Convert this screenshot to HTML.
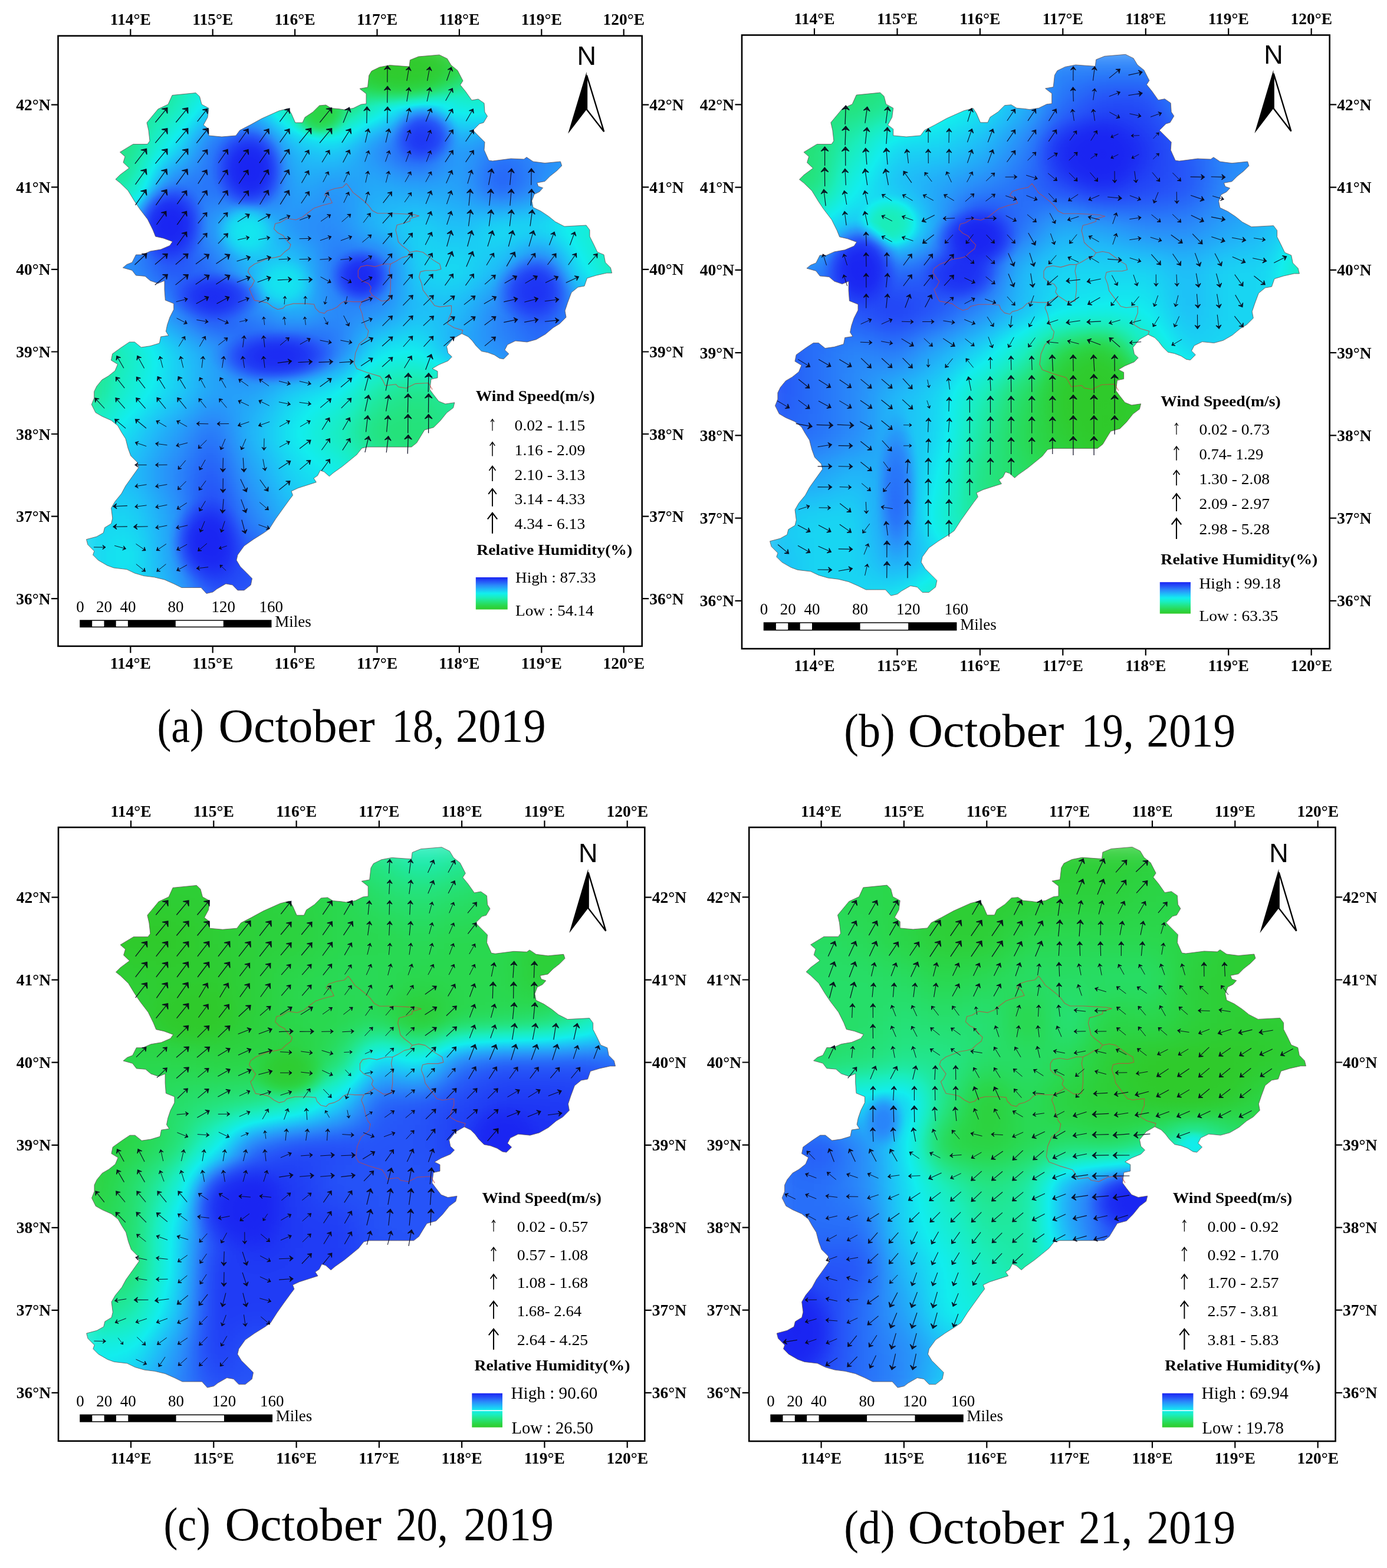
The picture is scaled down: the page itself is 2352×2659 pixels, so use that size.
<!DOCTYPE html>
<html><head><meta charset="utf-8"><title>Wind speed and relative humidity maps</title>
<style>html,body{margin:0;padding:0;background:#fff}svg{display:block}.tk{font:bold 27.5px "Liberation Serif",serif}.lg{font:26px "Liberation Serif",serif}.lh{font:bold 26px "Liberation Serif",serif}.cap{font:81px "Liberation Serif",serif}.sb{font:27px "Liberation Serif",serif}.n{font:45px "Liberation Sans",sans-serif}</style></head><body>
<svg width="2352" height="2659" viewBox="0 0 2352 2659">
<defs>
<radialGradient id="g0"><stop offset="0" stop-color="rgb(0,0,0)" stop-opacity="1"/><stop offset=".25" stop-color="rgb(0,0,0)" stop-opacity=".96"/><stop offset=".45" stop-color="rgb(0,0,0)" stop-opacity=".8"/><stop offset=".6" stop-color="rgb(0,0,0)" stop-opacity=".55"/><stop offset=".75" stop-color="rgb(0,0,0)" stop-opacity=".28"/><stop offset=".88" stop-color="rgb(0,0,0)" stop-opacity=".09"/><stop offset="1" stop-color="rgb(0,0,0)" stop-opacity="0"/></radialGradient>
<radialGradient id="g1"><stop offset="0" stop-color="rgb(13,13,13)" stop-opacity="1"/><stop offset=".25" stop-color="rgb(13,13,13)" stop-opacity=".96"/><stop offset=".45" stop-color="rgb(13,13,13)" stop-opacity=".8"/><stop offset=".6" stop-color="rgb(13,13,13)" stop-opacity=".55"/><stop offset=".75" stop-color="rgb(13,13,13)" stop-opacity=".28"/><stop offset=".88" stop-color="rgb(13,13,13)" stop-opacity=".09"/><stop offset="1" stop-color="rgb(13,13,13)" stop-opacity="0"/></radialGradient>
<radialGradient id="g7"><stop offset="0" stop-color="rgb(89,89,89)" stop-opacity="1"/><stop offset=".25" stop-color="rgb(89,89,89)" stop-opacity=".96"/><stop offset=".45" stop-color="rgb(89,89,89)" stop-opacity=".8"/><stop offset=".6" stop-color="rgb(89,89,89)" stop-opacity=".55"/><stop offset=".75" stop-color="rgb(89,89,89)" stop-opacity=".28"/><stop offset=".88" stop-color="rgb(89,89,89)" stop-opacity=".09"/><stop offset="1" stop-color="rgb(89,89,89)" stop-opacity="0"/></radialGradient>
<radialGradient id="g10"><stop offset="0" stop-color="rgb(128,128,128)" stop-opacity="1"/><stop offset=".25" stop-color="rgb(128,128,128)" stop-opacity=".96"/><stop offset=".45" stop-color="rgb(128,128,128)" stop-opacity=".8"/><stop offset=".6" stop-color="rgb(128,128,128)" stop-opacity=".55"/><stop offset=".75" stop-color="rgb(128,128,128)" stop-opacity=".28"/><stop offset=".88" stop-color="rgb(128,128,128)" stop-opacity=".09"/><stop offset="1" stop-color="rgb(128,128,128)" stop-opacity="0"/></radialGradient>
<radialGradient id="g16"><stop offset="0" stop-color="rgb(204,204,204)" stop-opacity="1"/><stop offset=".25" stop-color="rgb(204,204,204)" stop-opacity=".96"/><stop offset=".45" stop-color="rgb(204,204,204)" stop-opacity=".8"/><stop offset=".6" stop-color="rgb(204,204,204)" stop-opacity=".55"/><stop offset=".75" stop-color="rgb(204,204,204)" stop-opacity=".28"/><stop offset=".88" stop-color="rgb(204,204,204)" stop-opacity=".09"/><stop offset="1" stop-color="rgb(204,204,204)" stop-opacity="0"/></radialGradient>
<radialGradient id="g20"><stop offset="0" stop-color="rgb(255,255,255)" stop-opacity="1"/><stop offset=".25" stop-color="rgb(255,255,255)" stop-opacity=".96"/><stop offset=".45" stop-color="rgb(255,255,255)" stop-opacity=".8"/><stop offset=".6" stop-color="rgb(255,255,255)" stop-opacity=".55"/><stop offset=".75" stop-color="rgb(255,255,255)" stop-opacity=".28"/><stop offset=".88" stop-color="rgb(255,255,255)" stop-opacity=".09"/><stop offset="1" stop-color="rgb(255,255,255)" stop-opacity="0"/></radialGradient>
<filter id="gb" color-interpolation-filters="sRGB" x="-5%" y="-5%" width="110%" height="110%"><feGaussianBlur stdDeviation="27"/></filter>
<filter id="ramp" color-interpolation-filters="sRGB" x="0" y="0" width="100%" height="100%"><feComponentTransfer><feFuncR type="table" tableValues="0.188 0.165 0.141 0.102 0.071 0.125 0.165 0.149 0.102"/><feFuncG type="table" tableValues="0.792 0.847 0.894 0.933 0.933 0.737 0.541 0.329 0.141"/><feFuncB type="table" tableValues="0.165 0.306 0.510 0.745 0.933 0.973 0.980 0.973 0.949"/></feComponentTransfer></filter>
<linearGradient id="lgd" x1="0" y1="0" x2="0" y2="1"><stop offset="0.000" stop-color="rgb(26,36,242)"/><stop offset="0.125" stop-color="rgb(38,84,248)"/><stop offset="0.250" stop-color="rgb(42,138,250)"/><stop offset="0.375" stop-color="rgb(32,188,248)"/><stop offset="0.500" stop-color="rgb(18,238,238)"/><stop offset="0.625" stop-color="rgb(26,238,190)"/><stop offset="0.750" stop-color="rgb(36,228,130)"/><stop offset="0.875" stop-color="rgb(42,216,78)"/><stop offset="1.000" stop-color="rgb(48,202,42)"/></linearGradient>
</defs>
<rect width="2352" height="2659" fill="#fff"/>
<g id="panel-a">
<clipPath id="cpa"><path d="M292 161.5L332 157.5L338.5 163.7L342 177L354 183.6L352 199L345 212L354 219L354 230L376 232L400 230L406.6 221L424 212L444 201L473 188L488.5 184L494 192.5L500.7 208L513 208L517 199L530.5 190L541.6 179L552.7 178L561.5 183.6L575 184.7L583.6 186L599 183.6L612.4 177L621 176L621 159L610 150.4L623.5 148L625.7 128L630 120.6L643.4 114L661 110.6L694 113L695.4 101.8L709.7 96L745 93L758.4 99.6L765 110.6L776 119.5L785 137L780.5 144L789.4 155L800 170L811 168L821 175L822 190L826.5 197L820 208L813 210L802 221L822 241L821 254.4L828.8 272L835.4 273L866.4 269L888.5 270L893 266.6L904 274L924 276.5L950.4 274L952.7 281L943.8 290L932.7 298.7L924 307.5L910.6 310L912.8 316L920.6 318.6L915 325L906 329.6L901.8 340.7L904 351.8L917 358L930.5 367L941.6 376L957 384L994 382L1000 390L1000 401L1006.6 414L1013 427.4L1024 432L1026.5 445L1035.4 454L1037.6 463L1028.8 463L1011 467L995.6 471.7L991 485L980 487L969 496L962.4 513.7L958 527L960 538L949 549L938 555.7L924.8 566.8L909.3 575.7L893.8 580L874 578L860.6 584.5L856 593.4L862.8 600L854 608.8L847.3 607.7L838.5 602L827.4 597.8L816.4 595.6L807.5 586.7L800.9 577.9L794 571L783 565.7L768.6 574L757.5 587.6L759.7 598.7L766.4 605L759.7 612L744 618.6L733 625L742 629.6L742 640.7L731 643L728.8 660.6L735.4 669.5L744 680.5L755.3 685L770.8 682.7L768.6 691.6L757.5 700L746.5 713.7L735.4 724.8L720 729L713.3 740L706.6 751L697.8 758L671 758L622.6 758L613.7 760L605 771L591.6 782L580.5 791L565 802L558.4 807.7L549.6 800L543 797.8L538.5 806.6L531.9 811L536.3 817.7L523 822L505.3 827.7L494 833L496.5 839.8L489.8 848.7L478.8 864L467.7 879.6L456.6 897L447.4 903.6L429.7 914.7L414 925.8L403 941L401 950L407.6 961L418.7 972L427.5 981L425.3 992L414 1001L403 1001L394.3 992L383 990L367.8 998.8L361 1004L350 1006.5L341 996.5L325.8 996.5L308 996.5L294.8 990L279 983L261.6 978.8L244 976.6L228.4 972L215 965.6L193 963L182 959L166.5 950L157.6 941L159.8 934.6L148.8 923.5L146.5 914.7L164 910L175.3 903.6L177.5 894.8L188.6 888L190.8 879L188.6 861.6L195 850.5L206 837L213 824L224 808.5L235 793L232.8 784L221.8 773L217 759.8L213 744L206 733L199.6 721.7L188.5 712.8L173 706L162 699.6L155.3 686L159.7 675L159.7 664L164 655L173 644L184 637.6L195 628.8L199.6 617.7L188.5 611L190.7 600L206 589L219.5 580L228.3 580L239.4 589L254.9 586.7L270.4 582L272.6 571L285.8 569L281.4 562L283.6 551L288 538L294.7 524.8L294.7 514.8L280.3 509L279 491.6L279 476L268 480.5L254.9 476L246 468.4L230.5 467L224 458.4L208.4 454L215 448.5L224 445L230.5 432L241.6 432L254.9 426L272.6 423L288 416.4L292.5 409.7L277 404L263.7 401L259.3 390L250.4 372L236.7 354L228 341L217 323L203.5 310L196 304L203.5 296.5L219 285L209 275.5L212 265.5L203.5 258L225.7 244.5L250 244.5L254 239L252 221L249 208L268 185L285 177Z"/></clipPath>
<g clip-path="url(#cpa)"><g filter="url(#ramp)">
<g filter="url(#gb)">
<rect x="116.3" y="72.5" width="70.7" height="70.8" fill="rgb(72,72,72)"/>
<rect x="186" y="72.5" width="210.1" height="70.8" fill="rgb(80,80,80)"/>
<rect x="395.1" y="72.5" width="140.4" height="70.8" fill="rgb(64,64,64)"/>
<rect x="534.4" y="72.5" width="70.7" height="70.8" fill="rgb(16,16,16)"/>
<rect x="604.1" y="72.5" width="140.4" height="70.8" fill="rgb(0,0,0)"/>
<rect x="743.6" y="72.5" width="210.1" height="70.8" fill="rgb(32,32,32)"/>
<rect x="952.6" y="72.5" width="70.7" height="70.8" fill="rgb(112,112,112)"/>
<rect x="1022.4" y="72.5" width="70.7" height="70.8" fill="rgb(191,191,191)"/>
<rect x="116.3" y="142.3" width="70.7" height="70.8" fill="rgb(64,64,64)"/>
<rect x="186" y="142.3" width="70.7" height="70.8" fill="rgb(72,72,72)"/>
<rect x="255.6" y="142.3" width="70.7" height="70.8" fill="rgb(80,80,80)"/>
<rect x="325.4" y="142.3" width="70.7" height="70.8" fill="rgb(143,143,143)"/>
<rect x="395.1" y="142.3" width="70.7" height="70.8" fill="rgb(151,151,151)"/>
<rect x="464.8" y="142.3" width="70.7" height="70.8" fill="rgb(64,64,64)"/>
<rect x="534.4" y="142.3" width="70.7" height="70.8" fill="rgb(32,32,32)"/>
<rect x="604.1" y="142.3" width="70.7" height="70.8" fill="rgb(96,96,96)"/>
<rect x="673.9" y="142.3" width="70.7" height="70.8" fill="rgb(159,159,159)"/>
<rect x="743.6" y="142.3" width="140.4" height="70.8" fill="rgb(112,112,112)"/>
<rect x="882.9" y="142.3" width="70.7" height="70.8" fill="rgb(151,151,151)"/>
<rect x="952.6" y="142.3" width="140.4" height="70.8" fill="rgb(191,191,191)"/>
<rect x="116.3" y="212.1" width="140.4" height="70.8" fill="rgb(64,64,64)"/>
<rect x="255.6" y="212.1" width="70.7" height="70.8" fill="rgb(128,128,128)"/>
<rect x="325.4" y="212.1" width="70.7" height="70.8" fill="rgb(207,207,207)"/>
<rect x="395.1" y="212.1" width="70.7" height="70.8" fill="rgb(239,239,239)"/>
<rect x="464.8" y="212.1" width="70.7" height="70.8" fill="rgb(159,159,159)"/>
<rect x="534.4" y="212.1" width="70.7" height="70.8" fill="rgb(143,143,143)"/>
<rect x="604.1" y="212.1" width="70.7" height="70.8" fill="rgb(191,191,191)"/>
<rect x="673.9" y="212.1" width="70.7" height="70.8" fill="rgb(239,239,239)"/>
<rect x="743.6" y="212.1" width="70.7" height="70.8" fill="rgb(175,175,175)"/>
<rect x="813.3" y="212.1" width="70.7" height="70.8" fill="rgb(199,199,199)"/>
<rect x="882.9" y="212.1" width="140.4" height="70.8" fill="rgb(191,191,191)"/>
<rect x="1022.4" y="212.1" width="70.7" height="70.8" fill="rgb(151,151,151)"/>
<rect x="116.3" y="281.9" width="140.4" height="70.8" fill="rgb(80,80,80)"/>
<rect x="255.6" y="281.9" width="70.7" height="70.8" fill="rgb(207,207,207)"/>
<rect x="325.4" y="281.9" width="70.7" height="70.8" fill="rgb(201,201,201)"/>
<rect x="395.1" y="281.9" width="70.7" height="70.8" fill="rgb(255,255,255)"/>
<rect x="464.8" y="281.9" width="70.7" height="70.8" fill="rgb(169,169,169)"/>
<rect x="534.4" y="281.9" width="70.7" height="70.8" fill="rgb(185,185,185)"/>
<rect x="604.1" y="281.9" width="70.7" height="70.8" fill="rgb(169,169,169)"/>
<rect x="673.9" y="281.9" width="140.4" height="70.8" fill="rgb(175,175,175)"/>
<rect x="813.3" y="281.9" width="70.7" height="70.8" fill="rgb(223,223,223)"/>
<rect x="882.9" y="281.9" width="70.7" height="70.8" fill="rgb(191,191,191)"/>
<rect x="952.6" y="281.9" width="70.7" height="70.8" fill="rgb(151,151,151)"/>
<rect x="1022.4" y="281.9" width="70.7" height="70.8" fill="rgb(112,112,112)"/>
<rect x="116.3" y="351.7" width="70.7" height="70.8" fill="rgb(135,135,135)"/>
<rect x="186" y="351.7" width="70.7" height="70.8" fill="rgb(175,175,175)"/>
<rect x="255.6" y="351.7" width="70.7" height="70.8" fill="rgb(255,255,255)"/>
<rect x="325.4" y="351.7" width="70.7" height="70.8" fill="rgb(175,175,175)"/>
<rect x="395.1" y="351.7" width="70.7" height="70.8" fill="rgb(128,128,128)"/>
<rect x="464.8" y="351.7" width="140.4" height="70.8" fill="rgb(191,191,191)"/>
<rect x="604.1" y="351.7" width="70.7" height="70.8" fill="rgb(159,159,159)"/>
<rect x="673.9" y="351.7" width="70.7" height="70.8" fill="rgb(143,143,143)"/>
<rect x="743.6" y="351.7" width="70.7" height="70.8" fill="rgb(159,159,159)"/>
<rect x="813.3" y="351.7" width="140.4" height="70.8" fill="rgb(134,134,134)"/>
<rect x="952.6" y="351.7" width="70.7" height="70.8" fill="rgb(112,112,112)"/>
<rect x="1022.4" y="351.7" width="70.7" height="70.8" fill="rgb(96,96,96)"/>
<rect x="116.3" y="421.5" width="140.4" height="70.8" fill="rgb(191,191,191)"/>
<rect x="255.6" y="421.5" width="70.7" height="70.8" fill="rgb(223,223,223)"/>
<rect x="325.4" y="421.5" width="70.7" height="70.8" fill="rgb(207,207,207)"/>
<rect x="395.1" y="421.5" width="70.7" height="70.8" fill="rgb(159,159,159)"/>
<rect x="464.8" y="421.5" width="70.7" height="70.8" fill="rgb(143,143,143)"/>
<rect x="534.4" y="421.5" width="70.7" height="70.8" fill="rgb(207,207,207)"/>
<rect x="604.1" y="421.5" width="70.7" height="70.8" fill="rgb(223,223,223)"/>
<rect x="673.9" y="421.5" width="70.7" height="70.8" fill="rgb(143,143,143)"/>
<rect x="743.6" y="421.5" width="70.7" height="70.8" fill="rgb(137,137,137)"/>
<rect x="813.3" y="421.5" width="70.7" height="70.8" fill="rgb(159,159,159)"/>
<rect x="882.9" y="421.5" width="70.7" height="70.8" fill="rgb(223,223,223)"/>
<rect x="952.6" y="421.5" width="70.7" height="70.8" fill="rgb(128,128,128)"/>
<rect x="1022.4" y="421.5" width="70.7" height="70.8" fill="rgb(80,80,80)"/>
<rect x="116.3" y="491.3" width="70.7" height="70.8" fill="rgb(64,64,64)"/>
<rect x="186" y="491.3" width="70.7" height="70.8" fill="rgb(159,159,159)"/>
<rect x="255.6" y="491.3" width="70.7" height="70.8" fill="rgb(191,191,191)"/>
<rect x="325.4" y="491.3" width="70.7" height="70.8" fill="rgb(239,239,239)"/>
<rect x="395.1" y="491.3" width="70.7" height="70.8" fill="rgb(191,191,191)"/>
<rect x="464.8" y="491.3" width="70.7" height="70.8" fill="rgb(159,159,159)"/>
<rect x="534.4" y="491.3" width="140.4" height="70.8" fill="rgb(191,191,191)"/>
<rect x="673.9" y="491.3" width="140.4" height="70.8" fill="rgb(159,159,159)"/>
<rect x="813.3" y="491.3" width="70.7" height="70.8" fill="rgb(198,198,198)"/>
<rect x="882.9" y="491.3" width="70.7" height="70.8" fill="rgb(223,223,223)"/>
<rect x="952.6" y="491.3" width="70.7" height="70.8" fill="rgb(191,191,191)"/>
<rect x="1022.4" y="491.3" width="70.7" height="70.8" fill="rgb(135,135,135)"/>
<rect x="116.3" y="561.1" width="70.7" height="70.8" fill="rgb(64,64,64)"/>
<rect x="186" y="561.1" width="70.7" height="70.8" fill="rgb(96,96,96)"/>
<rect x="255.6" y="561.1" width="70.7" height="70.8" fill="rgb(143,143,143)"/>
<rect x="325.4" y="561.1" width="70.7" height="70.8" fill="rgb(175,175,175)"/>
<rect x="395.1" y="561.1" width="70.7" height="70.8" fill="rgb(223,223,223)"/>
<rect x="464.8" y="561.1" width="70.7" height="70.8" fill="rgb(239,239,239)"/>
<rect x="534.4" y="561.1" width="70.7" height="70.8" fill="rgb(207,207,207)"/>
<rect x="604.1" y="561.1" width="70.7" height="70.8" fill="rgb(134,134,134)"/>
<rect x="673.9" y="561.1" width="70.7" height="70.8" fill="rgb(128,128,128)"/>
<rect x="743.6" y="561.1" width="70.7" height="70.8" fill="rgb(175,175,175)"/>
<rect x="813.3" y="561.1" width="70.7" height="70.8" fill="rgb(191,191,191)"/>
<rect x="882.9" y="561.1" width="70.7" height="70.8" fill="rgb(207,207,207)"/>
<rect x="952.6" y="561.1" width="140.4" height="70.8" fill="rgb(191,191,191)"/>
<rect x="116.3" y="630.8" width="70.7" height="70.8" fill="rgb(64,64,64)"/>
<rect x="186" y="630.8" width="70.7" height="70.8" fill="rgb(112,112,112)"/>
<rect x="255.6" y="630.8" width="70.7" height="70.8" fill="rgb(143,143,143)"/>
<rect x="325.4" y="630.8" width="140.4" height="70.8" fill="rgb(175,175,175)"/>
<rect x="464.8" y="630.8" width="70.7" height="70.8" fill="rgb(143,143,143)"/>
<rect x="534.4" y="630.8" width="70.7" height="70.8" fill="rgb(128,128,128)"/>
<rect x="604.1" y="630.8" width="70.7" height="70.8" fill="rgb(80,80,80)"/>
<rect x="673.9" y="630.8" width="70.7" height="70.8" fill="rgb(64,64,64)"/>
<rect x="743.6" y="630.8" width="70.7" height="70.8" fill="rgb(80,80,80)"/>
<rect x="813.3" y="630.8" width="70.7" height="70.8" fill="rgb(135,135,135)"/>
<rect x="882.9" y="630.8" width="210.1" height="70.8" fill="rgb(191,191,191)"/>
<rect x="116.3" y="700.6" width="70.7" height="70.8" fill="rgb(104,104,104)"/>
<rect x="186" y="700.6" width="70.7" height="70.8" fill="rgb(143,143,143)"/>
<rect x="255.6" y="700.6" width="70.7" height="70.8" fill="rgb(175,175,175)"/>
<rect x="325.4" y="700.6" width="70.7" height="70.8" fill="rgb(207,207,207)"/>
<rect x="395.1" y="700.6" width="70.7" height="70.8" fill="rgb(159,159,159)"/>
<rect x="464.8" y="700.6" width="70.7" height="70.8" fill="rgb(128,128,128)"/>
<rect x="534.4" y="700.6" width="70.7" height="70.8" fill="rgb(96,96,96)"/>
<rect x="604.1" y="700.6" width="140.4" height="70.8" fill="rgb(57,57,57)"/>
<rect x="743.6" y="700.6" width="70.7" height="70.8" fill="rgb(69,69,69)"/>
<rect x="813.3" y="700.6" width="70.7" height="70.8" fill="rgb(80,80,80)"/>
<rect x="882.9" y="700.6" width="70.7" height="70.8" fill="rgb(135,135,135)"/>
<rect x="952.6" y="700.6" width="140.4" height="70.8" fill="rgb(191,191,191)"/>
<rect x="116.3" y="770.4" width="140.4" height="70.8" fill="rgb(159,159,159)"/>
<rect x="255.6" y="770.4" width="70.7" height="70.8" fill="rgb(191,191,191)"/>
<rect x="325.4" y="770.4" width="70.7" height="70.8" fill="rgb(223,223,223)"/>
<rect x="395.1" y="770.4" width="70.7" height="70.8" fill="rgb(175,175,175)"/>
<rect x="464.8" y="770.4" width="70.7" height="70.8" fill="rgb(143,143,143)"/>
<rect x="534.4" y="770.4" width="70.7" height="70.8" fill="rgb(128,128,128)"/>
<rect x="604.1" y="770.4" width="70.7" height="70.8" fill="rgb(92,92,92)"/>
<rect x="673.9" y="770.4" width="140.4" height="70.8" fill="rgb(57,57,57)"/>
<rect x="813.3" y="770.4" width="70.7" height="70.8" fill="rgb(69,69,69)"/>
<rect x="882.9" y="770.4" width="70.7" height="70.8" fill="rgb(80,80,80)"/>
<rect x="952.6" y="770.4" width="70.7" height="70.8" fill="rgb(135,135,135)"/>
<rect x="1022.4" y="770.4" width="70.7" height="70.8" fill="rgb(191,191,191)"/>
<rect x="116.3" y="840.2" width="140.4" height="70.8" fill="rgb(143,143,143)"/>
<rect x="255.6" y="840.2" width="70.7" height="70.8" fill="rgb(175,175,175)"/>
<rect x="325.4" y="840.2" width="70.7" height="70.8" fill="rgb(239,239,239)"/>
<rect x="395.1" y="840.2" width="70.7" height="70.8" fill="rgb(191,191,191)"/>
<rect x="464.8" y="840.2" width="70.7" height="70.8" fill="rgb(159,159,159)"/>
<rect x="534.4" y="840.2" width="70.7" height="70.8" fill="rgb(143,143,143)"/>
<rect x="604.1" y="840.2" width="70.7" height="70.8" fill="rgb(128,128,128)"/>
<rect x="673.9" y="840.2" width="70.7" height="70.8" fill="rgb(92,92,92)"/>
<rect x="743.6" y="840.2" width="140.4" height="70.8" fill="rgb(57,57,57)"/>
<rect x="882.9" y="840.2" width="70.7" height="70.8" fill="rgb(69,69,69)"/>
<rect x="952.6" y="840.2" width="70.7" height="70.8" fill="rgb(80,80,80)"/>
<rect x="1022.4" y="840.2" width="70.7" height="70.8" fill="rgb(135,135,135)"/>
<rect x="116.3" y="910" width="70.7" height="70.8" fill="rgb(143,143,143)"/>
<rect x="186" y="910" width="70.7" height="70.8" fill="rgb(128,128,128)"/>
<rect x="255.6" y="910" width="70.7" height="70.8" fill="rgb(175,175,175)"/>
<rect x="325.4" y="910" width="70.7" height="70.8" fill="rgb(255,255,255)"/>
<rect x="395.1" y="910" width="70.7" height="70.8" fill="rgb(223,223,223)"/>
<rect x="464.8" y="910" width="70.7" height="70.8" fill="rgb(191,191,191)"/>
<rect x="534.4" y="910" width="70.7" height="70.8" fill="rgb(159,159,159)"/>
<rect x="604.1" y="910" width="70.7" height="70.8" fill="rgb(143,143,143)"/>
<rect x="673.9" y="910" width="70.7" height="70.8" fill="rgb(128,128,128)"/>
<rect x="743.6" y="910" width="70.7" height="70.8" fill="rgb(92,92,92)"/>
<rect x="813.3" y="910" width="140.4" height="70.8" fill="rgb(57,57,57)"/>
<rect x="952.6" y="910" width="70.7" height="70.8" fill="rgb(69,69,69)"/>
<rect x="1022.4" y="910" width="70.7" height="70.8" fill="rgb(80,80,80)"/>
<rect x="116.3" y="979.8" width="140.4" height="70.8" fill="rgb(143,143,143)"/>
<rect x="255.6" y="979.8" width="70.7" height="70.8" fill="rgb(159,159,159)"/>
<rect x="325.4" y="979.8" width="210.1" height="70.8" fill="rgb(223,223,223)"/>
<rect x="534.4" y="979.8" width="70.7" height="70.8" fill="rgb(191,191,191)"/>
<rect x="604.1" y="979.8" width="70.7" height="70.8" fill="rgb(159,159,159)"/>
<rect x="673.9" y="979.8" width="70.7" height="70.8" fill="rgb(143,143,143)"/>
<rect x="743.6" y="979.8" width="70.7" height="70.8" fill="rgb(128,128,128)"/>
<rect x="813.3" y="979.8" width="70.7" height="70.8" fill="rgb(92,92,92)"/>
<rect x="882.9" y="979.8" width="140.4" height="70.8" fill="rgb(57,57,57)"/>
<rect x="1022.4" y="979.8" width="70.7" height="70.8" fill="rgb(69,69,69)"/>
</g>
<ellipse cx="689.7" cy="119.1" rx="122" ry="69.8" fill="url(#g0)" opacity="0.9"/>
<ellipse cx="541.9" cy="195.8" rx="52.3" ry="43.6" fill="url(#g1)" opacity="0.8"/>
<ellipse cx="416.5" cy="391.3" rx="52.3" ry="52.3" fill="url(#g10)" opacity="0.8"/>
<ellipse cx="479.2" cy="482" rx="61" ry="48.9" fill="url(#g10)" opacity="0.8"/>
<ellipse cx="286.8" cy="378.7" rx="66.2" ry="73.3" fill="url(#g20)" opacity="0.95"/>
<ellipse cx="423.4" cy="286.6" rx="66.2" ry="73.3" fill="url(#g20)" opacity="0.95"/>
<ellipse cx="720.4" cy="227.9" rx="61" ry="52.3" fill="url(#g20)" opacity="0.7"/>
<ellipse cx="611.6" cy="469.4" rx="55.8" ry="52.3" fill="url(#g20)" opacity="0.9"/>
<ellipse cx="904.4" cy="491.8" rx="73.2" ry="62.8" fill="url(#g20)" opacity="0.75"/>
<ellipse cx="468" cy="606.2" rx="113.3" ry="48.9" fill="url(#g20)" opacity="0.85"/>
<ellipse cx="350.9" cy="917.5" rx="66.2" ry="78.5" fill="url(#g20)" opacity="0.95"/>
<ellipse cx="367.7" cy="501.5" rx="87.1" ry="45.4" fill="url(#g20)" opacity="0.8"/>
</g></g>
<path d="M292 161.5L332 157.5L338.5 163.7L342 177L354 183.6L352 199L345 212L354 219L354 230L376 232L400 230L406.6 221L424 212L444 201L473 188L488.5 184L494 192.5L500.7 208L513 208L517 199L530.5 190L541.6 179L552.7 178L561.5 183.6L575 184.7L583.6 186L599 183.6L612.4 177L621 176L621 159L610 150.4L623.5 148L625.7 128L630 120.6L643.4 114L661 110.6L694 113L695.4 101.8L709.7 96L745 93L758.4 99.6L765 110.6L776 119.5L785 137L780.5 144L789.4 155L800 170L811 168L821 175L822 190L826.5 197L820 208L813 210L802 221L822 241L821 254.4L828.8 272L835.4 273L866.4 269L888.5 270L893 266.6L904 274L924 276.5L950.4 274L952.7 281L943.8 290L932.7 298.7L924 307.5L910.6 310L912.8 316L920.6 318.6L915 325L906 329.6L901.8 340.7L904 351.8L917 358L930.5 367L941.6 376L957 384L994 382L1000 390L1000 401L1006.6 414L1013 427.4L1024 432L1026.5 445L1035.4 454L1037.6 463L1028.8 463L1011 467L995.6 471.7L991 485L980 487L969 496L962.4 513.7L958 527L960 538L949 549L938 555.7L924.8 566.8L909.3 575.7L893.8 580L874 578L860.6 584.5L856 593.4L862.8 600L854 608.8L847.3 607.7L838.5 602L827.4 597.8L816.4 595.6L807.5 586.7L800.9 577.9L794 571L783 565.7L768.6 574L757.5 587.6L759.7 598.7L766.4 605L759.7 612L744 618.6L733 625L742 629.6L742 640.7L731 643L728.8 660.6L735.4 669.5L744 680.5L755.3 685L770.8 682.7L768.6 691.6L757.5 700L746.5 713.7L735.4 724.8L720 729L713.3 740L706.6 751L697.8 758L671 758L622.6 758L613.7 760L605 771L591.6 782L580.5 791L565 802L558.4 807.7L549.6 800L543 797.8L538.5 806.6L531.9 811L536.3 817.7L523 822L505.3 827.7L494 833L496.5 839.8L489.8 848.7L478.8 864L467.7 879.6L456.6 897L447.4 903.6L429.7 914.7L414 925.8L403 941L401 950L407.6 961L418.7 972L427.5 981L425.3 992L414 1001L403 1001L394.3 992L383 990L367.8 998.8L361 1004L350 1006.5L341 996.5L325.8 996.5L308 996.5L294.8 990L279 983L261.6 978.8L244 976.6L228.4 972L215 965.6L193 963L182 959L166.5 950L157.6 941L159.8 934.6L148.8 923.5L146.5 914.7L164 910L175.3 903.6L177.5 894.8L188.6 888L190.8 879L188.6 861.6L195 850.5L206 837L213 824L224 808.5L235 793L232.8 784L221.8 773L217 759.8L213 744L206 733L199.6 721.7L188.5 712.8L173 706L162 699.6L155.3 686L159.7 675L159.7 664L164 655L173 644L184 637.6L195 628.8L199.6 617.7L188.5 611L190.7 600L206 589L219.5 580L228.3 580L239.4 589L254.9 586.7L270.4 582L272.6 571L285.8 569L281.4 562L283.6 551L288 538L294.7 524.8L294.7 514.8L280.3 509L279 491.6L279 476L268 480.5L254.9 476L246 468.4L230.5 467L224 458.4L208.4 454L215 448.5L224 445L230.5 432L241.6 432L254.9 426L272.6 423L288 416.4L292.5 409.7L277 404L263.7 401L259.3 390L250.4 372L236.7 354L228 341L217 323L203.5 310L196 304L203.5 296.5L219 285L209 275.5L212 265.5L203.5 258L225.7 244.5L250 244.5L254 239L252 221L249 208L268 185L285 177Z" fill="none" stroke="#5a4a4a" stroke-width="1" stroke-opacity=".75" stroke-linejoin="round"/>
<path d="M587.5 311L594.1 319.8L598.5 326.4L607.3 333L618.3 341.8L624.9 348.5L631.5 357.3L640.3 361.7L662.2 361.7L684.2 362.8L701.8 363.9L710.6 366.1L695.2 370.5L695.2 374.9L682 379.3L673.2 381.5L671 390.3L673.2 399.2L675.4 410.2L682 416.8L690.8 423.4L695.2 427.8L690.8 434.4L682 436.6L671 443.3L662.2 447.7L651.2 447.7L635.9 452.1L622.7 449.9L611.7 452.1L607.3 458.7L607.3 469.7L613.9 476.3L624.9 480.7L629.3 487.4L627.1 494L631.5 500.6L624.9 505L613.9 511.6L598.5 511.6L585.3 510.5L578.7 513.8L572.1 520.4L563.4 524.8L554.6 527L550.2 531.4L541.4 529.2L534.8 522.6L532.6 516L519.4 514.9L497.4 514.9L484.2 518.2L479.9 522.6L471.1 524.8L462.3 520.4L453.5 513.8L444.7 511.6L431.5 509.4L427.1 500.6L422.7 489.6L427.1 485.1L431.5 476.3L424.9 467.5L420.5 460.9L422.7 454.3L431.5 447.7L442.5 443.3L453.5 438.8L466.7 436.6L475.5 434.4L482 427.8L490.8 421.2L493 414.6L486.4 408L479.9 399.2L471.1 394.8L464.5 388.1L466.7 379.3L475.5 377.1L486.4 370.5L501.8 372.7L512.8 368.3L523.8 359.5L532.6 352.9L545.8 348.5L554.6 346.2L563.4 344L559 335.2L550.2 330.8L554.6 324.2L567.7 319.8L580.9 317.6L587.5 311" fill="none" stroke="#c8463c" stroke-width="1.1" stroke-opacity=".75" stroke-linejoin="round"/>
<path d="M695.2 427.8L706.2 425.6L717.2 427.8L726 434.4L734.7 441.1L745.7 447.7L747.9 456.5L739.1 458.7L721.6 458.7L712.8 460.9L710.6 469.7L715 480.7L717.2 491.8L723.8 500.6L730.3 509.4L736.9 518.2L745.7 520.4L765.5 518.2L765.5 529.2L761.1 540.3L758.9 549.1L769.9 555.7L784.8 560.1L783.1 565.7" fill="none" stroke="#c8463c" stroke-width="1.1" stroke-opacity=".75" stroke-linejoin="round"/>
<path d="M662.2 447.7L660 458.7L662.2 469.7L662.2 480.7L662.2 491.8L660 509.4L646.8 510.5L631.5 500.6" fill="none" stroke="#c8463c" stroke-width="1.1" stroke-opacity=".75" stroke-linejoin="round"/>
<path d="M613.9 511.6L609.5 520.4L613.9 531.4L616.1 542.5L620.5 555.7L624.8 561L622.6 572.1L609.3 583.1L602.7 598.6L600.4 616.3L604.9 625.2L622.6 631.8L644.7 638.4L649.1 645.1L653.5 653.9L671.2 651.7L675.7 656.1L688.9 658.3L704.4 650.6L726.5 649.5L733.2 660.6" fill="none" stroke="#c8463c" stroke-width="1.1" stroke-opacity=".75" stroke-linejoin="round"/>
<path d="M383.2 967.6L373 958.1M377.8 958.8L373 958.1L374 962.9L374.6 959.6ZM384.8 925.7L371.5 930.2M374.4 926.3L371.5 930.2L376.2 931.6L373.6 929.5ZM406.2 545.7L419.8 542.5M416.5 546.2L419.8 542.5L415.3 540.7L417.7 543ZM448.6 551.1L447 537.2M450.3 540.8L447 537.2L444.7 541.5L447.3 539.3ZM483.5 551.1L481.8 537.2M485.1 540.8L481.8 537.2L479.5 541.5L482.1 539.3ZM482.1 516.2L483.3 502.2M485.7 506.5L483.3 502.2L480.1 506L483.1 504.4ZM518.4 551.1L516.7 537.2M519.9 540.8L516.7 537.2L514.4 541.5L516.9 539.3ZM517.2 516.2L517.8 502.2M520.5 506.3L517.8 502.2L514.9 506.1L517.7 504.4ZM549.2 537.9L555.6 550.3M551.3 548.1L555.6 550.3L556.2 545.5L554.6 548.4ZM554 502.4L550.7 516M549 511.5L550.7 516L554.4 512.8L551.3 513.9ZM588.8 502.4L585.7 516M583.8 511.5L585.7 516L589.3 512.8L586.2 513.9Z" fill="#000" fill-opacity=".7" stroke="#06061c" stroke-opacity=".92" stroke-width="0.9" stroke-linejoin="miter"/>
<path d="M159 927.9L179 928.1M174 931.6L179 928.1L174.1 924.4L176.3 928ZM194.2 925.3L213.5 930.6M207.7 932.8L213.5 930.6L209.6 925.8L210.9 929.9ZM230.9 956.6L246.5 969.1M240.3 968.8L246.5 969.1L244.9 963.2L244.4 967.4ZM230.5 922.3L247 933.6M240.8 933.8L247 933.6L244.9 927.8L244.7 932.1ZM248.6 856.9L228.8 859.4M233.3 855.2L228.8 859.4L234.2 862.4L231.5 859.1ZM248.6 821.7L228.9 824.9M233.2 820.5L228.9 824.9L234.4 827.6L231.6 824.4ZM248.7 788.4L228.7 788.4M233.7 784.8L228.7 788.4L233.7 792L231.5 788.4ZM248.2 756.7L229.3 750.3M235.1 748.5L229.3 750.3L232.8 755.3L231.9 751.2ZM281.4 956.6L265.8 969.1M267.4 963.2L265.8 969.1L271.9 968.8L267.9 967.4ZM281.9 922.4L265.3 933.6M267.4 927.8L265.3 933.6L271.4 933.7L267.6 932ZM283.4 891.1L263.8 895M268 890.5L263.8 895L269.4 897.6L266.5 894.5ZM283.4 856.1L263.8 860.2M267.9 855.7L263.8 860.2L269.4 862.7L266.5 859.7ZM283.4 821.5L263.7 825.1M268 820.6L263.7 825.1L269.3 827.7L266.4 824.6ZM283.6 788.2L263.6 788.5M268.5 784.8L263.6 788.5L268.6 792L266.3 788.5ZM283.5 754.8L263.7 752.2M269.1 749.3L263.7 752.2L268.2 756.4L266.4 752.5ZM282.2 723.6L264.9 713.6M271.1 713L264.9 713.6L267.4 719.2L267.3 714.9ZM276.1 623.6L271 604.2M275.8 608.1L271 604.2L268.8 610L271.7 606.9ZM317.1 958L299.7 967.7M302.3 962.2L299.7 967.7L305.8 968.4L302.1 966.4ZM317.2 923.1L299.7 932.8M302.3 927.2L299.7 932.8L305.8 933.5L302.1 931.5ZM318.2 890.8L298.7 895.3M302.7 890.7L298.7 895.3L304.4 897.7L301.4 894.7ZM316.8 852.7L300 863.6M302.3 857.9L300 863.6L306.2 863.9L302.3 862.1ZM315.5 816.2L301.4 830.4M302.3 824.3L301.4 830.4L307.5 829.4L303.3 828.4ZM314.9 780.7L302 796M302.5 789.9L302 796L308 794.5L303.8 793.9ZM318.1 750.9L298.8 756M302.7 751.3L298.8 756L304.5 758.2L301.4 755.3ZM317.2 723.4L299.7 713.7M305.8 713L299.7 713.7L302.3 719.3L302.1 715.1ZM310.8 623.6L306 604.2M310.7 608.2L306 604.2L303.7 609.9L306.7 606.9ZM303.1 587.5L313.7 570.5M314.1 576.7L313.7 570.5L308 572.9L312.3 572.9ZM299.6 539.5L317.3 548.7M311.2 549.6L317.3 548.7L314.5 543.2L314.8 547.5ZM298.7 511.7L318.1 506.7M314.2 511.5L318.1 506.7L312.4 504.5L315.5 507.4ZM353.2 961.7L333.3 964M337.9 959.9L333.3 964L338.7 967L336.1 963.7ZM350.9 921.5L335.7 934.4M337.1 928.5L335.7 934.4L341.8 933.9L337.8 932.7ZM347.1 883.8L339.5 902.3M338 896.3L339.5 902.3L344.7 899.1L340.5 899.8ZM348.4 849.6L338.1 866.8M337.6 860.6L338.1 866.8L343.8 864.3L339.6 864.4ZM349.2 815.2L337.4 831.3M337.4 825.2L337.4 831.3L343.2 829.4L339 829.1ZM348.2 779.7L338.3 797.1M337.7 790.9L338.3 797.1L343.9 794.5L339.7 794.7ZM350.4 746.4L336.2 760.5M337.2 754.4L336.2 760.5L342.3 759.6L338.1 758.6ZM353.3 718.8L333.3 718.4M338.3 714.9L333.3 718.4L338.2 722.1L336 718.4ZM349.5 691.5L337.1 675.8M343 677.5L337.1 675.8L337.4 682L338.8 678ZM348 657.6L338.5 640M344.1 642.7L338.5 640L337.7 646.1L339.8 642.4ZM342.1 623.8L344.5 604M347.5 609.4L344.5 604L340.3 608.5L344.2 606.7ZM338.3 587.7L348.3 570.3M348.9 576.5L348.3 570.3L342.6 572.9L346.9 572.7ZM333.4 542.4L353.1 545.8M347.6 548.5L353.1 545.8L348.8 541.4L350.4 545.3ZM381.2 883.6L375 902.6M373.2 896.7L375 902.6L380 898.9L375.9 900ZM382 744.3L374.2 762.7M372.9 756.7L374.2 762.7L379.5 759.5L375.3 760.2ZM388.1 718.5L368.1 718.7M373.1 715L368.1 718.7L373.1 722.2L370.9 718.6ZM384.5 691.4L371.7 676M377.7 677.5L371.7 676L372.2 682.2L373.5 678.1ZM383.1 657.5L373.2 640.1M378.8 642.7L373.2 640.1L372.5 646.2L374.5 642.5ZM376.7 623.8L379.6 604M382.4 609.5L379.6 604L375.3 608.4L379.2 606.7ZM370.3 585.2L386 572.8M384.3 578.7L386 572.8L379.8 573.1L383.8 574.5ZM369 540L387.3 548.2M381.2 549.4L387.3 548.2L384.2 542.8L384.8 547ZM416.9 744.3L409 762.7M407.7 756.7L409 762.7L414.3 759.5L410.1 760.1ZM422.4 715.3L403.5 721.9M407.1 716.8L403.5 721.9L409.4 723.6L406.1 721ZM422 688L404 679.4M410 678.3L404 679.4L406.9 684.8L406.4 680.6ZM421.1 654.6L404.8 643M411 643L404.8 643L406.8 648.8L407.1 644.6ZM414.5 623.8L411.4 604M415.8 608.4L411.4 604L408.6 609.5L411.8 606.7ZM411.7 588.9L414.2 569.1M417.2 574.5L414.2 569.1L410 573.6L413.9 571.8ZM403.6 512.8L422.3 505.6M418.9 510.8L422.3 505.6L416.4 504.1L419.7 506.6ZM403.2 406.7L422.7 402.4M418.6 407L422.7 402.4L417.1 399.9L420.1 403ZM438.4 889.7L457.2 896.5M451.3 898.2L457.2 896.5L453.8 891.4L454.6 895.5ZM440.2 851.7L455.4 864.7M449.3 864.2L455.4 864.7L454 858.7L453.3 862.9ZM445.9 778.6L449.7 798.2M445.2 794L449.7 798.2L452.3 792.6L449.2 795.5ZM448 743.5L447.6 763.5M444.1 758.4L447.6 763.5L451.3 758.5L447.7 760.7ZM457.2 715.2L438.4 722M441.9 716.9L438.4 722L444.3 723.7L441 721ZM456.8 688.1L438.9 679.2M444.9 678.2L438.9 679.2L441.7 684.7L441.3 680.5ZM456 654.6L439.7 643M445.8 643L439.7 643L441.7 648.8L441.9 644.6ZM449 623.8L446.6 604M450.8 608.5L446.6 604L443.6 609.4L446.9 606.7ZM448.9 588.9L446.7 569.1M450.9 573.6L446.7 569.1L443.7 574.4L447 571.8ZM438.7 513.3L456.9 505.1M453.9 510.4L456.9 505.1L450.9 503.9L454.4 506.2ZM438 406.4L457.6 402.7M453.4 407.1L457.6 402.7L452.1 400.1L454.9 403.2ZM473.9 758.3L491.4 748.7M488.8 754.2L491.4 748.7L485.3 747.9L489 750ZM474 723.5L491.4 713.7M488.8 719.3L491.4 713.7L485.3 713L489 715ZM472.9 681.7L492.5 685.7M486.9 688.2L492.5 685.7L488.3 681.2L489.8 685.1ZM473 646.3L492.4 651.3M486.6 653.5L492.4 651.3L488.4 646.6L489.7 650.6ZM475 585.5L490.3 572.5M488.8 578.5L490.3 572.5L484.2 573L488.2 574.3ZM472.7 440L492.7 438.8M487.9 442.7L492.7 438.8L487.4 435.5L489.9 439ZM472.7 404.8L492.7 404.3M487.8 408L492.7 404.3L487.6 400.8L489.9 404.3ZM473.5 373.5L491.9 365.7M488.7 371L491.9 365.7L485.9 364.4L489.3 366.8ZM508.9 723.6L526.2 713.5M523.7 719.2L526.2 713.5L520 713L523.8 714.9ZM507.6 682.3L527.4 685.1M522 688L527.4 685.1L523 680.8L524.7 684.7ZM507.8 646.5L527.3 651.1M521.6 653.4L527.3 651.1L523.2 646.4L524.6 650.5ZM508.8 583.9L526.2 574.1M523.7 579.7L526.2 574.1L520.1 573.4L523.8 575.4ZM507.5 439.7L527.5 439.2M522.6 442.9L527.5 439.2L522.4 435.7L524.8 439.2ZM507.5 404.8L527.5 404.3M522.6 408L527.5 404.3L522.4 400.8L524.8 404.3ZM508.2 373.2L526.9 366.1M523.5 371.2L526.9 366.1L520.9 364.5L524.3 367.1ZM542.6 577L562.2 581M556.6 583.5L562.2 581L558 576.5L559.5 580.4ZM543.6 469.5L561.2 479.1M555 479.9L561.2 479.1L558.5 473.5L558.7 477.8ZM542.4 440.1L562.4 438.8M557.6 442.7L562.4 438.8L557.1 435.5L559.6 438.9ZM542.9 407.8L561.8 401.2M558.3 406.3L561.8 401.2L555.9 399.5L559.2 402.1ZM544.1 375.3L560.6 364M558.5 369.8L560.6 364L554.5 363.8L558.4 365.5ZM547.9 343.7L556.8 325.8M557.8 331.9L556.8 325.8L551.4 328.7L555.6 328.2ZM547.8 308.7L557 291M557.9 297.1L557 291L551.5 293.7L555.7 293.4ZM577.4 577L597 581M591.4 583.5L597 581L592.9 576.5L594.3 580.5ZM582.7 535.2L591.8 553M586.3 550.2L591.8 553L592.7 546.9L590.5 550.6ZM578.5 469.4L595.9 479.2M589.8 479.9L595.9 479.2L593.3 473.6L593.5 477.9ZM577.3 440.3L597.2 438.6M592.5 442.6L597.2 438.6L591.9 435.4L594.4 438.8ZM577.8 408L596.6 401.1M593.2 406.2L596.6 401.1L590.7 399.4L594 402ZM579.6 376.2L594.8 363.1M593.4 369.1L594.8 363.1L588.7 363.6L592.7 364.9ZM582.9 343.8L591.5 325.7M592.6 331.8L591.5 325.7L586.1 328.7L590.3 328.2ZM583 308.9L591.4 290.8M592.6 296.8L591.4 290.8L586.1 293.8L590.3 293.3ZM612.8 547.9L631.3 540.3M628.1 545.5L631.3 540.3L625.3 538.9L628.8 541.3ZM612.7 512.7L631.4 505.7M628 510.8L631.4 505.7L625.5 504.1L628.9 506.7ZM613 478.5L631.1 470.1M628.1 475.5L631.1 470.1L625.1 468.9L628.6 471.3ZM613.6 444.7L630.5 434.1M628.2 439.8L630.5 434.1L624.4 433.7L628.2 435.6ZM614.4 410.9L629.8 398.1M628.2 404.1L629.8 398.1L623.6 398.6L627.6 399.9ZM616.1 377.6L628.1 361.6M628 367.8L628.1 361.6L622.2 363.5L626.4 363.8ZM619.5 344.4L624.7 325.1M626.9 330.8L624.7 325.1L619.9 329L624 327.7ZM619.9 309.6L624.3 290.1M626.7 295.7L624.3 290.1L619.7 294.2L623.7 292.8ZM618.7 274.4L625.4 255.5M627.1 261.4L625.4 255.5L620.4 259L624.5 258.1ZM654.4 309.5L659.5 290.2M661.7 295.9L659.5 290.2L654.7 294.1L658.8 292.8ZM653.5 274.3L660.3 255.5M662 261.5L660.3 255.5L655.2 259L659.4 258.1ZM686.1 342.9L697.5 326.5M697.6 332.7L697.5 326.5L691.7 328.6L695.9 328.8ZM686.9 308.6L696.7 291.1M697.4 297.2L696.7 291.1L691.1 293.7L695.3 293.5ZM688.2 274.3L695.3 255.6M696.9 261.5L695.3 255.6L690.2 259L694.3 258.2ZM688.4 239.4L695.2 220.6M696.9 226.6L695.2 220.6L690.1 224.1L694.2 223.2ZM721.8 308.6L731.4 291.1M732.2 297.2L731.4 291.1L725.9 293.7L730.1 293.5ZM723 274.3L730.3 255.6M731.8 261.6L730.3 255.6L725.1 259L729.3 258.2ZM723.1 239.4L730.2 220.7M731.8 226.7L730.2 220.7L725.1 224.1L729.2 223.3Z" fill="#000" fill-opacity=".7" stroke="#06061c" stroke-opacity=".92" stroke-width="1.0" stroke-linejoin="miter"/>
<path d="M177.2 692.5L160.9 674.9M168.2 676.2L160.9 674.9L161.6 682.4L163.1 677.3ZM215.9 892.9L191.9 893.2M197.8 888.6L191.9 893.2L197.9 897.6L195.2 893.2ZM215.9 857.6L191.9 858.7M197.7 854L191.9 858.7L198.1 862.9L195.2 858.6ZM213.1 726.3L194.7 710.9M202.2 711.3L194.7 710.9L196.4 718.2L197.2 713ZM211.8 692.7L195.9 674.7M203.3 676.2L195.9 674.7L196.5 682.2L198.1 677.2ZM211.3 658.2L196.4 639.4M203.7 641.3L196.4 639.4L196.6 646.9L198.5 642ZM209.9 624.3L197.9 603.5M204.8 606.5L197.9 603.5L197 611L199.5 606.4ZM250.7 892.7L226.7 893.4M232.6 888.7L226.7 893.4L232.9 897.7L230 893.3ZM248 726.2L229.5 711M237 711.3L229.5 711L231.2 718.2L232 713.1ZM246.7 692.7L230.8 674.7M238.1 676.2L230.8 674.7L231.4 682.2L233 677.2ZM246.1 658.3L231.4 639.3M238.6 641.3L231.4 639.3L231.5 646.8L233.4 641.9ZM244.6 624.4L232.9 603.4M239.7 606.5L232.9 603.4L231.9 610.9L234.5 606.3ZM281.1 693L266 674.3M273.3 676.2L266 674.3L266.3 681.8L268.1 676.9ZM279.9 659L267.2 638.6M274.2 641.3L267.2 638.6L266.6 646.1L269 641.4ZM316 693L300.9 674.4M308.1 676.2L300.9 674.4L301.1 681.9L302.9 676.9ZM314.7 659L302.2 638.5M309.1 641.3L302.2 638.5L301.5 646L303.9 641.4ZM332.7 515L353.8 503.5M350.7 510.3L353.8 503.5L346.4 502.4L350.9 505ZM335.4 413.6L351.1 395.4M350.6 402.9L351.1 395.4L343.8 397L349 397.9ZM335.7 378.9L350.9 360.4M350.6 367.8L350.9 360.4L343.6 362.1L348.8 362.9ZM379.1 846.2L377.2 870.1M373.2 863.8L377.2 870.1L382.1 864.5L377.4 866.8ZM378.3 811.3L378 835.3M373.6 829.2L378 835.3L382.6 829.3L378 832ZM378.4 776.4L377.8 800.4M373.5 794.3L377.8 800.4L382.5 794.5L377.9 797.1ZM367.5 514.9L388.7 503.6M385.5 510.4L388.7 503.6L381.3 502.4L385.8 505.1ZM369.9 413.2L386.4 395.8M385.5 403.3L386.4 395.8L379 397.1L384.1 398.2ZM370.3 378.7L385.9 360.5M385.4 368L385.9 360.5L378.6 362.1L383.8 363ZM409.9 881.5L416.1 904.7M410.2 900L416.1 904.7L418.9 897.7L415.2 901.5ZM408.8 846.9L417.2 869.4M410.9 865.4L417.2 869.4L419.3 862.2L416 866.3ZM407.8 812.4L418.1 834.1M411.5 830.6L418.1 834.1L419.6 826.8L416.7 831.1ZM412.2 776.4L413.8 800.4M408.9 794.7L413.8 800.4L417.9 794.1L413.5 797.1ZM401.8 478.7L424.2 470M420.2 476.3L424.2 470L416.9 467.9L421.1 471.2ZM401.6 443.1L424.4 435.7M420.1 441.8L424.4 435.7L417.3 433.3L421.3 436.7ZM402.9 376.1L423.1 363.2M420.5 370.2L423.1 363.2L415.6 362.6L420.3 364.9ZM440.8 813.5L454.8 833M447.7 830.8L454.8 833L455 825.5L452.9 830.3ZM436.6 478.5L459.1 470.2M455 476.5L459.1 470.2L451.9 468L456 471.3ZM436.3 442.8L459.3 436M454.9 442L459.3 436L452.3 433.4L456.2 437ZM437.4 375.5L458.3 363.7M455.3 370.6L458.3 363.7L450.9 362.8L455.4 365.4ZM473.3 830.8L492 815.7M490.2 823L492 815.7L484.5 816L489.4 817.8ZM472.7 795L492.7 781.7M490.2 788.8L492.7 781.7L485.2 781.3L489.9 783.6ZM470.8 615.4L494.6 612.4M489.2 617.6L494.6 612.4L488.1 608.7L491.3 612.8ZM470.7 474.9L494.7 473.8M488.9 478.5L494.7 473.8L488.5 469.5L491.4 473.9ZM508.4 796.2L526.7 780.6M525 787.9L526.7 780.6L519.2 781.1L524.2 782.7ZM508 760.8L527 746.2M525 753.4L527 746.2L519.5 746.3L524.4 748.2ZM505.5 614.5L529.5 613.3M523.8 618.1L529.5 613.3L523.3 609.1L526.2 613.4ZM505.5 474.5L529.5 474.1M523.6 478.7L529.5 474.1L523.5 469.7L526.2 474.2ZM510.8 344.7L524.2 324.8M524.6 332.3L524.2 324.8L517.2 327.2L522.4 327.5ZM511.5 310.2L523.5 289.4M524.4 296.9L523.5 289.4L516.6 292.4L521.9 292.3ZM511.4 275.2L523.7 254.6M524.5 262.1L523.7 254.6L516.7 257.5L522 257.5ZM545.3 798.1L559.4 778.7M559.5 786.2L559.4 778.7L552.2 780.9L557.5 781.3ZM545.4 763.2L559.4 743.7M559.5 751.2L559.4 743.7L552.2 746L557.5 746.4ZM546.1 728.8L558.7 708.4M559.4 715.9L558.7 708.4L551.7 711.1L557 711.2ZM543.2 691.4L561.5 675.9M559.9 683.2L561.5 675.9L554 676.4L559 678.1ZM542.6 655.8L562.1 641.8M559.9 649L562.1 641.8L554.6 641.6L559.4 643.7ZM540.4 614.4L564.4 613.4M558.6 618.1L564.4 613.4L558.2 609.1L561.1 613.5ZM546.1 275.2L558.7 254.7M559.3 262.2L558.7 254.7L551.7 257.5L556.9 257.5ZM580.7 763.6L593.7 743.4M594.3 750.9L593.7 743.4L586.7 746L591.9 746.2ZM581.2 729L593.2 708.2M594.1 715.6L593.2 708.2L586.3 711.1L591.6 711.1ZM578.7 692.2L595.7 675.2M594.7 682.6L595.7 675.2L588.3 676.3L593.4 677.6ZM578 656.5L596.4 641.1M594.7 648.4L596.4 641.1L588.9 641.5L593.9 643.2ZM575.3 614.7L599.2 613.1M593.5 618L599.2 613.1L592.9 609L595.9 613.3ZM581.6 275.6L592.8 254.3M594 261.7L592.8 254.3L586 257.5L591.3 257.2ZM612.1 620.5L632.1 607.3M629.6 614.3L632.1 607.3L624.6 606.8L629.3 609.1ZM611.6 584.9L632.5 573.1M629.5 580L632.5 573.1L625.1 572.1L629.7 574.7ZM619.4 241.7L624.8 218.3M627.8 225.2L624.8 218.3L619 223.2L624 221.6ZM648 622L665.8 605.8M664.4 613.2L665.8 605.8L658.4 606.5L663.4 608.1ZM648 587L665.8 571M664.4 578.3L665.8 571L658.4 571.6L663.4 573.2ZM648.5 552.6L665.4 535.6M664.3 543L665.4 535.6L658 536.7L663 537.9ZM648.4 517.7L665.4 500.7M664.3 508.1L665.4 500.7L658 501.8L663.1 503.1ZM649.2 483.5L664.7 465.2M664.2 472.6L664.7 465.2L657.4 466.8L662.5 467.7ZM649.1 448.5L664.7 430.3M664.2 437.8L664.7 430.3L657.4 431.9L662.6 432.8ZM649.2 413.7L664.6 395.3M664.2 402.8L664.6 395.3L657.3 397L662.5 397.9ZM648.9 378.6L664.9 360.7M664.3 368.2L664.9 360.7L657.6 362.2L662.7 363.1ZM649.6 344.2L664.3 325.2M664.2 332.7L664.3 325.2L657 327.2L662.2 327.8ZM654.1 241.7L659.7 218.4M662.7 225.3L659.7 218.4L654 223.2L659 221.6ZM685.5 624.2L698 603.6M698.7 611.1L698 603.6L691 606.4L696.3 606.5ZM683.8 588L699.7 570M699.1 577.5L699.7 570L692.4 571.5L697.6 572.5ZM683.5 552.8L700.1 535.5M699.2 542.9L700.1 535.5L692.7 536.7L697.8 537.8ZM683.4 517.8L700.2 500.6M699.2 508.1L700.2 500.6L692.7 501.8L697.9 503ZM684 483.5L699.6 465.2M699.1 472.7L699.6 465.2L692.2 466.8L697.4 467.7ZM684.1 448.6L699.5 430.2M699.1 437.7L699.5 430.2L692.2 431.9L697.4 432.7ZM684.2 413.8L699.4 395.2M699.1 402.7L699.4 395.2L692.1 397L697.3 397.8ZM684.4 379.1L699.1 360.1M699 367.6L699.1 360.1L691.9 362.1L697.1 362.8ZM689.2 206.9L694.3 183.4M697.5 190.2L694.3 183.4L688.7 188.3L693.6 186.6ZM689.8 172.1L693.7 148.4M697.2 155.1L693.7 148.4L688.3 153.6L693.2 151.7ZM689.8 137.2L693.8 113.5M697.2 120.2L693.8 113.5L688.3 118.7L693.2 116.8ZM718.5 587.9L734.7 570.1M734 577.6L734.7 570.1L727.3 571.5L732.5 572.6ZM717.8 552.3L735.4 535.9M734.1 543.3L735.4 535.9L727.9 536.7L733 538.2ZM718.1 517.7L735.2 500.8M734.1 508.2L735.2 500.8L727.7 501.8L732.8 503.1ZM719.1 483.7L734.1 464.9M733.9 472.4L734.1 464.9L726.8 466.8L732.1 467.5ZM720.2 449.6L733 429.3M733.6 436.7L733 429.3L726 431.9L731.3 432.1ZM721.2 415.2L732.1 393.8M733.4 401.2L732.1 393.8L725.3 397.1L730.6 396.8ZM722.2 380.8L731.1 358.5M733 365.7L731.1 358.5L724.7 362.4L729.9 361.6ZM722.1 345.8L731.2 323.6M733.1 330.9L731.2 323.6L724.7 327.5L729.9 326.7ZM722.2 206.3L731 184M733 191.2L731 184L724.6 187.9L729.8 187.1ZM724.1 172L729.2 148.5M732.3 155.3L729.2 148.5L723.5 153.4L728.5 151.7ZM724.5 137.2L728.8 113.5M732.1 120.2L728.8 113.5L723.3 118.7L728.2 116.8ZM752.4 586.9L770.5 571.1M769 578.5L770.5 571.1L763 571.7L768 573.3ZM751.8 551.1L771.2 537.1M769 544.2L771.2 537.1L763.7 536.9L768.5 539ZM752 516.6L770.9 501.8M769 509L770.9 501.8L763.4 502L768.3 503.8ZM754.5 484.1L768.4 464.5M768.6 472L768.4 464.5L761.3 466.8L766.5 467.2ZM757.7 381L765.3 358.2M767.6 365.4L765.3 358.2L759.1 362.5L764.2 361.4ZM757.5 346.1L765.4 323.4M767.7 330.6L765.4 323.4L759.2 327.6L764.4 326.5ZM756.6 310.8L766.4 288.9M768 296.2L766.4 288.9L759.8 292.5L765 291.9ZM754.9 274.9L768.1 254.9M768.5 262.4L768.1 254.9L761 257.5L766.3 257.7ZM754.8 240L768.1 220M768.5 227.5L768.1 220L761 222.6L766.3 222.8ZM755.5 205.6L767.4 184.7M768.4 192.2L767.4 184.7L760.5 187.7L765.8 187.6ZM755.7 170.8L767.3 149.7M768.3 157.2L767.3 149.7L760.4 152.8L765.7 152.6ZM757.5 136.7L765.4 114M767.7 121.2L765.4 114L759.2 118.2L764.3 117.1ZM786.7 551.2L806 537M803.8 544.2L806 537L798.5 536.9L803.3 538.9ZM786.9 516.6L805.8 501.8M803.8 509.1L805.8 501.8L798.3 502L803.2 503.9ZM789.4 484.1L803.3 464.5M803.5 472L803.3 464.5L796.1 466.8L801.4 467.2ZM792.9 311.3L799.8 288.3M802.4 295.4L799.8 288.3L793.8 292.8L798.8 291.5ZM789.6 274.9L803.1 255M803.4 262.5L803.1 255L796 257.4L801.2 257.7ZM789.6 240L803.1 220.1M803.4 227.6L803.1 220.1L796 222.6L801.2 222.9ZM790.3 205.5L802.3 184.8M803.2 192.2L802.3 184.8L795.4 187.7L800.7 187.6ZM822 586.7L840.4 571.3M838.7 578.6L840.4 571.3L832.9 571.7L837.9 573.4ZM821.6 551.3L840.8 536.9M838.7 544.1L840.8 536.9L833.3 536.9L838.1 538.9ZM820.8 515.3L841.5 503.1M838.6 510L841.5 503.1L834 502.3L838.7 504.8ZM822.1 482.2L840.2 466.4M838.7 473.7L840.2 466.4L832.7 467L837.7 468.6ZM825 449.7L837.4 429.2M838.1 436.6L837.4 429.2L830.4 432L835.7 432ZM854.3 546.6L877.8 541.6M872.8 547.3L877.8 541.6L871 538.5L874.5 542.3ZM854.3 511.9L877.7 506.5M872.9 512.2L877.7 506.5L870.9 503.5L874.5 507.3ZM855.7 480.3L876.4 468.3M873.5 475.2L876.4 468.3L868.9 467.4L873.5 469.9ZM889.1 546.4L912.6 541.8M907.6 547.4L912.6 541.8L905.9 538.5L909.4 542.4ZM889.3 512.2L912.5 506.2M907.8 512.1L912.5 506.2L905.6 503.4L909.3 507.1ZM890.5 480.4L911.2 468.2M908.3 475.2L911.2 468.2L903.8 467.4L908.4 469.9ZM894.3 449.4L907.5 429.4M907.9 436.9L907.5 429.4L900.4 431.9L905.7 432.1ZM923.8 545.3L947.7 542.9M942.1 548L947.7 542.9L941.3 539L944.4 543.2ZM923.8 510.7L947.6 507.7M942.2 512.9L947.6 507.7L941.1 504L944.4 508.1ZM924.9 479.5L946.5 469.1M943.1 475.8L946.5 469.1L939.2 467.7L943.6 470.5ZM928.5 449L943 429.9M942.9 437.4L943 429.9L935.8 431.9L941 432.5ZM931.4 415.7L940.1 393.3M942.1 400.5L940.1 393.3L933.7 397.3L938.9 396.4ZM959.7 479.4L981.4 469.2M977.9 475.8L981.4 469.2L974.1 467.7L978.4 470.6ZM963.7 449.3L977.4 429.6M977.7 437.1L977.4 429.6L970.3 431.9L975.5 432.3ZM966.4 415.8L974.7 393.3M976.9 400.5L974.7 393.3L968.4 397.3L973.6 396.4ZM997.6 448.5L1013.2 430.3M1012.7 437.8L1013.2 430.3L1005.9 431.9L1011.1 432.8Z" fill="#000" fill-opacity=".7" stroke="#06061c" stroke-opacity=".92" stroke-width="1.1" stroke-linejoin="miter"/>
<path d="M228.5 449L248.9 429.8M247.6 438.6L248.9 429.8L240.1 430.6L246.1 432.5ZM262.8 483.3L284.3 465.3M282.5 474L284.3 465.3L275.4 465.6L281.4 467.8ZM262.9 448.5L284.2 430.3M282.5 439L284.2 430.3L275.3 430.7L281.3 432.8ZM265.4 381L281.8 358.3M282.1 367.2L281.8 358.3L273.2 360.7L279.5 361.4ZM297.6 483.1L319.3 465.5M317.3 474.2L319.3 465.5L310.4 465.6L316.3 467.9ZM297.8 448.5L319 430.3M317.3 439L319 430.3L310.2 430.7L316.1 432.8ZM300.2 415.9L316.6 393.2M317 402.1L316.6 393.2L308 395.6L314.4 396.3ZM300.3 381.1L316.5 358.2M317 367.1L316.5 358.2L308 360.7L314.3 361.3ZM300.3 346.1L316.6 323.3M317 332.2L316.6 323.3L308 325.8L314.3 326.5ZM331.7 482.2L354.9 466.5M352.2 474.9L354.9 466.5L346 465.8L351.7 468.6ZM332 447.7L354.6 431.2M352.2 439.7L354.6 431.2L345.7 430.8L351.5 433.4ZM335.7 346.5L350.9 323M351.7 331.8L350.9 323L342.5 325.9L348.8 326.2ZM335.8 311.6L350.8 288M351.7 296.9L350.8 288L342.4 291L348.7 291.3ZM335 276.2L351.6 253.7M351.9 262.6L351.6 253.7L343 256L349.3 256.8ZM334.6 206.1L351.9 184.2M351.9 193.1L351.9 184.2L343.3 186.2L349.6 187.2ZM366.4 481.9L389.9 466.7M387 475.1L389.9 466.7L381 465.9L386.6 468.8ZM366.5 447.2L389.7 431.6M387 440.1L389.7 431.6L380.9 430.9L386.5 433.7ZM370.5 346.5L385.8 323M386.6 331.9L385.8 323L377.3 325.9L383.7 326.2ZM370.6 311.7L385.6 288M386.5 296.9L385.6 288L377.2 291L383.6 291.3ZM370.2 276.5L386.1 253.4M386.6 262.3L386.1 253.4L377.6 256.1L383.9 256.6ZM404.6 346L421.3 323.5M421.6 332.4L421.3 323.5L412.7 325.8L419 326.6ZM405.2 311.5L420.7 288.2M421.4 297L420.7 288.2L412.3 291L418.6 291.4ZM405 276.4L421 253.5M421.5 262.4L421 253.5L412.5 256.1L418.8 256.6ZM404.9 241.5L421 218.6M421.5 227.5L421 218.6L412.5 221.2L418.8 221.7ZM440.7 346.8L455 322.7M456.1 331.5L455 322.7L446.7 325.9L453 326ZM440.7 311.9L454.9 287.8M456.1 296.6L454.9 287.8L446.6 291L453 291.1ZM439.8 276.4L455.8 253.4M456.3 262.3L455.8 253.4L447.3 256.1L453.6 256.6ZM439.8 241.5L455.9 218.6M456.3 227.5L455.9 218.6L447.3 221.2L453.6 221.7ZM475.2 346.6L490.1 322.9M491.1 331.7L490.1 322.9L481.8 325.9L488.1 326.1ZM475.5 311.9L489.8 287.8M491 296.6L489.8 287.8L481.5 291L487.9 291.1ZM475.1 276.7L490.3 253.2M491.1 262L490.3 253.2L481.8 256.1L488.2 256.4ZM474.5 241.4L490.8 218.6M491.2 227.5L490.8 218.6L482.3 221.2L488.6 221.8ZM474.4 206.4L491 183.9M491.3 192.8L491 183.9L482.4 186.3L488.7 187ZM579.8 241.9L594.7 218.2M595.6 227.1L594.7 218.2L586.3 221.2L592.6 221.5ZM582 208.1L592.4 182.2M594.9 190.7L592.4 182.2L584.7 186.6L591 185.7ZM618.9 767.1L625.3 739.8M629 747.9L625.3 739.8L618.3 745.4L624.4 743.6ZM620.5 732.5L623.7 704.7M628.3 712.3L623.7 704.7L617.4 711L623.2 708.5ZM619 697.4L625.1 670M629 678L625.1 670L618.2 675.7L624.3 673.8ZM618.5 662.3L625.7 635.3M629.2 643.4L625.7 635.3L618.6 640.6L624.7 639ZM621.8 209.1L622.3 181.1M627.7 188.2L622.3 181.1L616.7 188.1L622.2 185ZM655.2 767.4L658.6 739.6M663.2 747.2L658.6 739.6L652.3 745.9L658.2 743.4ZM655.6 732.5L658.2 704.6M663.1 712.1L658.2 704.6L652.1 711.1L657.9 708.5ZM654.6 697.5L659.3 669.9M663.5 677.7L659.3 669.9L652.7 675.9L658.6 673.7ZM654.1 662.5L659.8 635.1M663.7 643.1L659.8 635.1L653 640.8L659 638.9ZM656.7 209.1L657.2 181.2M662.6 188.2L657.2 181.2L651.6 188L657.1 185ZM656.7 174.3L657.1 146.3M662.5 153.3L657.1 146.3L651.5 153.2L657.1 150.1ZM656.8 139.4L657 111.4M662.5 118.4L657 111.4L651.5 118.3L657 115.2ZM721.7 627L731.5 600.8M734.2 609.3L731.5 600.8L723.9 605.4L730.2 604.4ZM756 452.3L766.9 426.5M769.3 435.1L766.9 426.5L759.1 430.8L765.4 430.1ZM757.7 418L765.3 391M768.7 399.3L765.3 391L758.1 396.3L764.2 394.8ZM790.8 452.3L801.8 426.5M804.1 435.1L801.8 426.5L794 430.8L800.3 430.1ZM792.6 418L800.1 391M803.5 399.2L800.1 391L792.9 396.3L799 394.7ZM794.5 383.5L798.2 355.7M802.7 363.4L798.2 355.7L791.8 362L797.7 359.6ZM795 348.7L797.7 320.8M802.5 328.3L797.7 320.8L791.5 327.2L797.3 324.6ZM826.9 417.9L835.4 391.2M838.5 399.5L835.4 391.2L828.1 396.2L834.3 394.9ZM829.3 383.5L833.1 355.8M837.6 363.4L833.1 355.8L826.7 361.9L832.6 359.6ZM829.7 348.7L832.6 320.8M837.4 328.3L832.6 320.8L826.4 327.2L832.2 324.6ZM828.5 313.6L833.9 286.1M837.9 294L833.9 286.1L827.1 291.9L833.1 289.9ZM859.1 451.6L873 427.3M874.3 436.1L873 427.3L864.7 430.6L871.1 430.6ZM862.3 418L869.7 391M873.2 399.2L869.7 391L862.6 396.3L868.7 394.7ZM864.3 383.5L867.7 355.7M872.3 363.3L867.7 355.7L861.4 362L867.3 359.6ZM864.8 348.7L867.3 320.8M872.1 328.2L867.3 320.8L861.2 327.3L866.9 324.6ZM864.6 313.8L867.5 285.9M872.2 293.4L867.5 285.9L861.3 292.3L867.1 289.7ZM896.9 417.9L904.9 391.1M908.1 399.4L904.9 391.1L897.6 396.2L903.8 394.8ZM899 383.5L902.8 355.8M907.3 363.4L902.8 355.8L896.4 361.9L902.3 359.6ZM900.2 348.7L901.5 320.7M906.7 328L901.5 320.7L895.7 327.5L901.3 324.6ZM900.7 313.8L901.1 285.8M906.5 292.9L901.1 285.8L895.5 292.8L901 289.7Z" fill="#000" fill-opacity=".7" stroke="#06061c" stroke-opacity=".92" stroke-width="1.2" stroke-linejoin="miter"/>
<path d="M229.5 347.8L247.9 321.7M248.8 331.4L247.9 321.7L238.5 324.2L245.6 325ZM229.5 312.9L248 286.8M248.8 296.5L248 286.8L238.5 289.3L245.6 290.1ZM228.9 277.6L248.5 252.3M248.9 262.1L248.5 252.3L238.9 254.4L246 255.5ZM264.4 347.8L282.8 321.6M283.6 331.4L282.8 321.6L273.3 324.2L280.4 325ZM264.4 312.9L282.8 286.8M283.6 296.5L282.8 286.8L273.3 289.3L280.4 290.1ZM263.4 277.3L283.8 252.6M283.8 262.4L283.8 252.6L274.1 254.4L281.2 255.8ZM263.3 242.3L283.8 217.8M283.9 227.6L283.8 217.8L274.2 219.5L281.2 220.9ZM263.4 207.5L283.8 182.8M283.8 192.6L283.8 182.8L274.1 184.6L281.1 186ZM299 312.8L317.8 286.9M318.5 296.7L317.8 286.9L308.3 289.3L315.4 290.2ZM298.2 277.2L318.7 252.6M318.7 262.4L318.7 252.6L309 254.4L316 255.8ZM298.2 242.3L318.7 217.8M318.7 227.6L318.7 217.8L309 219.5L316 220.9ZM298.3 207.5L318.6 182.8M318.7 192.6L318.6 182.8L309 184.6L316 186ZM333.3 242.6L353.2 217.5M353.5 227.3L353.2 217.5L343.6 219.5L350.7 220.7ZM507.4 242.4L527.6 217.6M527.8 227.4L527.6 217.6L518 219.5L525 220.8ZM542.1 242.3L562.6 217.7M562.7 227.5L562.6 217.7L553 219.5L560 220.9ZM542.3 207.6L562.5 182.7M562.6 192.5L562.5 182.7L552.9 184.6L559.9 185.9ZM691.2 769.5L692.3 737.5M698.4 745.2L692.3 737.5L685.8 744.8L692.2 741.6ZM691.7 734.6L691.9 702.6M698.1 710.1L691.9 702.6L685.5 710L691.9 706.7ZM691.4 699.7L692.1 667.7M698.3 675.3L692.1 667.7L685.7 675L692 671.8ZM691.2 664.8L692.4 632.8M698.4 640.5L692.4 632.8L685.8 640.1L692.2 636.9ZM726.6 734.6L726.7 702.6M733 710.1L726.7 702.6L720.4 710.1L726.7 706.7ZM726.5 699.7L726.8 667.7M733 675.3L726.8 667.7L720.4 675.1L726.7 671.8ZM726.3 664.8L726.9 632.8M733.1 640.4L726.9 632.8L720.5 640.2L726.9 636.9Z" fill="#000" fill-opacity=".7" stroke="#06061c" stroke-opacity=".92" stroke-width="1.3" stroke-linejoin="miter"/>
<rect x="98.5" y="60.8" width="990.2" height="1035" fill="none" stroke="#000" stroke-width="2.6"/>
<path d="M221.3 60.8v-11.5M221.3 1095.8v11.5M360.7 60.8v-11.5M360.7 1095.8v11.5M500.1 60.8v-11.5M500.1 1095.8v11.5M639.5 60.8v-11.5M639.5 1095.8v11.5M778.9 60.8v-11.5M778.9 1095.8v11.5M918.3 60.8v-11.5M918.3 1095.8v11.5M1057.7 60.8v-11.5M1057.7 1095.8v11.5M98.5 1015.2h-11.5M1088.7 1015.2h11.5M98.5 875.6h-11.5M1088.7 875.6h11.5M98.5 736h-11.5M1088.7 736h11.5M98.5 596.5h-11.5M1088.7 596.5h11.5M98.5 456.9h-11.5M1088.7 456.9h11.5M98.5 317.3h-11.5M1088.7 317.3h11.5M98.5 177.7h-11.5M1088.7 177.7h11.5" stroke="#000" stroke-width="2.2" fill="none"/>
<text class="tk" x="221.3" y="42.3" text-anchor="middle">114°E</text>
<text class="tk" x="221.3" y="1133.8" text-anchor="middle">114°E</text>
<text class="tk" x="360.7" y="42.3" text-anchor="middle">115°E</text>
<text class="tk" x="360.7" y="1133.8" text-anchor="middle">115°E</text>
<text class="tk" x="500.1" y="42.3" text-anchor="middle">116°E</text>
<text class="tk" x="500.1" y="1133.8" text-anchor="middle">116°E</text>
<text class="tk" x="639.5" y="42.3" text-anchor="middle">117°E</text>
<text class="tk" x="639.5" y="1133.8" text-anchor="middle">117°E</text>
<text class="tk" x="778.9" y="42.3" text-anchor="middle">118°E</text>
<text class="tk" x="778.9" y="1133.8" text-anchor="middle">118°E</text>
<text class="tk" x="918.3" y="42.3" text-anchor="middle">119°E</text>
<text class="tk" x="918.3" y="1133.8" text-anchor="middle">119°E</text>
<text class="tk" x="1057.7" y="42.3" text-anchor="middle">120°E</text>
<text class="tk" x="1057.7" y="1133.8" text-anchor="middle">120°E</text>
<text class="tk" x="85.5" y="1024.7" text-anchor="end">36°N</text>
<text class="tk" x="1101.2" y="1024.7">36°N</text>
<text class="tk" x="85.5" y="885.1" text-anchor="end">37°N</text>
<text class="tk" x="1101.2" y="885.1">37°N</text>
<text class="tk" x="85.5" y="745.5" text-anchor="end">38°N</text>
<text class="tk" x="1101.2" y="745.5">38°N</text>
<text class="tk" x="85.5" y="606" text-anchor="end">39°N</text>
<text class="tk" x="1101.2" y="606">39°N</text>
<text class="tk" x="85.5" y="466.4" text-anchor="end">40°N</text>
<text class="tk" x="1101.2" y="466.4">40°N</text>
<text class="tk" x="85.5" y="326.8" text-anchor="end">41°N</text>
<text class="tk" x="1101.2" y="326.8">41°N</text>
<text class="tk" x="85.5" y="187.2" text-anchor="end">42°N</text>
<text class="tk" x="1101.2" y="187.2">42°N</text>
<text class="n" x="994.7" y="109.5" text-anchor="middle">N</text>
<path d="M994.7 121.7L963.2 226.8L994.7 185.8Z" fill="#000"/>
<path d="M995 127.7L1024.2 223.3L995 185.8Z" fill="#fff" stroke="#000" stroke-width="2.4" stroke-linejoin="miter"/>
<rect x="136" y="1052" width="323.7" height="11.3" fill="#fff" stroke="#000" stroke-width="1.5"/>
<rect x="136" y="1052" width="20.2" height="11.3" fill="#000"/>
<rect x="176.5" y="1052" width="20.2" height="11.3" fill="#000"/>
<rect x="216.9" y="1052" width="80.9" height="11.3" fill="#000"/>
<rect x="378.8" y="1052" width="80.9" height="11.3" fill="#000"/>
<text class="sb" x="136" y="1038" text-anchor="middle">0</text>
<text class="sb" x="176.5" y="1038" text-anchor="middle">20</text>
<text class="sb" x="216.9" y="1038" text-anchor="middle">40</text>
<text class="sb" x="297.9" y="1038" text-anchor="middle">80</text>
<text class="sb" x="378.8" y="1038" text-anchor="middle">120</text>
<text class="sb" x="459.7" y="1038" text-anchor="middle">160</text>
<text class="sb" x="466.2" y="1062.8">Miles</text>
<text class="lh" x="806.8" y="680" textLength="201.8" lengthAdjust="spacingAndGlyphs">Wind Speed(m/s)</text>
<text class="lg" x="872.6" y="730.4" textLength="119.6" lengthAdjust="spacingAndGlyphs">0.02 - 1.15</text>
<path d="M835 730.4v-19.5M832 715.4l3 -4.5l3 4.5" fill="none" stroke="#000" stroke-width="1.2"/>
<text class="lg" x="872.6" y="771.5" textLength="119.6" lengthAdjust="spacingAndGlyphs">1.16 - 2.09</text>
<path d="M835 773.5v-23.6M830.7 755.9l4.3 -6l4.3 6" fill="none" stroke="#000" stroke-width="1.5"/>
<text class="lg" x="872.6" y="813.6" textLength="119.6" lengthAdjust="spacingAndGlyphs">2.10 - 3.13</text>
<path d="M835 816.1v-25.7M829.5 797.9l5.5 -7.5l5.5 7.5" fill="none" stroke="#000" stroke-width="1.7"/>
<text class="lg" x="872.6" y="854.7" textLength="119.6" lengthAdjust="spacingAndGlyphs">3.14 - 4.33</text>
<path d="M835 858.7v-29.8M828.2 837.9l6.8 -9l6.8 9" fill="none" stroke="#000" stroke-width="1.9"/>
<text class="lg" x="872.6" y="896.8" textLength="119.6" lengthAdjust="spacingAndGlyphs">4.34 - 6.13</text>
<path d="M835 904.8v-35M826.8 880.3l8.2 -10.5l8.2 10.5" fill="none" stroke="#000" stroke-width="2.1"/>
<text class="lh" x="808.3" y="941" textLength="264" lengthAdjust="spacingAndGlyphs">Relative Humidity(%)</text>
<rect x="806.8" y="979" width="53.9" height="54.5" fill="url(#lgd)"/>
<text x="874" y="988.3" style="font:26px 'Liberation Serif',serif" textLength="136.7" lengthAdjust="spacingAndGlyphs">High : 87.33</text>
<text x="874" y="1043.7" style="font:26px 'Liberation Serif',serif" textLength="132.6" lengthAdjust="spacingAndGlyphs">Low : 54.14</text>
<text class="cap" y="1257.5"><tspan x="266.4" textLength="79.6" lengthAdjust="spacingAndGlyphs">(a)</tspan> <tspan x="370.4" textLength="265.4" lengthAdjust="spacingAndGlyphs">October</tspan> <tspan x="664.6" textLength="88.4" lengthAdjust="spacingAndGlyphs">18,</tspan> <tspan x="773" textLength="152.7" lengthAdjust="spacingAndGlyphs">2019</tspan></text>
</g>
<g id="panel-b">
<clipPath id="cpb"><path d="M1452.2 161.1L1492.5 157.1L1499.1 163.3L1502.6 176.7L1514.7 183.3L1512.7 198.8L1505.6 211.9L1514.7 218.9L1514.7 229.9L1536.9 232L1561 229.9L1567.7 220.9L1585.2 211.9L1605.4 200.8L1634.6 187.7L1650.2 183.7L1655.8 192.3L1662.5 207.8L1674.9 207.8L1678.9 198.8L1692.5 189.8L1703.7 178.7L1714.9 177.7L1723.8 183.3L1737.4 184.4L1746 185.7L1761.5 183.3L1775 176.7L1783.7 175.7L1783.7 158.6L1772.6 150L1786.2 147.6L1788.4 127.5L1792.8 120L1806.3 113.4L1824 110L1857.3 112.4L1858.7 101.1L1873.1 95.3L1908.6 92.3L1922.1 98.9L1928.8 110L1939.9 118.9L1948.9 136.5L1944.4 143.5L1953.4 154.6L1964.1 169.7L1975.1 167.7L1985.2 174.7L1986.2 189.8L1990.8 196.8L1984.2 207.8L1977.2 209.9L1966.1 220.9L1986.2 241L1985.2 254.5L1993.1 272.1L1999.7 273.1L2031 269.1L2053.2 270.1L2057.8 266.7L2068.8 274.1L2089 276.7L2115.6 274.1L2117.9 281.2L2108.9 290.2L2097.8 299L2089 307.8L2075.5 310.3L2077.7 316.3L2085.6 319L2079.9 325.4L2070.9 330L2066.6 341.2L2068.8 352.3L2081.9 358.5L2095.5 367.6L2106.7 376.6L2122.2 384.7L2159.5 382.7L2165.6 390.7L2165.6 401.7L2172.2 414.8L2178.7 428.3L2189.7 432.9L2192.3 445.9L2201.2 455L2203.4 464L2194.6 464L2176.6 468L2161.1 472.8L2156.5 486.1L2145.4 488.1L2134.3 497.2L2127.7 515L2123.2 528.3L2125.3 539.4L2114.2 550.4L2103.1 557.2L2089.8 568.3L2074.2 577.3L2058.6 581.6L2038.6 579.6L2025.1 586.1L2020.5 595L2027.3 601.7L2018.5 610.5L2011.7 609.4L2002.8 603.7L1991.7 599.5L1980.6 597.2L1971.6 588.3L1965 579.5L1958 572.5L1946.9 567.2L1932.4 575.5L1921.2 589.2L1923.5 600.4L1930.2 606.7L1923.5 613.7L1907.6 620.4L1896.6 626.8L1905.6 631.4L1905.6 642.6L1894.5 644.9L1892.3 662.5L1899 671.5L1907.6 682.5L1919 687.1L1934.6 684.8L1932.4 693.7L1921.2 702.1L1910.2 715.9L1899 727L1883.5 731.3L1876.7 742.3L1870 753.4L1861.1 760.4L1834.1 760.4L1785.3 760.4L1776.4 762.4L1767.6 773.5L1754.1 784.5L1742.9 793.6L1727.3 804.6L1720.6 810.3L1711.8 802.6L1705.1 800.4L1700.6 809.2L1693.9 813.6L1698.4 820.4L1685 824.7L1667.1 830.4L1655.8 835.8L1658.3 842.6L1651.5 851.5L1640.4 866.9L1629.3 882.6L1618.1 900L1608.8 906.7L1591 917.8L1575.2 929L1564.1 944.3L1562.1 953.3L1568.7 964.3L1579.9 975.4L1588.8 984.4L1586.5 995.5L1575.2 1004.5L1564.1 1004.5L1555.3 995.5L1543.9 993.5L1528.6 1002.3L1521.8 1007.5L1510.7 1010.1L1501.6 1000L1486.3 1000L1468.4 1000L1455.1 993.5L1439.1 986.5L1421.6 982.2L1403.9 980L1388.2 975.4L1374.7 969L1352.5 966.4L1341.4 962.3L1325.8 953.3L1316.8 944.3L1319 937.8L1308 926.7L1305.6 917.8L1323.3 913.1L1334.7 906.7L1336.9 897.8L1348.1 891L1350.3 882L1348.1 864.5L1354.5 853.3L1365.6 839.8L1372.6 826.7L1383.7 811.1L1394.8 795.6L1392.6 786.5L1381.5 775.5L1376.7 762.2L1372.6 746.3L1365.6 735.3L1359.1 723.9L1348 715L1332.3 708.2L1321.3 701.7L1314.5 688.1L1318.9 677L1318.9 666L1323.3 656.9L1332.3 645.9L1343.4 639.4L1354.5 630.6L1359.1 619.4L1348 612.7L1350.2 601.7L1365.6 590.6L1379.2 581.6L1388.1 581.6L1399.2 590.6L1414.9 588.3L1430.5 583.6L1432.7 572.5L1446 570.5L1441.6 563.5L1443.8 552.4L1448.2 539.4L1455 526.1L1455 516.1L1440.4 510.2L1439.1 492.8L1439.1 477.1L1428.1 481.6L1414.9 477.1L1405.9 469.5L1390.3 468L1383.7 459.4L1368 455L1374.7 449.5L1383.7 445.9L1390.3 432.9L1401.5 432.9L1414.9 426.9L1432.7 423.8L1448.2 417.2L1452.7 410.5L1437.1 404.8L1423.7 401.7L1419.3 390.7L1410.3 372.6L1396.5 354.5L1387.8 341.5L1376.7 323.4L1363.1 310.3L1355.5 304.3L1363.1 296.8L1378.7 285.2L1368.6 275.7L1371.6 265.6L1363.1 258.1L1385.4 244.5L1409.9 244.5L1413.9 239L1411.9 220.9L1408.9 207.8L1428.1 184.7L1445.2 176.7Z"/></clipPath>
<g clip-path="url(#cpb)"><g filter="url(#ramp)">
<g filter="url(#gb)">
<rect x="1275.2" y="71.7" width="211.7" height="71.1" fill="rgb(57,57,57)"/>
<rect x="1485.8" y="71.7" width="71.2" height="71.1" fill="rgb(70,70,70)"/>
<rect x="1556.1" y="71.7" width="71.2" height="71.1" fill="rgb(99,99,99)"/>
<rect x="1626.3" y="71.7" width="71.2" height="71.1" fill="rgb(128,128,128)"/>
<rect x="1696.5" y="71.7" width="71.2" height="71.1" fill="rgb(175,175,175)"/>
<rect x="1766.7" y="71.7" width="492.6" height="71.1" fill="rgb(191,191,191)"/>
<rect x="1275.2" y="141.8" width="211.7" height="71.1" fill="rgb(57,57,57)"/>
<rect x="1485.8" y="141.8" width="71.2" height="71.1" fill="rgb(70,70,70)"/>
<rect x="1556.1" y="141.8" width="71.2" height="71.1" fill="rgb(114,114,114)"/>
<rect x="1626.3" y="141.8" width="71.2" height="71.1" fill="rgb(128,128,128)"/>
<rect x="1696.5" y="141.8" width="71.2" height="71.1" fill="rgb(159,159,159)"/>
<rect x="1766.7" y="141.8" width="71.2" height="71.1" fill="rgb(207,207,207)"/>
<rect x="1837" y="141.8" width="141.4" height="71.1" fill="rgb(230,230,230)"/>
<rect x="1977.4" y="141.8" width="281.9" height="71.1" fill="rgb(191,191,191)"/>
<rect x="1275.2" y="212" width="141.4" height="71.1" fill="rgb(57,57,57)"/>
<rect x="1415.6" y="212" width="71.2" height="71.1" fill="rgb(96,96,96)"/>
<rect x="1485.8" y="212" width="141.4" height="71.1" fill="rgb(143,143,143)"/>
<rect x="1626.3" y="212" width="71.2" height="71.1" fill="rgb(159,159,159)"/>
<rect x="1696.5" y="212" width="71.2" height="71.1" fill="rgb(191,191,191)"/>
<rect x="1766.7" y="212" width="71.2" height="71.1" fill="rgb(242,242,242)"/>
<rect x="1837" y="212" width="71.2" height="71.1" fill="rgb(255,255,255)"/>
<rect x="1907.2" y="212" width="71.2" height="71.1" fill="rgb(242,242,242)"/>
<rect x="1977.4" y="212" width="71.2" height="71.1" fill="rgb(219,219,219)"/>
<rect x="2047.6" y="212" width="141.5" height="71.1" fill="rgb(191,191,191)"/>
<rect x="2188.1" y="212" width="71.2" height="71.1" fill="rgb(175,175,175)"/>
<rect x="1275.2" y="282.1" width="141.4" height="71.1" fill="rgb(57,57,57)"/>
<rect x="1415.6" y="282.1" width="71.2" height="71.1" fill="rgb(128,128,128)"/>
<rect x="1485.8" y="282.1" width="71.2" height="71.1" fill="rgb(159,159,159)"/>
<rect x="1556.1" y="282.1" width="71.2" height="71.1" fill="rgb(175,175,175)"/>
<rect x="1626.3" y="282.1" width="71.2" height="71.1" fill="rgb(191,191,191)"/>
<rect x="1696.5" y="282.1" width="71.2" height="71.1" fill="rgb(207,207,207)"/>
<rect x="1766.7" y="282.1" width="71.2" height="71.1" fill="rgb(230,230,230)"/>
<rect x="1837" y="282.1" width="71.2" height="71.1" fill="rgb(249,249,249)"/>
<rect x="1907.2" y="282.1" width="71.2" height="71.1" fill="rgb(233,233,233)"/>
<rect x="1977.4" y="282.1" width="71.2" height="71.1" fill="rgb(223,223,223)"/>
<rect x="2047.6" y="282.1" width="71.2" height="71.1" fill="rgb(191,191,191)"/>
<rect x="2117.9" y="282.1" width="71.2" height="71.1" fill="rgb(175,175,175)"/>
<rect x="2188.1" y="282.1" width="71.2" height="71.1" fill="rgb(159,159,159)"/>
<rect x="1275.2" y="352.2" width="71.2" height="71.1" fill="rgb(124,124,124)"/>
<rect x="1345.4" y="352.2" width="71.2" height="71.1" fill="rgb(136,136,136)"/>
<rect x="1415.6" y="352.2" width="71.2" height="71.1" fill="rgb(159,159,159)"/>
<rect x="1485.8" y="352.2" width="71.2" height="71.1" fill="rgb(96,96,96)"/>
<rect x="1556.1" y="352.2" width="71.2" height="71.1" fill="rgb(175,175,175)"/>
<rect x="1626.3" y="352.2" width="71.2" height="71.1" fill="rgb(255,255,255)"/>
<rect x="1696.5" y="352.2" width="71.2" height="71.1" fill="rgb(207,207,207)"/>
<rect x="1766.7" y="352.2" width="71.2" height="71.1" fill="rgb(166,166,166)"/>
<rect x="1837" y="352.2" width="71.2" height="71.1" fill="rgb(175,175,175)"/>
<rect x="1907.2" y="352.2" width="141.5" height="71.1" fill="rgb(191,191,191)"/>
<rect x="2047.6" y="352.2" width="71.2" height="71.1" fill="rgb(175,175,175)"/>
<rect x="2117.9" y="352.2" width="71.2" height="71.1" fill="rgb(159,159,159)"/>
<rect x="2188.1" y="352.2" width="71.2" height="71.1" fill="rgb(120,120,120)"/>
<rect x="1275.2" y="422.3" width="141.4" height="71.1" fill="rgb(191,191,191)"/>
<rect x="1415.6" y="422.3" width="71.2" height="71.1" fill="rgb(255,255,255)"/>
<rect x="1485.8" y="422.3" width="71.2" height="71.1" fill="rgb(207,207,207)"/>
<rect x="1556.1" y="422.3" width="71.2" height="71.1" fill="rgb(223,223,223)"/>
<rect x="1626.3" y="422.3" width="71.2" height="71.1" fill="rgb(239,239,239)"/>
<rect x="1696.5" y="422.3" width="71.2" height="71.1" fill="rgb(159,159,159)"/>
<rect x="1766.7" y="422.3" width="211.7" height="71.1" fill="rgb(143,143,143)"/>
<rect x="1977.4" y="422.3" width="71.2" height="71.1" fill="rgb(159,159,159)"/>
<rect x="2047.6" y="422.3" width="141.5" height="71.1" fill="rgb(143,143,143)"/>
<rect x="2188.1" y="422.3" width="71.2" height="71.1" fill="rgb(80,80,80)"/>
<rect x="1275.2" y="492.4" width="71.2" height="71.1" fill="rgb(223,223,223)"/>
<rect x="1345.4" y="492.4" width="71.2" height="71.1" fill="rgb(207,207,207)"/>
<rect x="1415.6" y="492.4" width="71.2" height="71.1" fill="rgb(223,223,223)"/>
<rect x="1485.8" y="492.4" width="71.2" height="71.1" fill="rgb(239,239,239)"/>
<rect x="1556.1" y="492.4" width="71.2" height="71.1" fill="rgb(223,223,223)"/>
<rect x="1626.3" y="492.4" width="71.2" height="71.1" fill="rgb(191,191,191)"/>
<rect x="1696.5" y="492.4" width="71.2" height="71.1" fill="rgb(159,159,159)"/>
<rect x="1766.7" y="492.4" width="71.2" height="71.1" fill="rgb(134,134,134)"/>
<rect x="1837" y="492.4" width="141.4" height="71.1" fill="rgb(128,128,128)"/>
<rect x="1977.4" y="492.4" width="71.2" height="71.1" fill="rgb(159,159,159)"/>
<rect x="2047.6" y="492.4" width="141.5" height="71.1" fill="rgb(143,143,143)"/>
<rect x="2188.1" y="492.4" width="71.2" height="71.1" fill="rgb(80,80,80)"/>
<rect x="1275.2" y="562.5" width="71.2" height="71.1" fill="rgb(223,223,223)"/>
<rect x="1345.4" y="562.5" width="71.2" height="71.1" fill="rgb(207,207,207)"/>
<rect x="1415.6" y="562.5" width="71.2" height="71.1" fill="rgb(191,191,191)"/>
<rect x="1485.8" y="562.5" width="71.2" height="71.1" fill="rgb(201,201,201)"/>
<rect x="1556.1" y="562.5" width="71.2" height="71.1" fill="rgb(169,169,169)"/>
<rect x="1626.3" y="562.5" width="71.2" height="71.1" fill="rgb(143,143,143)"/>
<rect x="1696.5" y="562.5" width="71.2" height="71.1" fill="rgb(102,102,102)"/>
<rect x="1766.7" y="562.5" width="71.2" height="71.1" fill="rgb(32,32,32)"/>
<rect x="1837" y="562.5" width="71.2" height="71.1" fill="rgb(10,10,10)"/>
<rect x="1907.2" y="562.5" width="71.2" height="71.1" fill="rgb(96,96,96)"/>
<rect x="1977.4" y="562.5" width="211.7" height="71.1" fill="rgb(143,143,143)"/>
<rect x="2188.1" y="562.5" width="71.2" height="71.1" fill="rgb(112,112,112)"/>
<rect x="1275.2" y="632.7" width="71.2" height="71.1" fill="rgb(223,223,223)"/>
<rect x="1345.4" y="632.7" width="71.2" height="71.1" fill="rgb(207,207,207)"/>
<rect x="1415.6" y="632.7" width="71.2" height="71.1" fill="rgb(191,191,191)"/>
<rect x="1485.8" y="632.7" width="71.2" height="71.1" fill="rgb(159,159,159)"/>
<rect x="1556.1" y="632.7" width="71.2" height="71.1" fill="rgb(143,143,143)"/>
<rect x="1626.3" y="632.7" width="71.2" height="71.1" fill="rgb(96,96,96)"/>
<rect x="1696.5" y="632.7" width="71.2" height="71.1" fill="rgb(48,48,48)"/>
<rect x="1766.7" y="632.7" width="71.2" height="71.1" fill="rgb(10,10,10)"/>
<rect x="1837" y="632.7" width="71.2" height="71.1" fill="rgb(0,0,0)"/>
<rect x="1907.2" y="632.7" width="71.2" height="71.1" fill="rgb(10,10,10)"/>
<rect x="1977.4" y="632.7" width="71.2" height="71.1" fill="rgb(76,76,76)"/>
<rect x="2047.6" y="632.7" width="211.7" height="71.1" fill="rgb(143,143,143)"/>
<rect x="1275.2" y="702.8" width="71.2" height="71.1" fill="rgb(215,215,215)"/>
<rect x="1345.4" y="702.8" width="71.2" height="71.1" fill="rgb(207,207,207)"/>
<rect x="1415.6" y="702.8" width="71.2" height="71.1" fill="rgb(191,191,191)"/>
<rect x="1485.8" y="702.8" width="71.2" height="71.1" fill="rgb(159,159,159)"/>
<rect x="1556.1" y="702.8" width="71.2" height="71.1" fill="rgb(143,143,143)"/>
<rect x="1626.3" y="702.8" width="71.2" height="71.1" fill="rgb(80,80,80)"/>
<rect x="1696.5" y="702.8" width="71.2" height="71.1" fill="rgb(38,38,38)"/>
<rect x="1766.7" y="702.8" width="71.2" height="71.1" fill="rgb(10,10,10)"/>
<rect x="1837" y="702.8" width="71.2" height="71.1" fill="rgb(0,0,0)"/>
<rect x="1907.2" y="702.8" width="71.2" height="71.1" fill="rgb(5,5,5)"/>
<rect x="1977.4" y="702.8" width="71.2" height="71.1" fill="rgb(10,10,10)"/>
<rect x="2047.6" y="702.8" width="71.2" height="71.1" fill="rgb(76,76,76)"/>
<rect x="2117.9" y="702.8" width="141.5" height="71.1" fill="rgb(143,143,143)"/>
<rect x="1275.2" y="772.9" width="141.4" height="71.1" fill="rgb(175,175,175)"/>
<rect x="1415.6" y="772.9" width="71.2" height="71.1" fill="rgb(159,159,159)"/>
<rect x="1485.8" y="772.9" width="71.2" height="71.1" fill="rgb(175,175,175)"/>
<rect x="1556.1" y="772.9" width="71.2" height="71.1" fill="rgb(128,128,128)"/>
<rect x="1626.3" y="772.9" width="71.2" height="71.1" fill="rgb(64,64,64)"/>
<rect x="1696.5" y="772.9" width="71.2" height="71.1" fill="rgb(48,48,48)"/>
<rect x="1766.7" y="772.9" width="71.2" height="71.1" fill="rgb(29,29,29)"/>
<rect x="1837" y="772.9" width="141.4" height="71.1" fill="rgb(0,0,0)"/>
<rect x="1977.4" y="772.9" width="71.2" height="71.1" fill="rgb(5,5,5)"/>
<rect x="2047.6" y="772.9" width="71.2" height="71.1" fill="rgb(10,10,10)"/>
<rect x="2117.9" y="772.9" width="71.2" height="71.1" fill="rgb(76,76,76)"/>
<rect x="2188.1" y="772.9" width="71.2" height="71.1" fill="rgb(143,143,143)"/>
<rect x="1275.2" y="843" width="71.2" height="71.1" fill="rgb(151,151,151)"/>
<rect x="1345.4" y="843" width="141.4" height="71.1" fill="rgb(143,143,143)"/>
<rect x="1485.8" y="843" width="71.2" height="71.1" fill="rgb(191,191,191)"/>
<rect x="1556.1" y="843" width="71.2" height="71.1" fill="rgb(112,112,112)"/>
<rect x="1626.3" y="843" width="71.2" height="71.1" fill="rgb(70,70,70)"/>
<rect x="1696.5" y="843" width="71.2" height="71.1" fill="rgb(59,59,59)"/>
<rect x="1766.7" y="843" width="71.2" height="71.1" fill="rgb(48,48,48)"/>
<rect x="1837" y="843" width="71.2" height="71.1" fill="rgb(24,24,24)"/>
<rect x="1907.2" y="843" width="141.5" height="71.1" fill="rgb(0,0,0)"/>
<rect x="2047.6" y="843" width="71.2" height="71.1" fill="rgb(5,5,5)"/>
<rect x="2117.9" y="843" width="71.2" height="71.1" fill="rgb(10,10,10)"/>
<rect x="2188.1" y="843" width="71.2" height="71.1" fill="rgb(76,76,76)"/>
<rect x="1275.2" y="913.1" width="71.2" height="71.1" fill="rgb(159,159,159)"/>
<rect x="1345.4" y="913.1" width="141.4" height="71.1" fill="rgb(143,143,143)"/>
<rect x="1485.8" y="913.1" width="71.2" height="71.1" fill="rgb(175,175,175)"/>
<rect x="1556.1" y="913.1" width="71.2" height="71.1" fill="rgb(143,143,143)"/>
<rect x="1626.3" y="913.1" width="71.2" height="71.1" fill="rgb(107,107,107)"/>
<rect x="1696.5" y="913.1" width="71.2" height="71.1" fill="rgb(70,70,70)"/>
<rect x="1766.7" y="913.1" width="71.2" height="71.1" fill="rgb(59,59,59)"/>
<rect x="1837" y="913.1" width="71.2" height="71.1" fill="rgb(48,48,48)"/>
<rect x="1907.2" y="913.1" width="71.2" height="71.1" fill="rgb(24,24,24)"/>
<rect x="1977.4" y="913.1" width="141.5" height="71.1" fill="rgb(0,0,0)"/>
<rect x="2117.9" y="913.1" width="71.2" height="71.1" fill="rgb(5,5,5)"/>
<rect x="2188.1" y="913.1" width="71.2" height="71.1" fill="rgb(10,10,10)"/>
<rect x="1275.2" y="983.2" width="71.2" height="71.1" fill="rgb(159,159,159)"/>
<rect x="1345.4" y="983.2" width="141.4" height="71.1" fill="rgb(143,143,143)"/>
<rect x="1485.8" y="983.2" width="71.2" height="71.1" fill="rgb(128,128,128)"/>
<rect x="1556.1" y="983.2" width="141.4" height="71.1" fill="rgb(96,96,96)"/>
<rect x="1696.5" y="983.2" width="71.2" height="71.1" fill="rgb(83,83,83)"/>
<rect x="1766.7" y="983.2" width="71.2" height="71.1" fill="rgb(70,70,70)"/>
<rect x="1837" y="983.2" width="71.2" height="71.1" fill="rgb(59,59,59)"/>
<rect x="1907.2" y="983.2" width="71.2" height="71.1" fill="rgb(48,48,48)"/>
<rect x="1977.4" y="983.2" width="71.2" height="71.1" fill="rgb(24,24,24)"/>
<rect x="2047.6" y="983.2" width="141.5" height="71.1" fill="rgb(0,0,0)"/>
<rect x="2188.1" y="983.2" width="71.2" height="71.1" fill="rgb(5,5,5)"/>
</g>
<ellipse cx="1507.4" cy="377.9" rx="56.2" ry="49.1" fill="url(#g7)" opacity="0.9"/>
<ellipse cx="1858.5" cy="261.5" rx="105.3" ry="73.6" fill="url(#g20)" opacity="0.9"/>
<ellipse cx="1654.9" cy="404.6" rx="79" ry="56.1" fill="url(#g20)" opacity="0.95"/>
<ellipse cx="1626.8" cy="464.9" rx="70.2" ry="52.6" fill="url(#g20)" opacity="0.7"/>
<ellipse cx="1461.1" cy="450.9" rx="66.7" ry="78.9" fill="url(#g20)" opacity="0.95"/>
<ellipse cx="1521.5" cy="822.5" rx="38.6" ry="140.2" fill="url(#g20)" opacity="0.4"/>
<ellipse cx="1858.5" cy="668.2" rx="105.3" ry="105.2" fill="url(#g0)" opacity="0.8"/>
</g></g>
<path d="M1452.2 161.1L1492.5 157.1L1499.1 163.3L1502.6 176.7L1514.7 183.3L1512.7 198.8L1505.6 211.9L1514.7 218.9L1514.7 229.9L1536.9 232L1561 229.9L1567.7 220.9L1585.2 211.9L1605.4 200.8L1634.6 187.7L1650.2 183.7L1655.8 192.3L1662.5 207.8L1674.9 207.8L1678.9 198.8L1692.5 189.8L1703.7 178.7L1714.9 177.7L1723.8 183.3L1737.4 184.4L1746 185.7L1761.5 183.3L1775 176.7L1783.7 175.7L1783.7 158.6L1772.6 150L1786.2 147.6L1788.4 127.5L1792.8 120L1806.3 113.4L1824 110L1857.3 112.4L1858.7 101.1L1873.1 95.3L1908.6 92.3L1922.1 98.9L1928.8 110L1939.9 118.9L1948.9 136.5L1944.4 143.5L1953.4 154.6L1964.1 169.7L1975.1 167.7L1985.2 174.7L1986.2 189.8L1990.8 196.8L1984.2 207.8L1977.2 209.9L1966.1 220.9L1986.2 241L1985.2 254.5L1993.1 272.1L1999.7 273.1L2031 269.1L2053.2 270.1L2057.8 266.7L2068.8 274.1L2089 276.7L2115.6 274.1L2117.9 281.2L2108.9 290.2L2097.8 299L2089 307.8L2075.5 310.3L2077.7 316.3L2085.6 319L2079.9 325.4L2070.9 330L2066.6 341.2L2068.8 352.3L2081.9 358.5L2095.5 367.6L2106.7 376.6L2122.2 384.7L2159.5 382.7L2165.6 390.7L2165.6 401.7L2172.2 414.8L2178.7 428.3L2189.7 432.9L2192.3 445.9L2201.2 455L2203.4 464L2194.6 464L2176.6 468L2161.1 472.8L2156.5 486.1L2145.4 488.1L2134.3 497.2L2127.7 515L2123.2 528.3L2125.3 539.4L2114.2 550.4L2103.1 557.2L2089.8 568.3L2074.2 577.3L2058.6 581.6L2038.6 579.6L2025.1 586.1L2020.5 595L2027.3 601.7L2018.5 610.5L2011.7 609.4L2002.8 603.7L1991.7 599.5L1980.6 597.2L1971.6 588.3L1965 579.5L1958 572.5L1946.9 567.2L1932.4 575.5L1921.2 589.2L1923.5 600.4L1930.2 606.7L1923.5 613.7L1907.6 620.4L1896.6 626.8L1905.6 631.4L1905.6 642.6L1894.5 644.9L1892.3 662.5L1899 671.5L1907.6 682.5L1919 687.1L1934.6 684.8L1932.4 693.7L1921.2 702.1L1910.2 715.9L1899 727L1883.5 731.3L1876.7 742.3L1870 753.4L1861.1 760.4L1834.1 760.4L1785.3 760.4L1776.4 762.4L1767.6 773.5L1754.1 784.5L1742.9 793.6L1727.3 804.6L1720.6 810.3L1711.8 802.6L1705.1 800.4L1700.6 809.2L1693.9 813.6L1698.4 820.4L1685 824.7L1667.1 830.4L1655.8 835.8L1658.3 842.6L1651.5 851.5L1640.4 866.9L1629.3 882.6L1618.1 900L1608.8 906.7L1591 917.8L1575.2 929L1564.1 944.3L1562.1 953.3L1568.7 964.3L1579.9 975.4L1588.8 984.4L1586.5 995.5L1575.2 1004.5L1564.1 1004.5L1555.3 995.5L1543.9 993.5L1528.6 1002.3L1521.8 1007.5L1510.7 1010.1L1501.6 1000L1486.3 1000L1468.4 1000L1455.1 993.5L1439.1 986.5L1421.6 982.2L1403.9 980L1388.2 975.4L1374.7 969L1352.5 966.4L1341.4 962.3L1325.8 953.3L1316.8 944.3L1319 937.8L1308 926.7L1305.6 917.8L1323.3 913.1L1334.7 906.7L1336.9 897.8L1348.1 891L1350.3 882L1348.1 864.5L1354.5 853.3L1365.6 839.8L1372.6 826.7L1383.7 811.1L1394.8 795.6L1392.6 786.5L1381.5 775.5L1376.7 762.2L1372.6 746.3L1365.6 735.3L1359.1 723.9L1348 715L1332.3 708.2L1321.3 701.7L1314.5 688.1L1318.9 677L1318.9 666L1323.3 656.9L1332.3 645.9L1343.4 639.4L1354.5 630.6L1359.1 619.4L1348 612.7L1350.2 601.7L1365.6 590.6L1379.2 581.6L1388.1 581.6L1399.2 590.6L1414.9 588.3L1430.5 583.6L1432.7 572.5L1446 570.5L1441.6 563.5L1443.8 552.4L1448.2 539.4L1455 526.1L1455 516.1L1440.4 510.2L1439.1 492.8L1439.1 477.1L1428.1 481.6L1414.9 477.1L1405.9 469.5L1390.3 468L1383.7 459.4L1368 455L1374.7 449.5L1383.7 445.9L1390.3 432.9L1401.5 432.9L1414.9 426.9L1432.7 423.8L1448.2 417.2L1452.7 410.5L1437.1 404.8L1423.7 401.7L1419.3 390.7L1410.3 372.6L1396.5 354.5L1387.8 341.5L1376.7 323.4L1363.1 310.3L1355.5 304.3L1363.1 296.8L1378.7 285.2L1368.6 275.7L1371.6 265.6L1363.1 258.1L1385.4 244.5L1409.9 244.5L1413.9 239L1411.9 220.9L1408.9 207.8L1428.1 184.7L1445.2 176.7Z" fill="none" stroke="#5a4a4a" stroke-width="1" stroke-opacity=".75" stroke-linejoin="round"/>
<path d="M1750 311.3L1756.6 320.2L1761 326.8L1769.9 333.4L1781 342.3L1787.6 348.9L1794.3 357.8L1803.1 362.2L1825.3 362.2L1847.4 363.3L1865.1 364.5L1874 366.7L1858.5 371.1L1858.5 375.5L1845.2 380L1836.3 382.2L1834.1 391L1836.3 399.9L1838.5 411L1845.2 417.6L1854 424.3L1858.5 428.7L1854 435.3L1845.2 437.6L1834.1 444.2L1825.3 448.6L1814.2 448.6L1798.7 453.1L1785.4 450.8L1774.3 453.1L1769.9 459.7L1769.9 470.8L1776.5 477.4L1787.6 481.9L1792 488.5L1789.8 495.1L1794.3 501.8L1787.6 506.2L1776.5 512.9L1761 512.9L1747.8 511.8L1741.1 515.1L1734.5 521.7L1725.6 526.2L1716.8 528.4L1712.3 532.8L1703.5 530.6L1696.8 523.9L1694.6 517.3L1681.3 516.2L1659.2 516.2L1645.9 519.5L1641.5 523.9L1632.6 526.2L1623.8 521.7L1614.9 515.1L1606.1 512.9L1592.8 510.6L1588.4 501.8L1583.9 490.7L1588.4 486.3L1592.8 477.4L1586.2 468.6L1581.7 461.9L1583.9 455.3L1592.8 448.6L1603.9 444.2L1614.9 439.8L1628.2 437.6L1637.1 435.3L1643.7 428.7L1652.6 422L1654.8 415.4L1648.1 408.8L1641.5 399.9L1632.6 395.5L1626 388.8L1628.2 380L1637.1 377.7L1648.1 371.1L1663.6 373.3L1674.7 368.9L1685.8 360L1694.6 353.4L1707.9 348.9L1716.8 346.7L1725.6 344.5L1721.2 335.7L1712.3 331.2L1716.8 324.6L1730.1 320.2L1743.3 317.9L1750 311.3" fill="none" stroke="#c8463c" stroke-width="1.1" stroke-opacity=".75" stroke-linejoin="round"/>
<path d="M1858.5 428.7L1869.5 426.5L1880.6 428.7L1889.5 435.3L1898.3 442L1909.4 448.6L1911.6 457.5L1902.7 459.7L1885 459.7L1876.2 461.9L1874 470.8L1878.4 481.9L1880.6 492.9L1887.2 501.8L1893.9 510.6L1900.5 519.5L1909.4 521.7L1929.3 519.5L1929.3 530.6L1924.9 541.7L1922.7 550.5L1933.7 557.2L1948.8 561.6L1947 567.2" fill="none" stroke="#c8463c" stroke-width="1.1" stroke-opacity=".75" stroke-linejoin="round"/>
<path d="M1825.3 448.6L1823 459.7L1825.3 470.8L1825.3 481.9L1825.3 492.9L1823 510.6L1809.8 511.8L1794.3 501.8" fill="none" stroke="#c8463c" stroke-width="1.1" stroke-opacity=".75" stroke-linejoin="round"/>
<path d="M1776.5 512.9L1772.1 521.7L1776.5 532.8L1778.8 543.9L1783.2 557.2L1787.5 562.5L1785.3 573.6L1771.9 584.7L1765.2 600.3L1763 618.1L1767.5 627L1785.3 633.6L1807.6 640.3L1812 647L1816.5 655.8L1834.3 653.6L1838.8 658.1L1852.2 660.3L1867.8 652.5L1890.1 651.4L1896.7 662.5" fill="none" stroke="#c8463c" stroke-width="1.1" stroke-opacity=".75" stroke-linejoin="round"/>
<path d="M1532 755.9L1546 755.8M1542 758.6L1546 755.8L1542 753L1543.8 755.8ZM1532 720.7L1546 720.9M1542 723.6L1546 720.9L1542 718L1543.8 720.9ZM1571.9 679.1L1576.4 692.4M1572.4 689.5L1576.4 692.4L1577.7 687.7L1575.7 690.3ZM1572.7 643.8L1575.5 657.5M1572 654.2L1575.5 657.5L1577.5 653.1L1575.1 655.4ZM1574.1 608.6L1574.1 622.6M1571.3 618.6L1574.1 622.6L1576.9 618.6L1574.1 620.4ZM1637.4 370.9L1651.3 369.6M1647.6 372.7L1651.3 369.6L1647.1 367.2L1649.1 369.8ZM1849.3 269.1L1860.7 261M1859.1 265.6L1860.7 261L1855.8 261L1858.9 262.2ZM1896.4 261.9L1883.9 268.2M1886.2 263.9L1883.9 268.2L1888.7 268.9L1885.8 267.2ZM1896.5 227.1L1883.8 232.9M1886.2 228.7L1883.8 232.9L1888.6 233.8L1885.8 232ZM1931.4 261.7L1919.1 268.4M1921.3 264L1919.1 268.4L1924 268.9L1921 267.4ZM1932.2 229.7L1918.2 230.2M1922.1 227.3L1918.2 230.2L1922.3 232.9L1920.4 230.2ZM1955.3 269.9L1965.4 260.2M1964.5 265L1965.4 260.2L1960.6 260.9L1963.8 261.7ZM1955.5 235.1L1965.2 224.9M1964.5 229.7L1965.2 224.9L1960.4 225.9L1963.7 226.5Z" fill="#000" fill-opacity=".7" stroke="#06061c" stroke-opacity=".92" stroke-width="0.9" stroke-linejoin="miter"/>
<path d="M1353.9 864.2L1372.9 857.9M1369.3 862.9L1372.9 857.9L1367.1 856.1L1370.3 858.8ZM1388.6 860.9L1408.6 861.2M1403.5 864.7L1408.6 861.2L1403.6 857.5L1405.8 861.2ZM1401.6 449.9L1395.5 430.8M1400.4 434.5L1395.5 430.8L1393.6 436.7L1396.3 433.4ZM1423.7 825.7L1443.7 826.3M1438.6 829.7L1443.7 826.3L1438.8 822.5L1440.9 826.2ZM1436.7 484.9L1430.6 465.9M1435.6 469.5L1430.6 465.9L1428.7 471.7L1431.4 468.5ZM1436.6 449.9L1430.7 430.8M1435.6 434.5L1430.7 430.8L1428.8 436.6L1431.5 433.4ZM1466.6 976L1471 956.5M1473.4 962.1L1471 956.5L1466.4 960.5L1470.4 959.1ZM1465.1 940.4L1472.5 921.9M1474 927.8L1472.5 921.9L1467.3 925.2L1471.5 924.4ZM1474.8 888.1L1462.8 904.1M1462.9 897.9L1462.8 904.1L1468.6 902.3L1464.4 901.9ZM1468.3 851L1469.3 871M1465.4 866.2L1469.3 871L1472.6 865.9L1469.1 868.3ZM1461.1 819.6L1476.5 832.4M1470.3 831.9L1476.5 832.4L1474.9 826.4L1474.4 830.6ZM1458.8 580.2L1478.8 581M1473.6 584.4L1478.8 581L1473.9 577.2L1476 580.9ZM1459.7 549.6L1477.9 541.4M1474.8 546.7L1477.9 541.4L1471.8 540.2L1475.4 542.5ZM1513.8 862.6L1494 859.5M1499.5 856.7L1494 859.5L1498.4 863.8L1496.7 859.9ZM1509.9 818L1497.9 834M1498 827.8L1497.9 834L1503.8 832.1L1499.5 831.8ZM1497.9 782.9L1509.8 799M1504 797.1L1509.8 799L1509.8 792.8L1508.2 796.7ZM1494.1 578.7L1513.7 582.4M1508.2 585L1513.7 582.4L1509.5 577.9L1511 581.9ZM1494.8 549.6L1513 541.5M1509.9 546.8L1513 541.5L1507 540.2L1510.5 542.6ZM1512.7 410.1L1495.1 400.5M1501.2 399.7L1495.1 400.5L1497.8 406L1497.5 401.8ZM1512.8 374.8L1495 365.7M1501.1 364.7L1495 365.7L1497.8 371.2L1497.4 366.9ZM1512.3 340.6L1495.5 329.7M1501.7 329.4L1495.5 329.7L1497.7 335.5L1497.8 331.2ZM1529 545.2L1549 545.8M1543.9 549.3L1549 545.8L1544.1 542.1L1546.3 545.7ZM1548.5 408.5L1529.5 402M1535.4 400.3L1529.5 402L1533.1 407.1L1532.1 402.9ZM1548.4 373.6L1529.6 366.8M1535.5 365.1L1529.6 366.8L1533.1 371.9L1532.2 367.7ZM1547.7 340.2L1530.4 330.2M1536.5 329.5L1530.4 330.2L1532.9 335.8L1532.7 331.5ZM1566.8 573.8L1581.5 587.4M1575.3 586.6L1581.5 587.4L1580.2 581.3L1579.4 585.5ZM1564.1 545.5L1584.1 545.5M1579.1 549.1L1584.1 545.5L1579.1 541.9L1581.4 545.5ZM1582.9 340L1565.3 330.4M1571.5 329.6L1565.3 330.4L1568 335.9L1567.8 331.7ZM1580.2 308L1568 292.2M1573.9 293.9L1568 292.2L1568.2 298.3L1569.7 294.4ZM1610.5 660.6L1608 640.8M1612.2 645.3L1608 640.8L1605 646.2L1608.3 643.5ZM1615.6 607.9L1602.9 623.4M1603.3 617.2L1602.9 623.4L1608.9 621.8L1604.6 621.2ZM1599.4 543.9L1619.1 547.1M1613.6 549.9L1619.1 547.1L1614.8 542.8L1616.4 546.7ZM1601.5 516.8L1616.9 504.1M1615.4 510.1L1616.9 504.1L1610.8 504.5L1614.8 505.8ZM1616.1 398L1602.4 412.6M1603.2 406.5L1602.4 412.6L1608.5 411.4L1604.3 410.6ZM1619.2 369.9L1599.2 370.6M1604.1 366.8L1599.2 370.6L1604.4 374L1602 370.5ZM1617.8 340.3L1600.6 330M1606.8 329.5L1600.6 330L1603.1 335.7L1603 331.4ZM1613.5 309.2L1605 291.1M1610.4 294L1605 291.1L1603.8 297.1L1606.1 293.5ZM1650.7 623.4L1638 607.9M1644 609.5L1638 607.9L1638.4 614.1L1639.7 610ZM1636.5 574.4L1652.2 586.8M1646 586.5L1652.2 586.8L1650.5 580.9L1650 585.1ZM1635.1 541.7L1653.6 549.3M1647.6 550.8L1653.6 549.3L1650.3 544.1L1651 548.3ZM1635.5 515.2L1653.1 505.7M1650.5 511.2L1653.1 505.7L1647 504.9L1650.7 507ZM1635.3 471.1L1653.4 479.7M1647.3 480.8L1653.4 479.7L1650.4 474.3L1650.9 478.5ZM1636.8 433.7L1651.8 446.9M1645.7 446.3L1651.8 446.9L1650.5 440.9L1649.8 445.1ZM1650.5 397.4L1638.1 413.1M1638.4 407L1638.1 413.1L1644.1 411.4L1639.8 411ZM1636.9 341.8L1651.8 328.5M1650.5 334.5L1651.8 328.5L1645.7 329.2L1649.8 330.4ZM1639.6 308.9L1649.1 291.3M1649.9 297.4L1649.1 291.3L1643.5 294L1647.8 293.7ZM1679.6 625.6L1679.3 605.6M1683 610.6L1679.3 605.6L1675.8 610.7L1679.3 608.4ZM1675.9 571.2L1683 589.9M1677.8 586.5L1683 589.9L1684.6 584L1682 587.4ZM1674 537.2L1684.9 553.9M1679.2 551.7L1684.9 553.9L1685.2 547.7L1683.4 551.6ZM1670.1 506.9L1688.8 514M1682.9 515.6L1688.8 514L1685.4 508.8L1686.2 513ZM1671.6 469.2L1687.3 481.6M1681.2 481.3L1687.3 481.6L1685.6 475.6L1685.2 479.9ZM1672.2 433.5L1686.8 447.2M1680.6 446.4L1686.8 447.2L1685.6 441.1L1684.8 445.3ZM1672.5 398.1L1686.4 412.4M1680.4 411.4L1686.4 412.4L1685.5 406.3L1684.5 410.5ZM1669.5 370.1L1689.5 370.3M1684.4 373.9L1689.5 370.3L1684.5 366.7L1686.7 370.3ZM1671.5 341.2L1687.4 329.1M1685.6 335L1687.4 329.1L1681.3 329.3L1685.2 330.8ZM1672.2 307L1686.7 293.2M1685.6 299.3L1686.7 293.2L1680.6 294.1L1684.7 295.1ZM1719.4 571.8L1709.8 589.3M1709 583.2L1709.8 589.3L1715.3 586.7L1711.1 586.9ZM1715.7 535.6L1713.4 555.4M1710.4 550.1L1713.4 555.4L1717.6 550.9L1713.7 552.7ZM1707.9 503L1721.2 517.9M1715.2 516.6L1721.2 517.9L1720.6 511.8L1719.4 515.9ZM1707.8 397.9L1721.3 412.6M1715.3 411.4L1721.3 412.6L1720.6 406.5L1719.5 410.6ZM1705.7 365.6L1723.4 374.9M1717.3 375.7L1723.4 374.9L1720.7 369.4L1721 373.6ZM1705.1 331.9L1724 338.4M1718.1 340.2L1724 338.4L1720.5 333.4L1721.4 337.5ZM1704.6 300.2L1724.6 300M1719.6 303.6L1724.6 300L1719.5 296.4L1721.8 300ZM1755.5 572.5L1743.8 588.7M1743.8 582.5L1743.8 588.7L1749.7 586.7L1745.4 586.4ZM1754.4 536.7L1745 554.3M1744.2 548.2L1745 554.3L1750.5 551.6L1746.3 551.9ZM1753.1 501.1L1746.3 519.9M1744.6 513.9L1746.3 519.9L1751.4 516.4L1747.2 517.3ZM1742 363.8L1757.4 376.6M1751.2 376.2L1757.4 376.6L1755.8 370.6L1755.3 374.8ZM1740.4 331.4L1759 338.9M1753 340.4L1759 338.9L1755.7 333.7L1756.4 337.9ZM1740.1 297.1L1759.2 303.1M1753.4 305L1759.2 303.1L1755.5 298.1L1756.6 302.3ZM1742.6 272.1L1756.8 258M1755.8 264.1L1756.8 258L1750.7 259L1754.8 260ZM1794.7 581.6L1774.8 579.6M1780.2 576.5L1774.8 579.6L1779.5 583.6L1777.6 579.8ZM1794.3 542.4L1775.3 548.7M1778.9 543.7L1775.3 548.7L1781.2 550.5L1777.9 547.8ZM1791.3 432.8L1778.2 447.9M1778.8 441.8L1778.2 447.9L1784.2 446.5L1780 445.8ZM1781.4 395.9L1788.2 414.7M1783.1 411.2L1788.2 414.7L1789.9 408.8L1787.3 412.1ZM1780.1 361.4L1789.5 379.1M1783.9 376.3L1789.5 379.1L1790.3 373L1788.2 376.6ZM1778 327.8L1791.6 342.5M1785.5 341.3L1791.6 342.5L1790.8 336.4L1789.7 340.5ZM1777.1 293.8L1792.5 306.4M1786.4 306.1L1792.5 306.4L1790.9 300.5L1790.4 304.7ZM1776.4 270.5L1793.2 259.6M1790.9 265.3L1793.2 259.6L1787 259.3L1790.9 261.1ZM1829.6 583.1L1810.2 578M1816 575.8L1810.2 578L1814.2 582.8L1812.9 578.7ZM1829 444.6L1810.9 436.1M1816.9 435L1810.9 436.1L1813.8 441.5L1813.3 437.3ZM1826.2 397.5L1813.6 413.1M1814 406.9L1813.6 413.1L1819.6 411.4L1815.4 410.9ZM1829.4 367.1L1810.4 373.3M1814 368.4L1810.4 373.3L1816.3 375.2L1813 372.5ZM1828.2 329.6L1811.6 340.7M1813.7 335L1811.6 340.7L1817.8 340.9L1813.9 339.2ZM1812.8 293L1827 307.2M1820.9 306.2L1827 307.2L1826 301.1L1825 305.2ZM1812.7 271.9L1827.1 258.1M1826 264.2L1827.1 258.1L1821 259L1825.2 260ZM1814.1 238.1L1825.7 221.8M1825.7 228L1825.7 221.8L1819.9 223.8L1824.1 224.1ZM1821.4 204.8L1818.4 185M1822.7 189.5L1818.4 185L1815.6 190.5L1818.8 187.8ZM1863.6 445.5L1846.4 435.2M1852.6 434.7L1846.4 435.2L1848.9 440.9L1848.8 436.6ZM1863.7 410.2L1846.3 400.3M1852.4 399.7L1846.3 400.3L1848.9 405.9L1848.7 401.7ZM1864.7 372.7L1845.3 367.7M1851.1 365.5L1845.3 367.7L1849.3 372.4L1848 368.4ZM1864.2 331.2L1845.9 339.2M1849 333.9L1845.9 339.2L1851.9 340.5L1848.4 338.1ZM1848.5 292.5L1861.5 307.7M1855.6 306.2L1861.5 307.7L1861 301.5L1859.8 305.6ZM1849.8 238.5L1860.3 221.5M1860.7 227.6L1860.3 221.5L1854.6 223.8L1858.8 223.8ZM1856.5 204.8L1853.6 185M1857.9 189.5L1853.6 185L1850.7 190.5L1854 187.8ZM1853.7 169.8L1856.4 150M1859.3 155.4L1856.4 150L1852.1 154.4L1856 152.7ZM1899.7 542.7L1880.5 548.3M1884.3 543.5L1880.5 548.3L1886.4 550.4L1883.2 547.6ZM1896.2 502.5L1884.1 518.4M1884.2 512.3L1884.1 518.4L1890 516.6L1885.8 516.2ZM1885.3 466.6L1894.9 484.2M1889.4 481.5L1894.9 484.2L1895.7 478.1L1893.6 481.8ZM1886.9 414.7L1893.4 395.8M1895.2 401.7L1893.4 395.8L1888.4 399.4L1892.5 398.4ZM1886.8 379.7L1893.4 360.8M1895.2 366.7L1893.4 360.8L1888.4 364.3L1892.5 363.4ZM1890 290.1L1890.3 310.1M1886.6 305.2L1890.3 310.1L1893.8 305L1890.3 307.4ZM1881.4 190.1L1898.9 199.8M1892.7 200.5L1898.9 199.8L1896.3 194.2L1896.5 198.5ZM1880.8 163.5L1899.5 156.2M1896.1 161.4L1899.5 156.2L1893.5 154.7L1896.9 157.2ZM1935.2 579.7L1915.3 581.4M1920 577.4L1915.3 581.4L1920.6 584.6L1918 581.2ZM1934.9 542.9L1915.6 548.1M1919.5 543.4L1915.6 548.1L1921.4 550.3L1918.3 547.4ZM1931.5 502.7L1919 518.2M1919.3 512.1L1919 518.2L1924.9 516.6L1920.7 516.1ZM1922 465.9L1928.5 484.8M1923.5 481.3L1928.5 484.8L1930.3 478.9L1927.6 482.2ZM1915.7 437.3L1934.8 443.4M1928.9 445.3L1934.8 443.4L1931.1 438.5L1932.1 442.6ZM1915.3 406.7L1935.1 403.9M1930.7 408.1L1935.1 403.9L1929.7 401L1932.4 404.3ZM1915.3 371.7L1935.1 368.8M1930.7 373.1L1935.1 368.8L1929.7 365.9L1932.4 369.2ZM1915.9 331.6L1934.6 338.7M1928.6 340.3L1934.6 338.7L1931.2 333.6L1932 337.7ZM1923.8 290.2L1926.6 310M1922.4 305.6L1926.6 310L1929.5 304.6L1926.3 307.3ZM1915.5 192.8L1935 197.1M1929.3 199.5L1935 197.1L1930.9 192.5L1932.3 196.5ZM1965.5 536.9L1955.2 554.1M1954.7 548L1955.2 554.1L1960.9 551.7L1956.6 551.7ZM1963.7 501L1957 519.9M1955.3 513.9L1957 519.9L1962 516.4L1957.9 517.3ZM1960.3 465.4L1960.4 485.4M1956.8 480.4L1960.4 485.4L1964 480.4L1960.4 482.6ZM1950.8 402.3L1969.9 408.3M1964 410.2L1969.9 408.3L1966.2 403.3L1967.3 407.5ZM1952.6 363.9L1968.1 376.5M1962 376.2L1968.1 376.5L1966.5 370.6L1966 374.8ZM1964.1 325.9L1956.6 344.4M1955.1 338.4L1956.6 344.4L1961.8 341.2L1957.6 341.9ZM1954 292.4L1966.8 307.8M1960.8 306.3L1966.8 307.8L1966.3 301.6L1965 305.7ZM1951 198.3L1969.8 191.5M1966.3 196.6L1969.8 191.5L1963.8 189.8L1967.2 192.5ZM2004.1 575.5L1986.9 585.7M1989.3 580L1986.9 585.7L1993 586.2L1989.2 584.3ZM1999.6 536.4L1991.4 554.6M1990.1 548.6L1991.4 554.6L1996.7 551.5L1992.5 552.1ZM1998 500.8L1993 520.1M1990.7 514.4L1993 520.1L1997.7 516.2L1993.7 517.5ZM1995 465.4L1996 485.4M1992.1 480.6L1996 485.4L1999.3 480.2L1995.8 482.6ZM1988.2 363.3L2002.7 377.1M1996.6 376.3L2002.7 377.1L2001.6 371.1L2000.7 375.2ZM1995.2 325.2L1995.7 345.2M1992 340.3L1995.7 345.2L1999.2 340.1L1995.7 342.4ZM1988.4 293L2002.5 307.2M1996.4 306.2L2002.5 307.2L2001.5 301.1L2000.6 305.3ZM2056.1 332.3L2075.3 338.1M2069.4 340.1L2075.3 338.1L2071.5 333.2L2072.6 337.3ZM2126 403.7L2145.8 406.8M2140.3 409.6L2145.8 406.8L2141.4 402.5L2143.1 406.4Z" fill="#000" fill-opacity=".7" stroke="#06061c" stroke-opacity=".92" stroke-width="1.0" stroke-linejoin="miter"/>
<path d="M1319.1 923.5L1337.6 938.8M1330.1 938.4L1337.6 938.8L1335.8 931.5L1335.1 936.7ZM1318 679.6L1338.6 691.9M1331.2 692.7L1338.6 691.9L1335.8 685L1335.8 690.2ZM1353 925.3L1373.9 937M1366.5 938L1373.9 937L1370.9 930.2L1371 935.4ZM1352.9 890.4L1374 901.8M1366.6 902.9L1374 901.8L1370.9 895L1371.1 900.2ZM1353.8 678.6L1373.1 692.9M1365.6 692.9L1373.1 692.9L1370.9 685.7L1370.4 691ZM1354.1 643.2L1372.8 658.2M1365.3 658L1372.8 658.2L1370.9 650.9L1370.2 656.1ZM1353.2 609.4L1373.7 621.9M1366.2 622.6L1373.7 621.9L1370.9 614.9L1370.9 620.1ZM1386.6 966L1410.6 966.4M1404.5 970.8L1410.6 966.4L1404.6 961.8L1407.3 966.3ZM1387.6 926.2L1409.5 936.1M1402.2 937.7L1409.5 936.1L1405.9 929.5L1406.5 934.7ZM1388 890.4L1409.1 901.8M1401.7 902.9L1409.1 901.8L1406 895L1406.2 900.2ZM1386.6 825.9L1410.6 826M1404.5 830.5L1410.6 826L1404.6 821.5L1407.3 826ZM1386.6 790.9L1410.6 790.9M1404.6 795.4L1410.6 790.9L1404.5 786.4L1407.3 790.9ZM1386.7 757.8L1410.4 754M1405.2 759.4L1410.4 754L1403.8 750.5L1407.1 754.5ZM1388 680.1L1409.2 691.4M1401.8 692.5L1409.2 691.4L1406 684.6L1406.2 689.8ZM1388.4 644.3L1408.7 657.1M1401.2 657.7L1408.7 657.1L1406 650.1L1405.9 655.3ZM1388.2 609.6L1408.9 621.6M1401.5 622.5L1408.9 621.6L1406 614.7L1406.1 620ZM1421.9 968.3L1445.5 964.1M1440.4 969.6L1445.5 964.1L1438.8 960.7L1442.2 964.7ZM1421.7 930.9L1445.7 931.4M1439.6 935.8L1445.7 931.4L1439.7 926.8L1442.4 931.3ZM1423.8 889.3L1443.6 902.9M1436.1 903.2L1443.6 902.9L1441.2 895.8L1440.8 901ZM1424.2 853.7L1443.1 868.4M1435.6 868.3L1443.1 868.4L1441.2 861.2L1440.5 866.4ZM1421.7 790.7L1445.7 791.2M1439.6 795.5L1445.7 791.2L1439.8 786.5L1442.4 791.1ZM1421.7 755.6L1445.7 756.1M1439.6 760.5L1445.7 756.1L1439.8 751.5L1442.4 756ZM1423.4 679.6L1444 691.9M1436.5 692.7L1444 691.9L1441.1 685L1441.1 690.2ZM1423.7 644L1443.6 657.4M1436.1 657.8L1443.6 657.4L1441.2 650.3L1440.9 655.6ZM1423.3 609.5L1444 621.8M1436.5 622.6L1444 621.8L1441.1 614.8L1441.2 620.1ZM1435.2 382.1L1432.1 358.3M1437.4 363.7L1432.1 358.3L1428.4 364.9L1432.5 361.6ZM1435.7 347L1431.6 323.3M1437.1 328.5L1431.6 323.3L1428.2 330L1432.2 326.6ZM1459.4 783.5L1478.2 798.4M1470.7 798.2L1478.2 798.4L1476.3 791.1L1475.6 796.3ZM1459.3 748.5L1478.2 763.3M1470.7 763.1L1478.2 763.3L1476.3 756L1475.6 761.2ZM1458.4 714.8L1479.2 726.8M1471.7 727.7L1479.2 726.8L1476.2 719.9L1476.3 725.1ZM1458.9 679L1478.7 692.5M1471.2 692.8L1478.7 692.5L1476.3 685.4L1476 690.6ZM1459.5 643.1L1478 658.3M1470.6 658L1478 658.3L1476.3 651L1475.5 656.2ZM1460.1 607.3L1477.4 624M1470 623L1477.4 624L1476.2 616.6L1475 621.7ZM1468.7 522.5L1468.9 498.5M1473.3 504.5L1468.9 498.5L1464.3 504.4L1468.9 501.8ZM1468.9 487.4L1468.7 463.4M1473.2 469.4L1468.7 463.4L1464.2 469.4L1468.7 466.7ZM1469 452.3L1468.5 428.3M1473.2 434.2L1468.5 428.3L1464.2 434.4L1468.6 431.6ZM1469.2 417.3L1468.4 393.3M1473.1 399.1L1468.4 393.3L1464.1 399.4L1468.5 396.6ZM1471.4 381.9L1466.2 358.5M1471.9 363.4L1466.2 358.5L1463.1 365.3L1466.9 361.7ZM1471.2 346.9L1466.3 323.4M1472 328.4L1466.3 323.4L1463.1 330.2L1467 326.6ZM1505.4 908L1502.4 884.2M1507.6 889.6L1502.4 884.2L1498.7 890.7L1502.8 887.5ZM1495.8 747L1512 764.8M1504.6 763.3L1512 764.8L1511.3 757.3L1509.7 762.3ZM1494.6 713.3L1513.2 728.4M1505.7 728.1L1513.2 728.4L1511.4 721.1L1510.7 726.3ZM1494.5 678.2L1513.3 693.3M1505.8 693L1513.3 693.3L1511.4 686L1510.7 691.2ZM1494.8 642.8L1513 658.5M1505.5 658L1513 658.5L1511.4 651.2L1510.5 656.4ZM1495 607.5L1512.8 623.7M1505.3 623L1512.8 623.7L1511.4 616.4L1510.3 621.5ZM1502.7 522.4L1505.1 498.5M1509 504.9L1505.1 498.5L1500 504L1504.8 501.8ZM1502.7 487.3L1505.1 463.5M1509 469.9L1505.1 463.5L1500 469L1504.8 466.7ZM1503.9 452.3L1503.9 428.3M1508.4 434.3L1503.9 428.3L1499.4 434.3L1503.9 431.6ZM1538.2 802.9L1539.8 778.9M1543.9 785.2L1539.8 778.9L1534.9 784.6L1539.6 782.2ZM1530.2 677.6L1547.8 693.9M1540.3 693.1L1547.8 693.9L1546.5 686.5L1545.4 691.7ZM1530.9 641.8L1547.1 659.6M1539.7 658.2L1547.1 659.6L1546.4 652.1L1544.9 657.1ZM1530.6 607.1L1547.4 624.2M1540 623.1L1547.4 624.2L1546.4 616.8L1545.1 621.8ZM1528.7 574.4L1549.3 586.7M1541.8 587.5L1549.3 586.7L1546.5 579.8L1546.5 585ZM1534.8 521.7L1543.3 499.2M1545.3 506.4L1543.3 499.2L1536.9 503.3L1542.1 502.3ZM1531.8 485L1546.2 465.8M1546.2 473.3L1546.2 465.8L1539 467.9L1544.2 468.4ZM1531.9 450L1546.1 430.7M1546.2 438.2L1546.1 430.7L1539 432.8L1544.2 433.3ZM1545.9 309.9L1532.1 290.3M1539.3 292.6L1532.1 290.3L1531.9 297.8L1534 293ZM1540.5 276.9L1537.5 253.1M1542.7 258.5L1537.5 253.1L1533.8 259.7L1537.9 256.4ZM1573.6 767.8L1574.7 743.9M1578.9 750.1L1574.7 743.9L1569.9 749.7L1574.5 747.2ZM1573.6 732.8L1574.7 708.8M1578.9 715L1574.7 708.8L1569.9 714.6L1574.5 712.1ZM1568.6 521.1L1579.7 499.8M1580.9 507.2L1579.7 499.8L1572.9 503.1L1578.2 502.7ZM1566.6 484.8L1581.6 466M1581.4 473.5L1581.6 466L1574.3 467.9L1579.5 468.6ZM1566.8 449.9L1581.4 430.8M1581.3 438.3L1581.4 430.8L1574.2 432.8L1579.4 433.4ZM1583.7 398L1564.6 412.6M1566.6 405.3L1564.6 412.6L1572.1 412.5L1567.2 410.6ZM1584.8 364.7L1563.4 375.7M1566.7 369L1563.4 375.7L1570.8 377L1566.4 374.2ZM1574.3 277L1574 253M1578.5 259L1574 253L1569.5 259.1L1574 256.3ZM1574.1 242L1574.1 218M1578.6 224L1574.1 218L1569.6 224L1574.1 221.3ZM1608.5 767.8L1610 743.9M1614.1 750.2L1610 743.9L1605.1 749.6L1609.8 747.2ZM1608.3 732.8L1610.2 708.8M1614.2 715.2L1610.2 708.8L1605.2 714.5L1609.9 712.1ZM1608.9 697.7L1609.5 673.7M1613.9 679.9L1609.5 673.7L1604.9 679.6L1609.4 677ZM1599.2 573.9L1619.2 587.2M1611.8 587.6L1619.2 587.2L1616.7 580.1L1616.5 585.4ZM1601.1 484.3L1617.3 466.5M1616.6 474L1617.3 466.5L1609.9 467.9L1615.1 469ZM1601.3 449.3L1617.2 431.3M1616.6 438.8L1617.2 431.3L1609.8 432.9L1615 433.8ZM1609.1 277L1609.4 253M1613.8 259.1L1609.4 253L1604.8 259L1609.3 256.3ZM1609 242L1609.5 218M1613.8 224.1L1609.5 218L1604.9 223.9L1609.4 221.3ZM1646.7 662.5L1642 638.9M1647.6 643.9L1642 638.9L1638.8 645.7L1642.6 642.2ZM1640.4 276.4L1648.3 253.7M1650.6 260.8L1648.3 253.7L1642.1 257.9L1647.2 256.8ZM1640.4 241.3L1648.3 218.6M1650.6 225.8L1648.3 218.6L1642 222.8L1647.2 221.8ZM1640.8 206.4L1647.9 183.5M1650.4 190.5L1647.9 183.5L1641.8 187.9L1646.9 186.6ZM1680 662.7L1678.9 638.7M1683.7 644.5L1678.9 638.7L1674.7 644.9L1679 642ZM1675.2 276.3L1683.7 253.8M1685.8 261.1L1683.7 253.8L1677.4 257.8L1682.6 256.9ZM1675.2 241.2L1683.8 218.8M1685.8 226L1683.8 218.8L1677.4 222.8L1682.6 221.9ZM1714.8 627.6L1714.3 603.6M1719 609.5L1714.3 603.6L1710 609.7L1714.4 606.9ZM1709.9 464.3L1719.2 486.5M1712.7 482.7L1719.2 486.5L1721 479.2L1717.9 483.4ZM1709.7 429.4L1719.4 451.3M1712.9 447.6L1719.4 451.3L1721.1 444L1718.1 448.3ZM1707.5 274.8L1721.6 255.3M1721.7 262.8L1721.6 255.3L1714.4 257.5L1719.7 258ZM1707.8 239.9L1721.4 220.1M1721.7 227.6L1721.4 220.1L1714.3 222.5L1719.5 222.8ZM1707.8 204.8L1721.3 185M1721.7 192.5L1721.3 185L1714.2 187.4L1719.5 187.7ZM1750.1 627.6L1749.3 603.6M1754 609.5L1749.3 603.6L1745 609.8L1749.4 606.9ZM1747.7 463.6L1751.6 487.2M1746.2 482L1751.6 487.2L1755.1 480.6L1751.1 484ZM1745.9 428.9L1753.4 451.7M1747.3 447.4L1753.4 451.7L1755.8 444.6L1752.4 448.6ZM1743.7 394.9L1755.6 415.7M1748.8 412.7L1755.6 415.7L1756.6 408.2L1754 412.8ZM1742.8 239.8L1756.6 220.2M1756.8 227.7L1756.6 220.2L1749.4 222.5L1754.7 222.9ZM1743 204.9L1756.4 185M1756.8 192.5L1756.4 185L1749.3 187.4L1754.6 187.7ZM1793.8 502.5L1775.8 518.4M1777.3 511L1775.8 518.4L1783.3 517.8L1778.3 516.2ZM1793.9 467.6L1775.7 483.2M1777.3 475.9L1775.7 483.2L1783.1 482.7L1778.2 481ZM1778.1 239.9L1791.5 220M1791.9 227.5L1791.5 220L1784.4 222.5L1789.7 222.8ZM1778.4 205.1L1791.1 184.7M1791.8 192.2L1791.1 184.7L1784.1 187.5L1789.4 187.5ZM1831.8 543.7L1808 547.3M1813.3 541.9L1808 547.3L1814.6 550.8L1811.3 546.8ZM1829.8 503.7L1810 517.2M1812.4 510.1L1810 517.2L1817.5 517.6L1812.7 515.4ZM1831.8 474.1L1808 476.7M1813.5 471.5L1808 476.7L1814.4 480.5L1811.3 476.3ZM1820.3 171.9L1819.5 147.9M1824.2 153.7L1819.5 147.9L1815.2 154L1819.6 151.2ZM1819.8 136.8L1820 112.8M1824.4 118.8L1820 112.8L1815.4 118.8L1820 116.1ZM1866.3 584.8L1843.8 576.3M1851 574.2L1843.8 576.3L1847.8 582.7L1846.9 577.5ZM1867 544.9L1843 546.1M1848.8 541.3L1843 546.1L1849.3 550.3L1846.3 545.9ZM1865.5 504.5L1844.6 516.4M1847.6 509.5L1844.6 516.4L1852 517.3L1847.4 514.7ZM1866.8 473L1843.3 477.8M1848.2 472.2L1843.3 477.8L1850 481L1846.5 477.1ZM1853.5 136.7L1856.5 112.9M1860.2 119.4L1856.5 112.9L1851.3 118.3L1856.1 116.2ZM1899.2 588.5L1881.1 572.7M1888.6 573.2L1881.1 572.7L1882.7 580L1883.6 574.8ZM1878.2 439.4L1902.1 441.3M1895.8 445.3L1902.1 441.3L1896.5 436.3L1898.8 441ZM1878.2 334L1902.1 336.3M1895.7 340.2L1902.1 336.3L1896.5 331.3L1898.8 336ZM1880.9 132.4L1899.4 117.2M1897.6 124.5L1899.4 117.2L1891.9 117.5L1896.8 119.3ZM1913.4 161.8L1937.1 158M1931.9 163.4L1937.1 158L1930.5 154.5L1933.8 158.5ZM1913.5 127.4L1937 122.3M1932.1 127.9L1937 122.3L1930.2 119.1L1933.7 123ZM1952.4 431.4L1968.3 449.3M1961 447.8L1968.3 449.3L1967.7 441.8L1966.1 446.8ZM1988.6 430.5L2002.3 450.2M1995.2 447.8L2002.3 450.2L2002.6 442.7L2000.4 447.5ZM1985.8 398.2L2005.2 412.3M1997.7 412.4L2005.2 412.3L2003 405.2L2002.5 410.4ZM2030.5 533.5L2030.7 557.5M2026.1 551.5L2030.7 557.5L2035.1 551.5L2030.6 554.2ZM2029.5 498.5L2031.6 522.4M2026.6 516.8L2031.6 522.4L2035.6 516L2031.3 519.1ZM2028.4 463.6L2032.7 487.2M2027.2 482.1L2032.7 487.2L2036.1 480.5L2032.1 484ZM2026.4 429.1L2034.7 451.6M2028.4 447.5L2034.7 451.6L2036.9 444.4L2033.6 448.5ZM2022.2 396.7L2039 413.9M2031.5 412.7L2039 413.9L2038 406.4L2036.6 411.5ZM2019.8 364.9L2041.3 375.5M2034 376.9L2041.3 375.5L2038 368.8L2038.4 374.1ZM2019.2 331.3L2041.9 339.1M2034.8 341.4L2041.9 339.1L2037.7 332.9L2038.8 338ZM2018.6 299.9L2042.6 300.3M2036.5 304.7L2042.6 300.3L2036.7 295.7L2039.3 300.2ZM2064.2 533.6L2067.2 557.4M2062 552L2067.2 557.4L2070.9 550.9L2066.8 554.1ZM2063.6 498.6L2067.8 522.3M2062.3 517.1L2067.8 522.3L2071.2 515.6L2067.2 519ZM2062.5 463.8L2068.9 487M2063 482.4L2068.9 487L2071.6 480L2068 483.8ZM2060.1 429.7L2071.3 450.9M2064.5 447.7L2071.3 450.9L2072.5 443.5L2069.8 448ZM2054.3 401.5L2077.1 409.1M2070 411.4L2077.1 409.1L2072.8 402.9L2073.9 408ZM2053.9 367.9L2077.5 372.6M2070.7 375.8L2077.5 372.6L2072.5 367L2074.2 371.9ZM2053.7 299.8L2077.7 300.4M2071.6 304.7L2077.7 300.4L2071.8 295.7L2074.4 300.3ZM2093.4 536.1L2108.2 554.9M2101 553L2108.2 554.9L2108.1 547.4L2106.2 552.3ZM2094.7 500.1L2106.9 520.8M2100 517.9L2106.9 520.8L2107.7 513.4L2105.2 518ZM2093.8 465.6L2107.8 485.2M2100.6 482.9L2107.8 485.2L2108 477.7L2105.9 482.5ZM2089.8 435.6L2111.8 445.1M2104.5 446.8L2111.8 445.1L2108.1 438.6L2108.8 443.8ZM2089 403L2112.6 407.5M2105.9 410.8L2112.6 407.5L2107.5 402L2109.4 406.9ZM2126.5 468L2145.3 482.8M2137.8 482.6L2145.3 482.8L2143.4 475.6L2142.7 480.8ZM2124.2 437.8L2147.7 442.8M2140.8 446L2147.7 442.8L2142.7 437.2L2144.4 442.2ZM2160.3 445.8L2181.7 434.9M2178.4 441.6L2181.7 434.9L2174.3 433.6L2178.8 436.4Z" fill="#000" fill-opacity=".7" stroke="#06061c" stroke-opacity=".92" stroke-width="1.1" stroke-linejoin="miter"/>
<path d="M1349.7 718.3L1377.2 723.3M1369.4 727.5L1377.2 723.3L1371.3 716.6L1373.4 722.6ZM1384.6 720.3L1412.5 721.3M1405.3 726.6L1412.5 721.3L1405.8 715.6L1408.7 721.2ZM1400.2 349.1L1396.9 321.3M1403.2 327.6L1396.9 321.3L1392.3 328.9L1397.4 325.1ZM1419.7 720.1L1447.7 721.5M1440.4 726.6L1447.7 721.5L1440.9 715.6L1443.8 721.3ZM1434.4 314.1L1432.9 286.1M1438.8 292.8L1432.9 286.1L1427.8 293.4L1433.1 290ZM1470.8 314L1466.7 286.3M1473.2 292.4L1466.7 286.3L1462.3 294L1467.3 290.1ZM1469.9 279L1467.7 251.1M1473.7 257.6L1467.7 251.1L1462.7 258.5L1468 254.9ZM1467.3 243.9L1470.3 216.1M1475 223.6L1470.3 216.1L1464 222.4L1469.8 219.9ZM1466.9 208.8L1470.7 181.1M1475.2 188.7L1470.7 181.1L1464.3 187.3L1470.1 184.9ZM1503.7 980.2L1504.1 952.2M1509.5 959.3L1504.1 952.2L1498.5 959.1L1504 956.1ZM1503.8 945.2L1504 917.2M1509.5 924.2L1504 917.2L1498.5 924.1L1504 921ZM1506.5 313.9L1501.3 286.4M1508 292.2L1501.3 286.4L1497.2 294.3L1502 290.1ZM1505.1 279L1502.7 251.1M1508.8 257.6L1502.7 251.1L1497.8 258.6L1503 254.9ZM1502.9 244L1504.8 216M1509.9 223.4L1504.8 216L1498.9 222.6L1504.6 219.9ZM1502.1 208.8L1505.7 181M1510.3 188.7L1505.7 181L1499.4 187.3L1505.2 184.9ZM1539 980.2L1539 952.2M1544.5 959.2L1539 952.2L1533.5 959.2L1539 956.1ZM1539 945.2L1539 917.2M1544.5 924.2L1539 917.2L1533.5 924.2L1539 921ZM1539.1 910.1L1538.9 882.1M1544.4 889L1538.9 882.1L1533.4 889.2L1538.9 885.9ZM1539.5 875L1538.6 847M1544.3 853.9L1538.6 847L1533.3 854.2L1538.7 850.9ZM1539.2 840L1538.8 812M1544.4 818.9L1538.8 812L1533.4 819L1538.9 815.8ZM1574.1 910.1L1574.1 882.1M1579.6 889.1L1574.1 882.1L1568.6 889.1L1574.1 885.9ZM1574.1 875L1574.1 847M1579.6 854L1574.1 847L1568.6 854L1574.1 850.9ZM1574.1 840L1574.2 812M1579.6 819L1574.2 812L1568.6 819L1574.1 815.8ZM1573.9 804.9L1574.3 776.9M1579.7 784L1574.3 776.9L1568.7 783.8L1574.3 780.8ZM1609.2 910.1L1609.2 882.1M1614.7 889.1L1609.2 882.1L1603.7 889.1L1609.2 885.9ZM1609.1 875L1609.3 847M1614.8 854.1L1609.3 847L1603.8 854L1609.3 850.9ZM1609 840L1609.5 812M1614.8 819.1L1609.5 812L1603.8 818.9L1609.4 815.8ZM1608.7 804.9L1609.8 776.9M1615 784.1L1609.8 776.9L1604 783.7L1609.6 780.8ZM1644.3 840L1644.4 812M1649.8 819L1644.4 812L1638.8 819L1644.4 815.8ZM1644.3 804.9L1644.4 776.9M1649.9 783.9L1644.4 776.9L1638.9 783.9L1644.4 780.8ZM1644.3 769.9L1644.4 741.9M1649.9 748.9L1644.4 741.9L1638.9 748.9L1644.4 745.7ZM1644.3 734.8L1644.4 706.8M1649.9 713.8L1644.4 706.8L1638.9 713.8L1644.4 710.7ZM1644.4 699.7L1644.3 671.7M1649.8 678.7L1644.3 671.7L1638.8 678.8L1644.3 675.6ZM1679.4 804.9L1679.5 776.9M1685 783.9L1679.5 776.9L1674 783.9L1679.5 780.8ZM1679.4 769.9L1679.5 741.9M1685 748.9L1679.5 741.9L1674 748.8L1679.5 745.7ZM1679.4 734.8L1679.5 706.8M1685 713.8L1679.5 706.8L1674 713.8L1679.5 710.7ZM1679.5 699.7L1679.4 671.7M1684.9 678.7L1679.4 671.7L1673.9 678.8L1679.4 675.6ZM1714.6 804.9L1714.6 776.9M1720.1 783.9L1714.6 776.9L1709.1 783.9L1714.6 780.8ZM1714.6 769.9L1714.6 741.9M1720.1 748.9L1714.6 741.9L1709.1 748.9L1714.6 745.7ZM1714.6 734.8L1714.6 706.8M1720.1 713.8L1714.6 706.8L1709.1 713.8L1714.6 710.7ZM1714.6 699.7L1714.5 671.7M1720.1 678.7L1714.5 671.7L1709.1 678.8L1714.5 675.6ZM1714.7 664.7L1714.4 636.7M1720 643.6L1714.4 636.7L1709 643.7L1714.5 640.5ZM1749.7 769.9L1749.7 741.9M1755.2 748.9L1749.7 741.9L1744.2 748.9L1749.7 745.7ZM1749.7 734.8L1749.7 706.8M1755.2 713.8L1749.7 706.8L1744.2 713.8L1749.7 710.7ZM1749.7 699.7L1749.6 671.7M1755.2 678.7L1749.6 671.7L1744.2 678.8L1749.6 675.6ZM1749.8 664.7L1749.5 636.7M1755.1 643.6L1749.5 636.7L1744.1 643.7L1749.6 640.5ZM1784.8 769.9L1784.8 741.9M1790.3 748.9L1784.8 741.9L1779.3 748.9L1784.8 745.7ZM1784.8 734.8L1784.8 706.8M1790.3 713.8L1784.8 706.8L1779.3 713.8L1784.8 710.7ZM1784.9 699.7L1784.7 671.7M1790.3 678.7L1784.7 671.7L1779.3 678.8L1784.7 675.6ZM1785 664.7L1784.6 636.7M1790.2 643.6L1784.6 636.7L1779.2 643.8L1784.6 640.5ZM1785.5 629.6L1784.1 601.6M1790 608.4L1784.1 601.6L1779 608.9L1784.3 605.5ZM1820 664.7L1819.8 636.7M1825.4 643.6L1819.8 636.7L1814.4 643.7L1819.8 640.5ZM1820.1 629.6L1819.7 601.6M1825.3 608.5L1819.7 601.6L1814.3 608.7L1819.7 605.5ZM1855.8 629.6L1854.2 601.7M1860.1 608.3L1854.2 601.7L1849.1 609L1854.4 605.5ZM1890.2 629.6L1890 601.6M1895.6 608.6L1890 601.6L1884.6 608.7L1890.1 605.5Z" fill="#000" fill-opacity=".7" stroke="#06061c" stroke-opacity=".92" stroke-width="1.2" stroke-linejoin="miter"/>
<path d="M1398.7 316.1L1398.4 284.1M1404.8 291.6L1398.4 284.1L1392.2 291.7L1398.5 288.2ZM1398.6 281L1398.6 249M1404.9 256.5L1398.6 249L1392.3 256.5L1398.6 253.2ZM1433.8 281L1433.6 249M1439.9 256.5L1433.6 249L1427.3 256.6L1433.6 253.2ZM1433.1 246L1434.2 214M1440.3 221.7L1434.2 214L1427.7 221.3L1434.1 218.1ZM1433.1 210.9L1434.3 178.9M1440.3 186.7L1434.3 178.9L1427.7 186.2L1434.1 183.1ZM1819.9 771.9L1819.9 739.9M1826.2 747.4L1819.9 739.9L1813.6 747.4L1819.9 744ZM1819.9 736.8L1819.9 704.8M1826.2 712.3L1819.9 704.8L1813.6 712.3L1819.9 708.9ZM1819.9 701.7L1819.9 669.7M1826.2 677.2L1819.9 669.7L1813.6 677.3L1819.9 673.9ZM1855.1 771.9L1855 739.9M1861.3 747.3L1855 739.9L1848.7 747.4L1855 744ZM1855 736.8L1855 704.8M1861.3 712.3L1855 704.8L1848.7 712.3L1855 708.9ZM1855.1 701.7L1854.9 669.7M1861.3 677.2L1854.9 669.7L1848.7 677.3L1854.9 673.9ZM1855.3 666.7L1854.7 634.7M1861.1 642.1L1854.7 634.7L1848.5 642.3L1854.8 638.8ZM1890.1 736.8L1890.1 704.8M1896.4 712.3L1890.1 704.8L1883.8 712.3L1890.1 708.9ZM1890.2 701.7L1890.1 669.7M1896.4 677.2L1890.1 669.7L1883.8 677.3L1890.1 673.9ZM1890.3 666.7L1890 634.7M1896.4 642.1L1890 634.7L1883.8 642.2L1890 638.8Z" fill="#000" fill-opacity=".7" stroke="#06061c" stroke-opacity=".92" stroke-width="1.3" stroke-linejoin="miter"/>
<rect x="1258" y="59.5" width="996.7" height="1040.6" fill="none" stroke="#000" stroke-width="2.6"/>
<path d="M1381 59.5v-11.5M1381 1100.1v11.5M1521.5 59.5v-11.5M1521.5 1100.1v11.5M1661.9 59.5v-11.5M1661.9 1100.1v11.5M1802.3 59.5v-11.5M1802.3 1100.1v11.5M1942.8 59.5v-11.5M1942.8 1100.1v11.5M2083.2 59.5v-11.5M2083.2 1100.1v11.5M2223.7 59.5v-11.5M2223.7 1100.1v11.5M1258 1018.8h-11.5M2254.7 1018.8h11.5M1258 878.6h-11.5M2254.7 878.6h11.5M1258 738.3h-11.5M2254.7 738.3h11.5M1258 598.1h-11.5M2254.7 598.1h11.5M1258 457.9h-11.5M2254.7 457.9h11.5M1258 317.6h-11.5M2254.7 317.6h11.5M1258 177.4h-11.5M2254.7 177.4h11.5" stroke="#000" stroke-width="2.2" fill="none"/>
<text class="tk" x="1381" y="41" text-anchor="middle">114°E</text>
<text class="tk" x="1381" y="1138.1" text-anchor="middle">114°E</text>
<text class="tk" x="1521.5" y="41" text-anchor="middle">115°E</text>
<text class="tk" x="1521.5" y="1138.1" text-anchor="middle">115°E</text>
<text class="tk" x="1661.9" y="41" text-anchor="middle">116°E</text>
<text class="tk" x="1661.9" y="1138.1" text-anchor="middle">116°E</text>
<text class="tk" x="1802.3" y="41" text-anchor="middle">117°E</text>
<text class="tk" x="1802.3" y="1138.1" text-anchor="middle">117°E</text>
<text class="tk" x="1942.8" y="41" text-anchor="middle">118°E</text>
<text class="tk" x="1942.8" y="1138.1" text-anchor="middle">118°E</text>
<text class="tk" x="2083.2" y="41" text-anchor="middle">119°E</text>
<text class="tk" x="2083.2" y="1138.1" text-anchor="middle">119°E</text>
<text class="tk" x="2223.7" y="41" text-anchor="middle">120°E</text>
<text class="tk" x="2223.7" y="1138.1" text-anchor="middle">120°E</text>
<text class="tk" x="1245" y="1028.3" text-anchor="end">36°N</text>
<text class="tk" x="2267.2" y="1028.3">36°N</text>
<text class="tk" x="1245" y="888.1" text-anchor="end">37°N</text>
<text class="tk" x="2267.2" y="888.1">37°N</text>
<text class="tk" x="1245" y="747.8" text-anchor="end">38°N</text>
<text class="tk" x="2267.2" y="747.8">38°N</text>
<text class="tk" x="1245" y="607.6" text-anchor="end">39°N</text>
<text class="tk" x="2267.2" y="607.6">39°N</text>
<text class="tk" x="1245" y="467.4" text-anchor="end">40°N</text>
<text class="tk" x="2267.2" y="467.4">40°N</text>
<text class="tk" x="1245" y="327.1" text-anchor="end">41°N</text>
<text class="tk" x="2267.2" y="327.1">41°N</text>
<text class="tk" x="1245" y="186.9" text-anchor="end">42°N</text>
<text class="tk" x="2267.2" y="186.9">42°N</text>
<text class="n" x="2159.4" y="108" text-anchor="middle">N</text>
<path d="M2159.4 118.6L2127.4 226L2159.4 184Z" fill="#000"/>
<path d="M2159.7 124.6L2189.4 222.5L2159.7 184Z" fill="#fff" stroke="#000" stroke-width="2.4" stroke-linejoin="miter"/>
<rect x="1295.5" y="1056" width="326.2" height="12.6" fill="#fff" stroke="#000" stroke-width="1.5"/>
<rect x="1295.5" y="1056" width="20.4" height="12.6" fill="#000"/>
<rect x="1336.3" y="1056" width="20.4" height="12.6" fill="#000"/>
<rect x="1377" y="1056" width="81.6" height="12.6" fill="#000"/>
<rect x="1540.2" y="1056" width="81.6" height="12.6" fill="#000"/>
<text class="sb" x="1295.5" y="1042" text-anchor="middle">0</text>
<text class="sb" x="1336.3" y="1042" text-anchor="middle">20</text>
<text class="sb" x="1377" y="1042" text-anchor="middle">40</text>
<text class="sb" x="1458.6" y="1042" text-anchor="middle">80</text>
<text class="sb" x="1540.2" y="1042" text-anchor="middle">120</text>
<text class="sb" x="1621.7" y="1042" text-anchor="middle">160</text>
<text class="sb" x="1628.2" y="1068.1">Miles</text>
<text class="lh" x="1968.3" y="689.3" textLength="203.4" lengthAdjust="spacingAndGlyphs">Wind Speed(m/s)</text>
<text class="lg" x="2033.4" y="737" textLength="119.8" lengthAdjust="spacingAndGlyphs">0.02 - 0.73</text>
<path d="M1995 737v-19.5M1992 722l3 -4.5l3 4.5" fill="none" stroke="#000" stroke-width="1.2"/>
<text class="lg" x="2033.4" y="778.7" textLength="108.9" lengthAdjust="spacingAndGlyphs">0.74- 1.29</text>
<path d="M1995 780.7v-23.6M1990.7 763.1l4.3 -6l4.3 6" fill="none" stroke="#000" stroke-width="1.5"/>
<text class="lg" x="2033.4" y="820.8" textLength="119.8" lengthAdjust="spacingAndGlyphs">1.30 - 2.08</text>
<path d="M1995 823.3v-25.7M1989.5 805.1l5.5 -7.5l5.5 7.5" fill="none" stroke="#000" stroke-width="1.7"/>
<text class="lg" x="2033.4" y="863" textLength="119.8" lengthAdjust="spacingAndGlyphs">2.09 - 2.97</text>
<path d="M1995 867v-29.8M1988.2 846.2l6.8 -9l6.8 9" fill="none" stroke="#000" stroke-width="1.9"/>
<text class="lg" x="2033.4" y="906" textLength="119.8" lengthAdjust="spacingAndGlyphs">2.98 - 5.28</text>
<path d="M1995 914v-35M1986.8 889.5l8.2 -10.5l8.2 10.5" fill="none" stroke="#000" stroke-width="2.1"/>
<text class="lh" x="1968.3" y="957.4" textLength="266.1" lengthAdjust="spacingAndGlyphs">Relative Humidity(%)</text>
<rect x="1966.8" y="987.2" width="52.2" height="53.4" fill="url(#lgd)"/>
<text x="2033.4" y="997.5" style="font:26px 'Liberation Serif',serif" textLength="138.3" lengthAdjust="spacingAndGlyphs">High : 99.18</text>
<text x="2033.4" y="1053" style="font:26px 'Liberation Serif',serif" textLength="134.2" lengthAdjust="spacingAndGlyphs">Low : 63.35</text>
<text class="cap" y="1266"><tspan x="1431.3" textLength="86.3" lengthAdjust="spacingAndGlyphs">(b)</tspan> <tspan x="1539.7" textLength="264.6" lengthAdjust="spacingAndGlyphs">October</tspan> <tspan x="1834" textLength="88.5" lengthAdjust="spacingAndGlyphs">19,</tspan> <tspan x="1944.6" textLength="150.4" lengthAdjust="spacingAndGlyphs">2019</tspan></text>
</g>
<g id="panel-c">
<clipPath id="cpc"><path d="M293.1 1505.4L333.4 1501.4L339.9 1507.7L343.5 1521L355.5 1527.6L353.5 1543.1L346.5 1556.1L355.5 1563.1L355.5 1574.2L377.7 1576.2L401.8 1574.2L408.5 1565.1L426 1556.1L446.1 1545.1L475.3 1532L490.9 1528L496.4 1536.5L503.2 1552.1L515.5 1552.1L519.6 1543.1L533.2 1534L544.3 1523L555.5 1522L564.4 1527.6L577.9 1528.7L586.6 1530L602.1 1527.6L615.6 1521L624.2 1520L624.2 1502.9L613.2 1494.3L626.7 1491.9L629 1471.8L633.3 1464.4L646.8 1457.8L664.5 1454.4L697.7 1456.8L699.1 1445.6L713.5 1439.7L749 1436.7L762.5 1443.4L769.1 1454.4L780.2 1463.3L789.3 1480.9L784.7 1487.9L793.7 1498.9L804.4 1514L815.4 1512L825.5 1519L826.5 1534L831 1541.1L824.5 1552.1L817.4 1554.1L806.4 1565.1L826.5 1585.2L825.5 1598.6L833.3 1616.3L840 1617.3L871.2 1613.3L893.4 1614.3L898 1610.9L909 1618.3L929.2 1620.8L955.7 1618.3L958 1625.3L949.1 1634.3L937.9 1643.1L929.2 1651.9L915.7 1654.4L917.9 1660.4L925.7 1663L920.1 1669.5L911 1674.1L906.8 1685.2L909 1696.3L922.1 1702.6L935.7 1711.6L946.9 1720.6L962.4 1728.6L999.6 1726.6L1005.6 1734.7L1005.6 1745.7L1012.3 1758.7L1018.7 1772.2L1029.8 1776.8L1032.3 1789.8L1041.3 1798.9L1043.5 1807.9L1034.6 1807.9L1016.7 1811.9L1001.2 1816.6L996.6 1830L985.5 1832L974.4 1841L967.8 1858.7L963.4 1872.1L965.4 1883.1L954.3 1894.2L943.2 1900.9L930 1912L914.4 1920.9L898.8 1925.2L878.8 1923.2L865.4 1929.8L860.7 1938.7L867.6 1945.3L858.7 1954.1L852 1953L843.1 1947.3L831.9 1943.1L820.9 1940.9L811.9 1932L805.3 1923.1L798.3 1916.2L787.3 1910.9L772.8 1919.2L761.6 1932.9L763.8 1944L770.6 1950.3L763.8 1957.3L748 1964L736.9 1970.4L746 1975L746 1986.1L734.9 1988.4L732.7 2006.1L739.4 2015L748 2026.1L759.4 2030.6L775 2028.3L772.8 2037.2L761.6 2045.6L750.5 2059.4L739.4 2070.5L723.9 2074.7L717.1 2085.7L710.4 2096.8L701.5 2103.8L674.5 2103.8L625.8 2103.8L616.9 2105.8L608.1 2116.8L594.6 2127.9L583.5 2136.9L567.9 2147.9L561.2 2153.7L552.4 2145.9L545.7 2143.7L541.2 2152.6L534.6 2157L539 2163.7L525.6 2168L507.8 2173.7L496.4 2179L498.9 2185.9L492.2 2194.8L481.1 2210.1L470 2225.8L458.8 2243.2L449.5 2249.9L431.7 2261L415.9 2272.1L404.9 2287.4L402.8 2296.4L409.5 2307.4L420.7 2318.5L429.5 2327.5L427.3 2338.5L415.9 2347.6L404.9 2347.6L396.1 2338.5L384.7 2336.5L369.4 2345.3L362.6 2350.6L351.5 2353.1L342.5 2343L327.2 2343L309.2 2343L296 2336.5L280.1 2329.5L262.6 2325.3L244.8 2323.1L229.1 2318.5L215.7 2312L193.5 2309.4L182.5 2305.4L166.9 2296.4L157.9 2287.4L160.1 2280.9L149 2269.8L146.7 2261L164.3 2256.3L175.7 2249.9L177.9 2241L189.1 2234.2L191.3 2225.2L189.1 2207.7L195.5 2196.6L206.6 2183L213.6 2170L224.7 2154.5L235.8 2138.9L233.6 2129.9L222.5 2118.8L217.7 2105.6L213.6 2089.8L206.6 2078.7L200.2 2067.4L189 2058.5L173.4 2051.6L162.3 2045.2L155.6 2031.6L160 2020.5L160 2009.5L164.3 2000.5L173.4 1989.4L184.5 1983L195.5 1974.2L200.2 1963.1L189 1956.3L191.2 1945.3L206.6 1934.3L220.2 1925.2L229 1925.2L240.2 1934.3L255.8 1932L271.4 1927.3L273.6 1916.2L286.9 1914.2L282.5 1907.2L284.7 1896.2L289.1 1883.1L295.9 1869.9L295.9 1859.8L281.4 1854L280.1 1836.6L280.1 1820.9L269 1825.4L255.8 1820.9L246.9 1813.3L231.3 1811.9L224.7 1803.3L209 1798.9L215.7 1793.3L224.7 1789.8L231.3 1776.8L242.4 1776.8L255.8 1770.8L273.6 1767.8L289.1 1761.1L293.7 1754.4L278.1 1748.7L264.7 1745.7L260.2 1734.7L251.3 1716.6L237.5 1698.5L228.7 1685.5L217.7 1667.5L204.1 1654.4L196.5 1648.4L204.1 1640.9L219.7 1629.3L209.6 1619.8L212.6 1609.8L204.1 1602.2L226.4 1588.7L250.9 1588.7L254.9 1583.2L252.9 1565.1L249.9 1552.1L269 1529L286.1 1521Z"/></clipPath>
<g clip-path="url(#cpc)"><g filter="url(#ramp)">
<g filter="url(#gb)">
<rect x="116.3" y="1416.2" width="71.1" height="71" fill="rgb(5,5,5)"/>
<rect x="186.4" y="1416.2" width="211.4" height="71" fill="rgb(10,10,10)"/>
<rect x="396.9" y="1416.2" width="71.1" height="71" fill="rgb(19,19,19)"/>
<rect x="467" y="1416.2" width="71.1" height="71" fill="rgb(32,32,32)"/>
<rect x="537.1" y="1416.2" width="71.1" height="71" fill="rgb(51,51,51)"/>
<rect x="607.3" y="1416.2" width="71.1" height="71" fill="rgb(70,70,70)"/>
<rect x="677.4" y="1416.2" width="71.1" height="71" fill="rgb(96,96,96)"/>
<rect x="747.6" y="1416.2" width="71.1" height="71" fill="rgb(80,80,80)"/>
<rect x="817.7" y="1416.2" width="71.1" height="71" fill="rgb(59,59,59)"/>
<rect x="887.8" y="1416.2" width="141.3" height="71" fill="rgb(38,38,38)"/>
<rect x="1028.1" y="1416.2" width="71.1" height="71" fill="rgb(24,24,24)"/>
<rect x="116.3" y="1486.2" width="71.1" height="71" fill="rgb(0,0,0)"/>
<rect x="186.4" y="1486.2" width="71.1" height="71" fill="rgb(5,5,5)"/>
<rect x="256.6" y="1486.2" width="141.3" height="71" fill="rgb(10,10,10)"/>
<rect x="396.9" y="1486.2" width="71.1" height="71" fill="rgb(16,16,16)"/>
<rect x="467" y="1486.2" width="71.1" height="71" fill="rgb(24,24,24)"/>
<rect x="537.1" y="1486.2" width="71.1" height="71" fill="rgb(32,32,32)"/>
<rect x="607.3" y="1486.2" width="71.1" height="71" fill="rgb(48,48,48)"/>
<rect x="677.4" y="1486.2" width="71.1" height="71" fill="rgb(57,57,57)"/>
<rect x="747.6" y="1486.2" width="71.1" height="71" fill="rgb(48,48,48)"/>
<rect x="817.7" y="1486.2" width="141.3" height="71" fill="rgb(38,38,38)"/>
<rect x="958" y="1486.2" width="71.1" height="71" fill="rgb(24,24,24)"/>
<rect x="1028.1" y="1486.2" width="71.1" height="71" fill="rgb(10,10,10)"/>
<rect x="116.3" y="1556.2" width="211.4" height="71" fill="rgb(0,0,0)"/>
<rect x="326.7" y="1556.2" width="71.1" height="71" fill="rgb(10,10,10)"/>
<rect x="396.9" y="1556.2" width="141.3" height="71" fill="rgb(16,16,16)"/>
<rect x="537.1" y="1556.2" width="141.3" height="71" fill="rgb(32,32,32)"/>
<rect x="677.4" y="1556.2" width="71.1" height="71" fill="rgb(38,38,38)"/>
<rect x="747.6" y="1556.2" width="71.1" height="71" fill="rgb(32,32,32)"/>
<rect x="817.7" y="1556.2" width="71.1" height="71" fill="rgb(34,34,34)"/>
<rect x="887.8" y="1556.2" width="141.3" height="71" fill="rgb(10,10,10)"/>
<rect x="1028.1" y="1556.2" width="71.1" height="71" fill="rgb(45,45,45)"/>
<rect x="116.3" y="1626.2" width="141.3" height="71" fill="rgb(10,10,10)"/>
<rect x="256.6" y="1626.2" width="141.3" height="71" fill="rgb(6,6,6)"/>
<rect x="396.9" y="1626.2" width="71.1" height="71" fill="rgb(16,16,16)"/>
<rect x="467" y="1626.2" width="71.1" height="71" fill="rgb(32,32,32)"/>
<rect x="537.1" y="1626.2" width="141.3" height="71" fill="rgb(38,38,38)"/>
<rect x="677.4" y="1626.2" width="211.4" height="71" fill="rgb(32,32,32)"/>
<rect x="887.8" y="1626.2" width="71.1" height="71" fill="rgb(10,10,10)"/>
<rect x="958" y="1626.2" width="71.1" height="71" fill="rgb(45,45,45)"/>
<rect x="1028.1" y="1626.2" width="71.1" height="71" fill="rgb(80,80,80)"/>
<rect x="116.3" y="1696.2" width="71.1" height="71" fill="rgb(21,21,21)"/>
<rect x="186.4" y="1696.2" width="71.1" height="71" fill="rgb(16,16,16)"/>
<rect x="256.6" y="1696.2" width="71.1" height="71" fill="rgb(6,6,6)"/>
<rect x="326.7" y="1696.2" width="71.1" height="71" fill="rgb(0,0,0)"/>
<rect x="396.9" y="1696.2" width="71.1" height="71" fill="rgb(16,16,16)"/>
<rect x="467" y="1696.2" width="141.3" height="71" fill="rgb(32,32,32)"/>
<rect x="607.3" y="1696.2" width="71.1" height="71" fill="rgb(38,38,38)"/>
<rect x="677.4" y="1696.2" width="71.1" height="71" fill="rgb(0,0,0)"/>
<rect x="747.6" y="1696.2" width="71.1" height="71" fill="rgb(32,32,32)"/>
<rect x="817.7" y="1696.2" width="71.1" height="71" fill="rgb(38,38,38)"/>
<rect x="887.8" y="1696.2" width="71.1" height="71" fill="rgb(48,48,48)"/>
<rect x="958" y="1696.2" width="71.1" height="71" fill="rgb(80,80,80)"/>
<rect x="1028.1" y="1696.2" width="71.1" height="71" fill="rgb(143,143,143)"/>
<rect x="116.3" y="1766.2" width="211.4" height="71" fill="rgb(32,32,32)"/>
<rect x="326.7" y="1766.2" width="141.3" height="71" fill="rgb(26,26,26)"/>
<rect x="467" y="1766.2" width="71.1" height="71" fill="rgb(16,16,16)"/>
<rect x="537.1" y="1766.2" width="71.1" height="71" fill="rgb(48,48,48)"/>
<rect x="607.3" y="1766.2" width="71.1" height="71" fill="rgb(153,153,153)"/>
<rect x="677.4" y="1766.2" width="71.1" height="71" fill="rgb(128,128,128)"/>
<rect x="747.6" y="1766.2" width="71.1" height="71" fill="rgb(207,207,207)"/>
<rect x="817.7" y="1766.2" width="211.4" height="71" fill="rgb(223,223,223)"/>
<rect x="1028.1" y="1766.2" width="71.1" height="71" fill="rgb(207,207,207)"/>
<rect x="116.3" y="1836.2" width="71.1" height="71" fill="rgb(16,16,16)"/>
<rect x="186.4" y="1836.2" width="71.1" height="71" fill="rgb(35,35,35)"/>
<rect x="256.6" y="1836.2" width="71.1" height="71" fill="rgb(48,48,48)"/>
<rect x="326.7" y="1836.2" width="71.1" height="71" fill="rgb(57,57,57)"/>
<rect x="396.9" y="1836.2" width="71.1" height="71" fill="rgb(64,64,64)"/>
<rect x="467" y="1836.2" width="71.1" height="71" fill="rgb(89,89,89)"/>
<rect x="537.1" y="1836.2" width="71.1" height="71" fill="rgb(143,143,143)"/>
<rect x="607.3" y="1836.2" width="71.1" height="71" fill="rgb(217,217,217)"/>
<rect x="677.4" y="1836.2" width="71.1" height="71" fill="rgb(223,223,223)"/>
<rect x="747.6" y="1836.2" width="71.1" height="71" fill="rgb(233,233,233)"/>
<rect x="817.7" y="1836.2" width="141.3" height="71" fill="rgb(242,242,242)"/>
<rect x="958" y="1836.2" width="71.1" height="71" fill="rgb(239,239,239)"/>
<rect x="1028.1" y="1836.2" width="71.1" height="71" fill="rgb(223,223,223)"/>
<rect x="116.3" y="1906.2" width="71.1" height="71" fill="rgb(16,16,16)"/>
<rect x="186.4" y="1906.2" width="71.1" height="71" fill="rgb(26,26,26)"/>
<rect x="256.6" y="1906.2" width="71.1" height="71" fill="rgb(48,48,48)"/>
<rect x="326.7" y="1906.2" width="71.1" height="71" fill="rgb(112,112,112)"/>
<rect x="396.9" y="1906.2" width="71.1" height="71" fill="rgb(207,207,207)"/>
<rect x="467" y="1906.2" width="141.3" height="71" fill="rgb(230,230,230)"/>
<rect x="607.3" y="1906.2" width="141.3" height="71" fill="rgb(223,223,223)"/>
<rect x="747.6" y="1906.2" width="71.1" height="71" fill="rgb(239,239,239)"/>
<rect x="817.7" y="1906.2" width="71.1" height="71" fill="rgb(255,255,255)"/>
<rect x="887.8" y="1906.2" width="71.1" height="71" fill="rgb(249,249,249)"/>
<rect x="958" y="1906.2" width="141.3" height="71" fill="rgb(239,239,239)"/>
<rect x="116.3" y="1976.3" width="71.1" height="71" fill="rgb(16,16,16)"/>
<rect x="186.4" y="1976.3" width="71.1" height="71" fill="rgb(48,48,48)"/>
<rect x="256.6" y="1976.3" width="71.1" height="71" fill="rgb(96,96,96)"/>
<rect x="326.7" y="1976.3" width="71.1" height="71" fill="rgb(207,207,207)"/>
<rect x="396.9" y="1976.3" width="71.1" height="71" fill="rgb(255,255,255)"/>
<rect x="467" y="1976.3" width="71.1" height="71" fill="rgb(239,239,239)"/>
<rect x="537.1" y="1976.3" width="281.6" height="71" fill="rgb(223,223,223)"/>
<rect x="817.7" y="1976.3" width="71.1" height="71" fill="rgb(239,239,239)"/>
<rect x="887.8" y="1976.3" width="71.1" height="71" fill="rgb(255,255,255)"/>
<rect x="958" y="1976.3" width="71.1" height="71" fill="rgb(247,247,247)"/>
<rect x="1028.1" y="1976.3" width="71.1" height="71" fill="rgb(239,239,239)"/>
<rect x="116.3" y="2046.3" width="71.1" height="71" fill="rgb(32,32,32)"/>
<rect x="186.4" y="2046.3" width="71.1" height="71" fill="rgb(48,48,48)"/>
<rect x="256.6" y="2046.3" width="71.1" height="71" fill="rgb(128,128,128)"/>
<rect x="326.7" y="2046.3" width="71.1" height="71" fill="rgb(223,223,223)"/>
<rect x="396.9" y="2046.3" width="71.1" height="71" fill="rgb(255,255,255)"/>
<rect x="467" y="2046.3" width="141.3" height="71" fill="rgb(239,239,239)"/>
<rect x="607.3" y="2046.3" width="281.6" height="71" fill="rgb(223,223,223)"/>
<rect x="887.8" y="2046.3" width="71.1" height="71" fill="rgb(239,239,239)"/>
<rect x="958" y="2046.3" width="71.1" height="71" fill="rgb(255,255,255)"/>
<rect x="1028.1" y="2046.3" width="71.1" height="71" fill="rgb(247,247,247)"/>
<rect x="116.3" y="2116.3" width="71.1" height="71" fill="rgb(56,56,56)"/>
<rect x="186.4" y="2116.3" width="71.1" height="71" fill="rgb(48,48,48)"/>
<rect x="256.6" y="2116.3" width="71.1" height="71" fill="rgb(128,128,128)"/>
<rect x="326.7" y="2116.3" width="281.6" height="71" fill="rgb(239,239,239)"/>
<rect x="607.3" y="2116.3" width="71.1" height="71" fill="rgb(231,231,231)"/>
<rect x="677.4" y="2116.3" width="281.6" height="71" fill="rgb(223,223,223)"/>
<rect x="958" y="2116.3" width="71.1" height="71" fill="rgb(239,239,239)"/>
<rect x="1028.1" y="2116.3" width="71.1" height="71" fill="rgb(255,255,255)"/>
<rect x="116.3" y="2186.3" width="71.1" height="71" fill="rgb(64,64,64)"/>
<rect x="186.4" y="2186.3" width="71.1" height="71" fill="rgb(80,80,80)"/>
<rect x="256.6" y="2186.3" width="71.1" height="71" fill="rgb(143,143,143)"/>
<rect x="326.7" y="2186.3" width="351.7" height="71" fill="rgb(239,239,239)"/>
<rect x="677.4" y="2186.3" width="71.1" height="71" fill="rgb(231,231,231)"/>
<rect x="747.6" y="2186.3" width="281.6" height="71" fill="rgb(223,223,223)"/>
<rect x="1028.1" y="2186.3" width="71.1" height="71" fill="rgb(239,239,239)"/>
<rect x="116.3" y="2256.3" width="141.3" height="71" fill="rgb(128,128,128)"/>
<rect x="256.6" y="2256.3" width="71.1" height="71" fill="rgb(175,175,175)"/>
<rect x="326.7" y="2256.3" width="71.1" height="71" fill="rgb(239,239,239)"/>
<rect x="396.9" y="2256.3" width="71.1" height="71" fill="rgb(223,223,223)"/>
<rect x="467" y="2256.3" width="71.1" height="71" fill="rgb(231,231,231)"/>
<rect x="537.1" y="2256.3" width="211.4" height="71" fill="rgb(239,239,239)"/>
<rect x="747.6" y="2256.3" width="71.1" height="71" fill="rgb(231,231,231)"/>
<rect x="817.7" y="2256.3" width="281.6" height="71" fill="rgb(223,223,223)"/>
<rect x="116.3" y="2326.3" width="71.1" height="71" fill="rgb(128,128,128)"/>
<rect x="186.4" y="2326.3" width="71.1" height="71" fill="rgb(159,159,159)"/>
<rect x="256.6" y="2326.3" width="71.1" height="71" fill="rgb(191,191,191)"/>
<rect x="326.7" y="2326.3" width="211.4" height="71" fill="rgb(223,223,223)"/>
<rect x="537.1" y="2326.3" width="71.1" height="71" fill="rgb(231,231,231)"/>
<rect x="607.3" y="2326.3" width="211.4" height="71" fill="rgb(239,239,239)"/>
<rect x="817.7" y="2326.3" width="71.1" height="71" fill="rgb(231,231,231)"/>
<rect x="887.8" y="2326.3" width="211.4" height="71" fill="rgb(223,223,223)"/>
</g>
<ellipse cx="403" cy="2045.4" rx="87.7" ry="87.5" fill="url(#g20)" opacity="0.9"/>
<ellipse cx="853.3" cy="1927.7" rx="70.1" ry="61.3" fill="url(#g20)" opacity="0.8"/>
<ellipse cx="324.4" cy="1720.5" rx="87.7" ry="61.3" fill="url(#g0)" opacity="0.8"/>
<ellipse cx="488.5" cy="1818.5" rx="70.1" ry="49" fill="url(#g0)" opacity="0.8"/>
</g></g>
<path d="M293.1 1505.4L333.4 1501.4L339.9 1507.7L343.5 1521L355.5 1527.6L353.5 1543.1L346.5 1556.1L355.5 1563.1L355.5 1574.2L377.7 1576.2L401.8 1574.2L408.5 1565.1L426 1556.1L446.1 1545.1L475.3 1532L490.9 1528L496.4 1536.5L503.2 1552.1L515.5 1552.1L519.6 1543.1L533.2 1534L544.3 1523L555.5 1522L564.4 1527.6L577.9 1528.7L586.6 1530L602.1 1527.6L615.6 1521L624.2 1520L624.2 1502.9L613.2 1494.3L626.7 1491.9L629 1471.8L633.3 1464.4L646.8 1457.8L664.5 1454.4L697.7 1456.8L699.1 1445.6L713.5 1439.7L749 1436.7L762.5 1443.4L769.1 1454.4L780.2 1463.3L789.3 1480.9L784.7 1487.9L793.7 1498.9L804.4 1514L815.4 1512L825.5 1519L826.5 1534L831 1541.1L824.5 1552.1L817.4 1554.1L806.4 1565.1L826.5 1585.2L825.5 1598.6L833.3 1616.3L840 1617.3L871.2 1613.3L893.4 1614.3L898 1610.9L909 1618.3L929.2 1620.8L955.7 1618.3L958 1625.3L949.1 1634.3L937.9 1643.1L929.2 1651.9L915.7 1654.4L917.9 1660.4L925.7 1663L920.1 1669.5L911 1674.1L906.8 1685.2L909 1696.3L922.1 1702.6L935.7 1711.6L946.9 1720.6L962.4 1728.6L999.6 1726.6L1005.6 1734.7L1005.6 1745.7L1012.3 1758.7L1018.7 1772.2L1029.8 1776.8L1032.3 1789.8L1041.3 1798.9L1043.5 1807.9L1034.6 1807.9L1016.7 1811.9L1001.2 1816.6L996.6 1830L985.5 1832L974.4 1841L967.8 1858.7L963.4 1872.1L965.4 1883.1L954.3 1894.2L943.2 1900.9L930 1912L914.4 1920.9L898.8 1925.2L878.8 1923.2L865.4 1929.8L860.7 1938.7L867.6 1945.3L858.7 1954.1L852 1953L843.1 1947.3L831.9 1943.1L820.9 1940.9L811.9 1932L805.3 1923.1L798.3 1916.2L787.3 1910.9L772.8 1919.2L761.6 1932.9L763.8 1944L770.6 1950.3L763.8 1957.3L748 1964L736.9 1970.4L746 1975L746 1986.1L734.9 1988.4L732.7 2006.1L739.4 2015L748 2026.1L759.4 2030.6L775 2028.3L772.8 2037.2L761.6 2045.6L750.5 2059.4L739.4 2070.5L723.9 2074.7L717.1 2085.7L710.4 2096.8L701.5 2103.8L674.5 2103.8L625.8 2103.8L616.9 2105.8L608.1 2116.8L594.6 2127.9L583.5 2136.9L567.9 2147.9L561.2 2153.7L552.4 2145.9L545.7 2143.7L541.2 2152.6L534.6 2157L539 2163.7L525.6 2168L507.8 2173.7L496.4 2179L498.9 2185.9L492.2 2194.8L481.1 2210.1L470 2225.8L458.8 2243.2L449.5 2249.9L431.7 2261L415.9 2272.1L404.9 2287.4L402.8 2296.4L409.5 2307.4L420.7 2318.5L429.5 2327.5L427.3 2338.5L415.9 2347.6L404.9 2347.6L396.1 2338.5L384.7 2336.5L369.4 2345.3L362.6 2350.6L351.5 2353.1L342.5 2343L327.2 2343L309.2 2343L296 2336.5L280.1 2329.5L262.6 2325.3L244.8 2323.1L229.1 2318.5L215.7 2312L193.5 2309.4L182.5 2305.4L166.9 2296.4L157.9 2287.4L160.1 2280.9L149 2269.8L146.7 2261L164.3 2256.3L175.7 2249.9L177.9 2241L189.1 2234.2L191.3 2225.2L189.1 2207.7L195.5 2196.6L206.6 2183L213.6 2170L224.7 2154.5L235.8 2138.9L233.6 2129.9L222.5 2118.8L217.7 2105.6L213.6 2089.8L206.6 2078.7L200.2 2067.4L189 2058.5L173.4 2051.6L162.3 2045.2L155.6 2031.6L160 2020.5L160 2009.5L164.3 2000.5L173.4 1989.4L184.5 1983L195.5 1974.2L200.2 1963.1L189 1956.3L191.2 1945.3L206.6 1934.3L220.2 1925.2L229 1925.2L240.2 1934.3L255.8 1932L271.4 1927.3L273.6 1916.2L286.9 1914.2L282.5 1907.2L284.7 1896.2L289.1 1883.1L295.9 1869.9L295.9 1859.8L281.4 1854L280.1 1836.6L280.1 1820.9L269 1825.4L255.8 1820.9L246.9 1813.3L231.3 1811.9L224.7 1803.3L209 1798.9L215.7 1793.3L224.7 1789.8L231.3 1776.8L242.4 1776.8L255.8 1770.8L273.6 1767.8L289.1 1761.1L293.7 1754.4L278.1 1748.7L264.7 1745.7L260.2 1734.7L251.3 1716.6L237.5 1698.5L228.7 1685.5L217.7 1667.5L204.1 1654.4L196.5 1648.4L204.1 1640.9L219.7 1629.3L209.6 1619.8L212.6 1609.8L204.1 1602.2L226.4 1588.7L250.9 1588.7L254.9 1583.2L252.9 1565.1L249.9 1552.1L269 1529L286.1 1521Z" fill="none" stroke="#5a4a4a" stroke-width="1" stroke-opacity=".75" stroke-linejoin="round"/>
<path d="M590.5 1655.4L597.2 1664.2L601.6 1670.9L610.4 1677.5L621.5 1686.4L628.1 1693L634.8 1701.8L643.6 1706.3L665.7 1706.3L687.8 1707.4L705.5 1708.5L714.4 1710.7L698.9 1715.1L698.9 1719.5L685.6 1723.9L676.8 1726.2L674.6 1735L676.8 1743.9L679 1754.9L685.6 1761.5L694.5 1768.2L698.9 1772.6L694.5 1779.2L685.6 1781.4L674.6 1788.1L665.7 1792.5L654.7 1792.5L639.2 1796.9L625.9 1794.7L614.9 1796.9L610.4 1803.6L610.4 1814.6L617.1 1821.3L628.1 1825.7L632.6 1832.3L630.3 1839L634.8 1845.6L628.1 1850L617.1 1856.6L601.6 1856.6L588.3 1855.5L581.7 1858.9L575.1 1865.5L566.2 1869.9L557.4 1872.1L553 1876.5L544.1 1874.3L537.5 1867.7L535.3 1861.1L522 1860L499.9 1860L486.6 1863.3L482.2 1867.7L473.3 1869.9L464.5 1865.5L455.7 1858.9L446.8 1856.6L433.5 1854.4L429.1 1845.6L424.7 1834.5L429.1 1830.1L433.5 1821.3L426.9 1812.4L422.5 1805.8L424.7 1799.1L433.5 1792.5L444.6 1788.1L455.7 1783.7L468.9 1781.4L477.8 1779.2L484.4 1772.6L493.2 1766L495.5 1759.3L488.8 1752.7L482.2 1743.9L473.3 1739.4L466.7 1732.8L468.9 1723.9L477.8 1721.7L488.8 1715.1L504.3 1717.3L515.4 1712.9L526.4 1704L535.3 1697.4L548.5 1693L557.4 1690.8L566.2 1688.6L561.8 1679.7L553 1675.3L557.4 1668.7L570.6 1664.2L583.9 1662L590.5 1655.4" fill="none" stroke="#c8463c" stroke-width="1.1" stroke-opacity=".75" stroke-linejoin="round"/>
<path d="M698.9 1772.6L710 1770.4L721 1772.6L729.9 1779.2L738.7 1785.9L749.8 1792.5L752 1801.4L743.1 1803.6L725.4 1803.6L716.6 1805.8L714.4 1814.6L718.8 1825.7L721 1836.7L727.6 1845.6L734.3 1854.4L740.9 1863.3L749.8 1865.5L769.7 1863.3L769.7 1874.3L765.2 1885.4L763 1894.2L774.1 1900.9L789.1 1905.3L787.3 1910.9" fill="none" stroke="#c8463c" stroke-width="1.1" stroke-opacity=".75" stroke-linejoin="round"/>
<path d="M665.7 1792.5L663.5 1803.6L665.7 1814.6L665.7 1825.7L665.7 1836.7L663.5 1854.4L650.2 1855.5L634.8 1845.6" fill="none" stroke="#c8463c" stroke-width="1.1" stroke-opacity=".75" stroke-linejoin="round"/>
<path d="M617.1 1856.6L612.7 1865.5L617.1 1876.5L619.3 1887.6L623.7 1900.9L628 1906.2L625.8 1917.3L612.5 1928.4L605.8 1943.9L603.5 1961.7L608 1970.6L625.8 1977.2L648.1 1983.9L652.5 1990.5L657 1999.4L674.8 1997.2L679.2 2001.6L692.6 2003.8L708.2 1996.1L730.5 1995L737.1 2006.1" fill="none" stroke="#c8463c" stroke-width="1.1" stroke-opacity=".75" stroke-linejoin="round"/>
<path d="M200.2 2268.7L208.7 2279.9M204.1 2278.4L208.7 2279.9L208.5 2275L207.4 2278.1ZM408.5 1927L421.3 1921.5M418.8 1925.6L421.3 1921.5L416.5 1920.5L419.3 1922.3ZM453.8 2058.4L446.1 2070.1M446 2065.2L446.1 2070.1L450.7 2068.3L447.3 2068.3ZM450.9 1931.2L449 1917.3M452.3 1920.9L449 1917.3L446.8 1921.7L449.3 1919.5ZM558.7 1895.3L551.6 1883.2M556.1 1885.2L551.6 1883.2L551.2 1888.1L552.7 1885.1ZM588.9 1882.4L591.6 1896.1M588.1 1892.7L591.6 1896.1L593.6 1891.6L591.2 1893.9ZM585.4 1814.2L595.1 1824.3M590.3 1823.3L595.1 1824.3L594.3 1819.5L593.5 1822.7ZM583.3 1784.5L597.2 1783.9M593.4 1786.9L597.2 1783.9L593.1 1781.3L595 1784ZM619.4 1892.9L631.3 1885.6M629.3 1890L631.3 1885.6L626.4 1885.3L629.4 1886.7ZM618.4 1855L632.3 1853.5M628.6 1856.7L632.3 1853.5L628 1851.1L630.1 1853.7ZM618.4 1820.5L632.2 1818M628.8 1821.5L632.2 1818L627.8 1815.9L630 1818.4ZM618.9 1787.1L631.7 1781.4M629.2 1785.6L631.7 1781.4L626.9 1780.4L629.7 1782.3Z" fill="#000" fill-opacity=".7" stroke="#06061c" stroke-opacity=".92" stroke-width="0.9" stroke-linejoin="miter"/>
<path d="M159.4 2274.1L179.4 2274.5M174.3 2278L179.4 2274.5L174.5 2270.8L176.6 2274.4ZM213.8 2235.7L195.1 2242.9M198.5 2237.7L195.1 2242.9L201.1 2244.4L197.7 2241.9ZM214.3 2202.7L194.6 2205.9M198.9 2201.5L194.6 2205.9L200.1 2208.6L197.3 2205.5ZM230.5 2305.1L248.6 2313.5M242.6 2314.7L248.6 2313.5L245.6 2308.1L246.1 2312.3ZM232.3 2267.4L246.8 2281.2M240.7 2280.3L246.8 2281.2L245.6 2275.1L244.8 2279.3ZM249 2236.1L230.1 2242.5M233.7 2237.5L230.1 2242.5L235.9 2244.3L232.7 2241.6ZM249.4 2170.7L229.6 2167.8M235.1 2165L229.6 2167.8L234.1 2172.1L232.4 2168.2ZM249.3 2136.4L229.8 2132.2M235.4 2129.7L229.8 2132.2L233.9 2136.7L232.4 2132.8ZM247.4 2105.5L231.7 2093M237.9 2093.3L231.7 2093L233.4 2099L233.9 2094.7ZM280.1 2301L269.1 2317.6M268.8 2311.5L269.1 2317.6L274.8 2315.5L270.6 2315.3ZM282.7 2268.4L266.5 2280.2M268.4 2274.3L266.5 2280.2L272.7 2280.1L268.7 2278.5ZM284 2235.8L265.2 2242.8M268.7 2237.7L265.2 2242.8L271.2 2244.4L267.8 2241.8ZM284.6 2169.1L264.6 2169.5M269.5 2165.8L264.6 2169.5L269.7 2173L267.4 2169.4ZM284.5 2135.4L264.7 2133.2M270 2130.1L264.7 2133.2L269.2 2137.3L267.4 2133.5ZM284 2102.7L265.2 2095.8M271.2 2094.2L265.2 2095.8L268.7 2100.9L267.8 2096.8ZM278.1 2003.6L271.1 1984.9M276.2 1988.3L271.1 1984.9L269.5 1990.9L272 1987.5ZM276.8 1969L272.4 1949.5M277 1953.6L272.4 1949.5L270 1955.2L273 1952.2ZM317.2 2302.7L302.2 2315.9M303.5 2309.9L302.2 2315.9L308.3 2315.3L304.2 2314.1ZM318 2268.7L301.4 2279.8M303.5 2274.1L301.4 2279.8L307.5 2280.1L303.7 2278.3ZM318.6 2234.8L300.8 2243.8M303.6 2238.3L300.8 2243.8L306.8 2244.8L303.2 2242.6ZM317.4 2163L301.9 2175.6M303.5 2169.6L301.9 2175.6L308.1 2175.2L304.1 2173.9ZM317.8 2128.5L301.5 2140M303.5 2134.2L301.5 2140L307.7 2140.1L303.8 2138.5ZM319.2 2102.2L300.1 2096.3M306 2094.3L300.1 2096.3L303.8 2101.2L302.8 2097.1ZM317.7 2070.2L301.6 2058.4M307.8 2058.4L301.6 2058.4L303.5 2064.2L303.8 2060ZM312.7 2003.8L306.7 1984.7M311.6 1988.4L306.7 1984.7L304.7 1990.6L307.5 1987.3ZM307.4 1969L311.9 1949.5M314.3 1955.2L311.9 1949.5L307.3 1953.6L311.3 1952.2ZM300.4 1920.5L318.9 1928M313 1929.5L318.9 1928L315.7 1922.8L316.4 1927ZM299.7 1890.1L319.6 1888.4M315 1892.4L319.6 1888.4L314.4 1885.3L316.9 1888.7ZM351.8 2302.2L337.7 2316.4M338.7 2310.3L337.7 2316.4L343.8 2315.4L339.6 2314.4ZM351.7 2267.1L337.7 2281.4M338.7 2275.3L337.7 2281.4L343.8 2280.4L339.7 2279.5ZM351.7 2232.1L337.8 2246.4M338.7 2240.4L337.8 2246.4L343.8 2245.4L339.7 2244.5ZM350.3 2160.9L339.2 2177.6M339 2171.5L339.2 2177.6L345 2175.4L340.8 2175.3ZM350.5 2126.1L339 2142.4M338.9 2136.3L339 2142.4L344.8 2140.4L340.6 2140.2ZM351.4 2091.8L338.1 2106.7M338.7 2100.6L338.1 2106.7L344.1 2105.4L339.9 2104.7ZM354.7 2065.4L334.8 2063.1M340.2 2060.1L334.8 2063.1L339.4 2067.3L337.5 2063.4ZM353.1 2034.8L336.4 2023.8M342.6 2023.5L336.4 2023.8L338.6 2029.5L338.7 2025.3ZM346.6 2004.1L342.9 1984.4M347.4 1988.7L342.9 1984.4L340.3 1990L343.4 1987.1ZM343.1 1969.1L346.4 1949.4M349.1 1954.9L346.4 1949.4L342 1953.7L345.9 1952.1ZM334.8 1923.6L354.7 1924.9M349.5 1928.2L354.7 1924.9L350 1921L352 1924.7ZM386.4 2301.7L373.3 2316.9M373.8 2310.7L373.3 2316.9L379.3 2315.4L375.1 2314.8ZM384.8 2265.6L374.8 2282.9M374.2 2276.8L374.8 2282.9L380.4 2280.4L376.2 2280.6ZM383.4 2229.9L376.2 2248.6M374.7 2242.7L376.2 2248.6L381.4 2245.2L377.2 2246.1ZM384.6 2090.5L375 2108M374.3 2101.9L375 2108L380.6 2105.4L376.3 2105.6ZM389.6 2062.3L370 2066.2M374.2 2061.7L370 2066.2L375.6 2068.8L372.7 2065.7ZM388.3 2034.6L371.3 2024M377.5 2023.6L371.3 2024L373.7 2029.7L373.7 2025.4ZM381.4 2004.1L378.3 1984.4M382.6 1988.8L378.3 1984.4L375.5 1989.9L378.7 1987.1ZM378.2 1969.1L381.5 1949.4M384.2 1954.9L381.5 1949.4L377.1 1953.7L381 1952.1ZM370.8 1919.9L388.8 1928.6M382.7 1929.7L388.8 1928.6L385.9 1923.2L386.3 1927.4ZM369.8 1889.3L389.8 1889.2M384.8 1892.8L389.8 1889.2L384.8 1885.6L387.1 1889.2ZM413.5 2229.4L416.3 2249.2M412 2244.7L416.3 2249.2L419.2 2243.7L415.9 2246.5ZM414.8 2089.3L415 2109.3M411.3 2104.3L415 2109.3L418.5 2104.2L414.9 2106.5ZM422.9 2058.2L406.9 2070.3M408.7 2064.4L406.9 2070.3L413.1 2070.2L409.1 2068.6ZM424.9 2030.1L404.9 2028.4M410.2 2025.2L404.9 2028.4L409.6 2032.4L407.7 2028.6ZM412.2 2003.9L417.5 1984.6M419.7 1990.4L417.5 1984.6L412.7 1988.5L416.8 1987.3ZM412.5 1969L417.3 1949.5M419.6 1955.3L417.3 1949.5L412.6 1953.5L416.6 1952.2ZM405.8 1893.4L424 1885.1M420.9 1890.4L424 1885.1L417.9 1883.9L421.5 1886.2ZM405.9 1858.5L423.9 1850M420.9 1855.4L423.9 1850L417.9 1848.8L421.4 1851.1ZM442.3 2232.8L457.6 2245.8M451.4 2245.3L457.6 2245.8L456.1 2239.8L455.5 2244ZM440.3 2201.6L459.6 2207M453.8 2209.1L459.6 2207L455.8 2202.2L456.9 2206.3ZM440.9 2165.1L459.1 2173.4M453 2174.6L459.1 2173.4L456 2168.1L456.6 2172.3ZM441.1 2129.6L458.8 2139M452.7 2139.8L458.8 2139L456.1 2133.4L456.4 2137.7ZM442.3 2092.8L457.6 2105.7M451.5 2105.2L457.6 2105.7L456.1 2099.7L455.5 2103.9ZM459.9 2030.3L440 2028.2M445.4 2025.2L440 2028.2L444.6 2032.3L442.7 2028.5ZM446.9 2003.8L453 1984.7M454.9 1990.6L453 1984.7L448 1988.4L452.2 1987.3ZM451.1 1969.2L448.9 1949.3M453 1953.9L448.9 1949.3L445.8 1954.7L449.2 1952ZM445 1897.9L455 1880.6M455.6 1886.7L455 1880.6L449.3 1883.1L453.6 1883ZM440.4 1857.3L459.5 1851.2M455.8 1856.1L459.5 1851.2L453.6 1849.3L456.9 1852ZM475.9 2103.2L494.2 2095.3M491.1 2100.6L494.2 2095.3L488.2 2094L491.7 2096.4ZM476.4 2069.3L493.7 2059.3M491.2 2064.9L493.7 2059.3L487.6 2058.6L491.3 2060.6ZM477.3 2035.6L492.8 2022.9M491.2 2028.9L492.8 2022.9L486.6 2023.3L490.6 2024.7ZM475.8 1963.2L494.2 1955.3M491 1960.6L494.2 1955.3L488.2 1954L491.7 1956.4ZM484.1 1934.2L486 1914.3M489.1 1919.6L486 1914.3L481.9 1918.9L485.7 1917ZM481.6 1898.6L488.5 1879.9M490.1 1885.8L488.5 1879.9L483.4 1883.3L487.5 1882.4ZM475.5 1857.3L494.6 1851.2M490.9 1856.2L494.6 1851.2L488.7 1849.3L491.9 1852ZM475 1819.2L495 1819.3M490 1822.9L495 1819.3L490 1815.7L492.3 1819.3ZM475 1783.7L495 1784.8M489.8 1788.1L495 1784.8L490.2 1780.9L492.3 1784.6ZM512.9 2106.2L527.3 2092.3M526.2 2098.4L527.3 2092.3L521.2 2093.2L525.3 2094.2ZM512.6 2070.9L527.6 2057.7M526.2 2063.7L527.6 2057.7L521.5 2058.3L525.6 2059.5ZM512.3 2035.5L527.9 2023M526.3 2029L527.9 2023L521.8 2023.3L525.8 2024.8ZM510.1 1960L530.1 1958.5M525.4 1962.5L530.1 1958.5L524.8 1955.3L527.3 1958.7ZM518.7 1934.2L521.5 1914.3M524.4 1919.8L521.5 1914.3L517.2 1918.8L521.1 1917.1ZM520.8 1899.2L519.4 1879.3M523.3 1884L519.4 1879.3L516.1 1884.5L519.6 1882ZM514.4 1862.4L525.9 1846.1M525.9 1852.2L525.9 1846.1L520 1848.1L524.3 1848.3ZM510.2 1818.1L530 1820.3M524.7 1823.4L530 1820.3L525.5 1816.2L527.3 1820ZM510.2 1782.9L530 1785.6M524.6 1788.5L530 1785.6L525.5 1781.3L527.3 1785.2ZM554.5 1934.2L555.9 1914.3M559.1 1919.5L555.9 1914.3L551.9 1919L555.7 1917ZM548.2 1847L562.1 1861.4M556.1 1860.3L562.1 1861.4L561.2 1855.3L560.2 1859.5ZM546.1 1815L564.2 1823.5M558.2 1824.6L564.2 1823.5L561.2 1818.1L561.7 1822.3ZM545.6 1781.3L564.7 1787.2M558.9 1789.2L564.7 1787.2L561 1782.3L562.1 1786.4ZM545.2 1749.4L565.2 1749M560.2 1752.7L565.2 1749L560.1 1745.5L562.4 1749.1ZM547 1720L563.4 1708.5M561.3 1714.3L563.4 1708.5L557.2 1708.4L561.1 1710.1ZM549.2 1687.3L561.1 1671.2M561 1677.3L561.1 1671.2L555.2 1673.1L559.5 1673.4ZM580.3 1923.6L600.2 1924.9M595 1928.2L600.2 1924.9L595.5 1921L597.5 1924.7ZM593.7 1844.9L586.8 1863.6M585.1 1857.7L586.8 1863.6L591.9 1860.2L587.7 1861ZM580.3 1749.8L600.2 1748.7M595.4 1752.6L600.2 1748.7L595 1745.4L597.5 1748.8ZM582.4 1720.4L598.1 1708.1M596.4 1714L598.1 1708.1L592 1708.3L596 1709.8ZM584.4 1687.3L596.1 1671.1M596.1 1677.3L596.1 1671.1L590.2 1673.1L594.5 1673.3ZM584.6 1652.5L595.8 1635.9M596 1642.1L595.8 1635.9L590.1 1638.1L594.3 1638.2ZM616 1920.6L634.6 1927.9M628.6 1929.4L634.6 1927.9L631.3 1922.7L632.1 1926.9ZM618.5 1756.6L632.1 1741.9M631.4 1748L632.1 1741.9L626.1 1743.1L630.2 1743.9ZM619.5 1722.4L631.1 1706.1M631.1 1712.2L631.1 1706.1L625.3 1708.1L629.5 1708.3ZM620.8 1688.2L629.8 1670.3M630.8 1676.4L629.8 1670.3L624.3 1673.1L628.6 1672.7ZM621.2 1653.3L629.4 1635.1M630.6 1641.1L629.4 1635.1L624.1 1638.2L628.3 1637.6ZM622.8 1618.9L627.8 1599.5M630 1605.3L627.8 1599.5L623.1 1603.5L627.1 1602.2ZM651 1927.7L669.8 1920.8M666.3 1925.9L669.8 1920.8L663.9 1919.2L667.2 1921.8ZM652.2 1895L668.6 1883.5M666.5 1889.3L668.6 1883.5L662.4 1883.4L666.3 1885.1ZM651.5 1858.7L669.3 1849.7M666.5 1855.2L669.3 1849.7L663.2 1848.8L666.9 1851ZM652.8 1825.7L668 1812.7M666.5 1818.7L668 1812.7L661.9 1813.3L665.9 1814.5ZM653.2 1791.2L667.6 1777.3M666.5 1783.3L667.6 1777.3L661.5 1778.2L665.6 1779.2ZM653.6 1756.6L667.2 1741.9M666.4 1748L667.2 1741.9L661.1 1743.1L665.3 1743.9ZM654 1721.9L666.8 1706.6M666.4 1712.7L666.8 1706.6L660.8 1708.1L665 1708.7ZM655.5 1688L665.3 1670.5M666 1676.6L665.3 1670.5L659.7 1673.1L663.9 1672.9ZM657.7 1653.9L663 1634.6M665.2 1640.3L663 1634.6L658.2 1638.4L662.3 1637.2ZM659.4 1619.2L661.4 1599.3M664.5 1604.6L661.4 1599.3L657.3 1603.9L661.1 1602ZM688.7 1931.6L702.2 1916.9M701.5 1923L702.2 1916.9L696.2 1918.1L700.4 1918.9ZM687.7 1895.6L703.2 1882.9M701.6 1888.9L703.2 1882.9L697.1 1883.3L701.1 1884.7ZM687.6 1860.5L703.3 1848M701.6 1853.9L703.3 1848L697.1 1848.3L701.1 1849.7ZM688.1 1826L702.8 1812.5M701.6 1818.5L702.8 1812.5L696.7 1813.2L700.8 1814.3ZM688.3 1791.2L702.6 1777.3M701.6 1783.3L702.6 1777.3L696.5 1778.2L700.7 1779.2ZM688.3 1756.2L702.6 1742.2M701.5 1748.3L702.6 1742.2L696.5 1743.2L700.6 1744.2ZM688.6 1721.5L702.3 1706.9M701.5 1713.1L702.3 1706.9L696.3 1708.1L700.4 1708.9ZM690.1 1687.6L700.8 1670.8M701.2 1676.9L700.8 1670.8L695.1 1673.1L699.4 1673.1ZM692.1 1653.6L698.8 1634.8M700.5 1640.7L698.8 1634.8L693.7 1638.3L697.9 1637.4ZM694 1619.1L696.9 1599.3M699.7 1604.8L696.9 1599.3L692.6 1603.7L696.5 1602ZM724 1826.8L737 1811.6M736.5 1817.8L737 1811.6L731 1813.1L735.2 1813.7ZM725.9 1653.1L735.1 1635.3M736 1641.4L735.1 1635.3L729.6 1638.1L733.9 1637.8ZM727.9 1618.8L733.2 1599.6M735.3 1605.3L733.2 1599.6L728.4 1603.4L732.5 1602.2ZM727.8 1583.8L733.2 1564.6M735.3 1570.4L733.2 1564.6L728.4 1568.4L732.5 1567.2ZM727.9 1548.9L733.1 1529.6M735.3 1535.3L733.1 1529.6L728.4 1533.4L732.4 1532.2ZM759.2 1826.9L772 1811.6M771.6 1817.7L772 1811.6L766 1813.1L770.2 1813.7ZM761.1 1653.1L770.1 1635.3M771.1 1641.4L770.1 1635.3L764.7 1638.1L768.9 1637.8ZM762 1618.6L769.2 1599.9M770.7 1605.8L769.2 1599.9L764 1603.3L768.2 1602.4ZM761.6 1583.4L769.6 1565M770.9 1571.1L769.6 1565L764.3 1568.2L768.5 1567.6ZM761.7 1548.4L769.5 1530M770.9 1536L769.5 1530L764.3 1533.2L768.4 1532.5ZM796.1 1653.1L805.2 1635.3M806.2 1641.4L805.2 1635.3L799.8 1638.1L804 1637.8ZM795.7 1617.9L805.6 1600.5M806.3 1606.7L805.6 1600.5L800 1603.1L804.3 1602.9Z" fill="#000" fill-opacity=".7" stroke="#06061c" stroke-opacity=".92" stroke-width="1.0" stroke-linejoin="miter"/>
<path d="M176.9 2038.6L161.9 2019.9M169.1 2021.8L161.9 2019.9L162.1 2027.4L163.9 2022.5ZM212.8 2072.9L196.2 2055.6M203.6 2056.8L196.2 2055.6L197.1 2063.1L198.4 2058ZM212.1 2038.5L196.8 2020M204.1 2021.8L196.8 2020L197.2 2027.5L198.9 2022.6ZM210.5 2004.6L198.4 1983.9M205.3 1986.8L198.4 1983.9L197.5 1991.4L200.1 1986.8ZM210.3 1969.7L198.6 1948.8M205.4 1951.8L198.6 1948.8L197.6 1956.2L200.2 1951.7ZM251.5 2204.2L227.5 2204.4M233.5 2199.8L227.5 2204.4L233.6 2208.8L230.8 2204.4ZM248 2072.8L231.1 2055.7M238.5 2056.8L231.1 2055.7L232.1 2063.2L233.4 2058.1ZM247.2 2038.5L231.9 2020M239.2 2021.8L231.9 2020L232.2 2027.5L234 2022.5ZM245.5 2004.6L233.5 1983.9M240.4 1986.8L233.5 1983.9L232.6 1991.3L235.2 1986.7ZM245.1 1969.9L234 1948.6M240.8 1951.9L234 1948.6L232.8 1956L235.5 1951.5ZM231 1792.7L248 1775.8M247 1783.2L248 1775.8L240.6 1776.8L245.7 1778.1ZM286.5 2202.8L262.7 2205.8M268.1 2200.6L262.7 2205.8L269.2 2209.5L266 2205.4ZM283.9 2071.9L265.4 2056.6M272.8 2057L265.4 2056.6L267.1 2063.9L267.9 2058.7ZM282.2 2038.6L267 2020M274.3 2021.8L267 2020L267.3 2027.5L269.1 2022.5ZM266 1827.6L283.3 1810.9M282 1818.3L283.3 1810.9L275.8 1811.8L280.9 1813.2ZM266 1792.6L283.2 1775.8M282 1783.3L283.2 1775.8L275.8 1776.8L280.8 1778.2ZM318.9 2196.6L300.4 2211.9M302.2 2204.7L300.4 2211.9L307.9 2211.6L303 2209.8ZM317.3 2038.5L302 2020M309.3 2021.8L302 2020L302.4 2027.5L304.1 2022.5ZM301 1862.5L318.4 1845.9M317.1 1853.3L318.4 1845.9L310.9 1846.8L316 1848.2ZM352.2 2194.9L337.3 2213.7M337.5 2206.2L337.3 2213.7L344.5 2211.8L339.3 2211.1ZM334.4 1895.3L355.1 1883.2M352.2 1890.1L355.1 1883.2L347.7 1882.3L352.3 1884.9ZM335.5 1861.9L354 1846.5M352.2 1853.8L354 1846.5L346.5 1846.9L351.4 1848.7ZM335.5 1826.8L354 1811.6M352.2 1818.9L354 1811.6L346.5 1812L351.5 1813.7ZM382.9 2192.7L376.8 2215.9M373.9 2208.9L376.8 2215.9L382.7 2211.2L377.6 2212.7ZM380 2157.3L379.6 2181.3M375.2 2175.2L379.6 2181.3L384.2 2175.4L379.7 2178ZM380.2 2122.3L379.4 2146.3M375.1 2140.1L379.4 2146.3L384.1 2140.4L379.5 2143ZM369.4 1860.1L390.3 1848.4M387.3 1855.2L390.3 1848.4L382.8 1847.4L387.4 1850ZM369.4 1825.3L390.2 1813.2M387.3 1820.1L390.2 1813.2L382.7 1812.3L387.3 1814.9ZM369.6 1790.5L390.1 1778M387.3 1785L390.1 1778L382.6 1777.3L387.3 1779.7ZM411.9 2192.7L417.9 2215.9M412 2211.2L417.9 2215.9L420.8 2209L417.1 2212.7ZM411.1 2157.9L418.7 2180.7M412.5 2176.4L418.7 2180.7L421.1 2173.5L417.6 2177.5ZM411.2 2122.9L418.6 2145.7M412.5 2141.4L418.6 2145.7L421 2138.6L417.6 2142.5ZM404 1824.2L425.8 1814.2M422.2 1820.8L425.8 1814.2L418.5 1812.6L422.8 1815.6ZM404 1789.3L425.8 1779.2M422.2 1785.8L425.8 1779.2L418.4 1777.6L422.8 1780.6ZM403.7 1753.6L426 1744.8M422.1 1751.2L426 1744.8L418.8 1742.8L423 1746ZM438.3 1822.2L461.6 1816.2M456.9 1822.1L461.6 1816.2L454.7 1813.4L458.4 1817.1ZM438.4 1787.4L461.5 1781.1M456.9 1787L461.5 1781.1L454.6 1778.3L458.4 1781.9ZM438.7 1753.3L461.2 1745.1M457.1 1751.4L461.2 1745.1L454 1742.9L458.1 1746.2ZM440.9 1722.1L459 1706.4M457.4 1713.7L459 1706.4L451.6 1706.9L456.5 1708.5ZM473.1 2170.1L497 2168.5M491.3 2173.4L497 2168.5L490.7 2164.4L493.7 2168.7ZM473 2134.8L497 2133.7M491.2 2138.5L497 2133.7L490.8 2129.5L493.7 2133.9ZM473.2 1996.1L496.9 1992.5M491.6 1997.8L496.9 1992.5L490.3 1988.9L493.6 1993ZM473 1749.6L497 1748.8M491.2 1753.5L497 1748.8L490.9 1744.5L493.7 1748.9ZM475 1720.7L495.1 1707.7M492.5 1714.7L495.1 1707.7L487.6 1707.2L492.3 1709.5ZM477.2 1688.3L492.9 1670.1M492.4 1677.6L492.9 1670.1L485.6 1671.7L490.7 1672.6ZM477.1 1653.2L493 1635.2M492.4 1642.7L493 1635.2L485.6 1636.7L490.8 1637.7ZM511.9 2143L528.3 2125.6M527.5 2133L528.3 2125.6L521 2126.8L526.1 2128ZM508.1 1995.2L532.1 1993.3M526.4 1998.3L532.1 1993.3L525.7 1989.3L528.8 1993.6ZM508.1 1749.4L532.1 1749M526.2 1753.6L532.1 1749L526 1744.6L528.8 1749.1ZM509.9 1720.6L530.3 1707.8M527.6 1714.8L530.3 1707.8L522.8 1707.2L527.5 1709.6ZM512.2 1688.3L528 1670.2M527.4 1677.6L528 1670.2L520.6 1671.7L525.8 1672.6ZM512.2 1653.2L528 1635.2M527.4 1642.7L528 1635.2L520.7 1636.7L525.8 1637.7ZM547.6 2143.6L562.8 2125M562.5 2132.5L562.8 2125L555.5 2126.8L560.7 2127.5ZM549 2109.5L561.4 2089M562.1 2096.5L561.4 2089L554.4 2091.8L559.7 2091.8ZM548.6 2074.3L561.8 2054.2M562.2 2061.7L561.8 2054.2L554.7 2056.8L560 2057ZM548.4 2039.1L562 2019.4M562.3 2026.9L562 2019.4L554.9 2021.8L560.1 2022.1ZM543.2 1995.2L567.1 1993.3M561.5 1998.3L567.1 1993.3L560.8 1989.3L563.8 1993.6ZM543.2 1960L567.1 1958.5M561.4 1963.4L567.1 1958.5L560.9 1954.4L563.9 1958.7ZM547.7 1653.6L562.6 1634.8M562.4 1642.3L562.6 1634.8L555.4 1636.7L560.6 1637.4ZM584.3 2109.7L596.2 2088.9M597.1 2096.3L596.2 2088.9L589.3 2091.8L594.6 2091.7ZM584.3 2074.7L596.2 2053.8M597.1 2061.3L596.2 2053.8L589.3 2056.8L594.6 2056.7ZM583.8 2039.4L596.7 2019.2M597.3 2026.6L596.7 2019.2L589.7 2021.8L594.9 2021.9ZM578.3 1995.6L602.2 1992.9M596.7 1998L602.2 1992.9L595.7 1989.1L598.9 1993.3ZM578.3 1959.8L602.2 1958.7M596.5 1963.5L602.2 1958.7L596 1954.5L598.9 1958.8ZM584.2 1619.6L596.3 1598.8M597.1 1606.3L596.3 1598.8L589.4 1601.8L594.6 1601.7ZM622.1 2110.8L628.5 2087.7M631.3 2094.7L628.5 2087.7L622.6 2092.3L627.7 2090.9ZM617 2002.9L633.6 1985.6M632.7 1993.1L633.6 1985.6L626.2 1986.8L631.3 1988ZM615.1 1965.5L635.6 1953M632.8 1960L635.6 1953L628.1 1952.3L632.8 1954.7ZM623.6 1586.1L627 1562.3M630.6 1568.9L627 1562.3L621.7 1567.6L626.6 1565.6ZM624.1 1551.1L626.5 1527.3M630.4 1533.7L626.5 1527.3L621.4 1532.8L626.2 1530.5ZM657.3 2110.9L663.4 2087.7M666.3 2094.6L663.4 2087.7L657.6 2092.3L662.6 2090.9ZM653.5 1969.1L667.3 1949.5M667.5 1956.9L667.3 1949.5L660.2 1951.8L665.4 1952.1ZM659.7 1586.2L661.1 1562.2M665.2 1568.5L661.1 1562.2L656.2 1568L660.9 1565.5ZM660 1551.2L660.8 1527.2M665.1 1533.3L660.8 1527.2L656.1 1533.1L660.7 1530.5ZM659.7 1516.2L661.1 1492.2M665.2 1498.5L661.1 1492.2L656.3 1497.9L660.9 1495.5ZM659.6 1481.2L661.1 1457.2M665.2 1463.5L661.1 1457.2L656.3 1462.9L660.9 1460.5ZM690.3 1970.1L700.6 1948.4M702.1 1955.8L700.6 1948.4L694 1951.9L699.2 1951.4ZM694.2 1586.1L696.7 1562.3M700.6 1568.7L696.7 1562.3L691.6 1567.8L696.4 1565.6ZM694.7 1551.2L696.2 1527.2M700.3 1533.5L696.2 1527.2L691.3 1532.9L696 1530.5ZM693.8 1516.1L697.1 1492.3M700.8 1498.9L697.1 1492.3L691.8 1497.6L696.7 1495.6ZM693.9 1481.1L697 1457.3M700.7 1463.8L697 1457.3L691.8 1462.7L696.6 1460.6ZM726.4 1970.5L734.6 1948M736.8 1955.2L734.6 1948L728.3 1952.1L733.5 1951.1ZM723.3 1933.9L737.7 1914.6M737.7 1922.1L737.7 1914.6L730.5 1916.7L735.7 1917.3ZM722 1897.7L739 1880.8M738 1888.2L739 1880.8L731.6 1881.8L736.7 1883.1ZM722 1862.7L739 1845.7M738 1853.2L739 1845.7L731.6 1846.8L736.7 1848.1ZM722.1 1792.8L739 1775.7M737.9 1783.1L739 1775.7L731.5 1776.8L736.6 1778ZM720.8 1756.3L740.2 1742.2M738 1749.3L740.2 1742.2L732.7 1742.1L737.6 1744.1ZM720.5 1720.8L740.6 1707.7M738 1714.7L740.6 1707.7L733.1 1707.2L737.8 1709.5ZM720.8 1686.3L740.2 1672.2M738 1679.3L740.2 1672.2L732.7 1672L737.6 1674.1ZM725.8 1515.2L735.2 1493.1M737 1500.4L735.2 1493.1L728.7 1496.9L733.9 1496.2ZM725.5 1480.1L735.5 1458.3M737.1 1465.6L735.5 1458.3L729 1461.9L734.2 1461.3ZM757.7 1933.3L773.5 1915.2M772.9 1922.7L773.5 1915.2L766.1 1916.8L771.3 1917.7ZM757.1 1897.7L774.1 1880.7M773 1888.2L774.1 1880.7L766.6 1881.8L771.7 1883.1ZM757.2 1862.8L774 1845.6M773 1853.1L774 1845.6L766.5 1846.8L771.7 1848ZM757.7 1793.2L773.5 1775.2M772.9 1782.7L773.5 1775.2L766.2 1776.8L771.3 1777.7ZM756.8 1757.4L774.4 1741.1M773.1 1748.5L774.4 1741.1L766.9 1741.8L772 1743.3ZM756.9 1722.5L774.3 1705.9M773 1713.3L774.3 1705.9L766.8 1706.8L771.9 1708.2ZM759.6 1689.6L771.6 1668.8M772.5 1676.3L771.6 1668.8L764.7 1671.8L770 1671.7ZM760.1 1514.9L771.1 1493.5M772.4 1500.9L771.1 1493.5L764.4 1496.8L769.6 1496.5ZM759.9 1479.8L771.3 1458.6M772.4 1466L771.3 1458.6L764.5 1461.8L769.7 1461.5ZM791.6 1897.1L809.7 1881.4M808.1 1888.7L809.7 1881.4L802.3 1881.9L807.2 1883.5ZM792.2 1862.8L809.1 1845.7M808.1 1853.1L809.1 1845.7L801.7 1846.8L806.8 1848ZM794.6 1829.6L806.8 1808.9M807.6 1816.4L806.8 1808.9L799.8 1811.8L805.1 1811.7ZM796.3 1760.4L805 1738M807 1745.3L805 1738L798.6 1742L803.8 1741.1ZM796.4 1725.4L805 1703M807 1710.2L805 1703L798.6 1707L803.8 1706.1ZM796.5 1690.5L804.9 1668M807 1675.2L804.9 1668L798.6 1672L803.7 1671.1ZM793.4 1583.7L808 1564.7M807.9 1572.2L808 1564.7L800.7 1566.7L805.9 1567.3ZM793 1548.4L808.3 1530M808 1537.5L808.3 1530L801 1531.7L806.2 1532.5ZM826.7 1897.1L844.8 1881.4M843.2 1888.7L844.8 1881.4L837.3 1881.9L842.3 1883.6ZM827.3 1862.7L844.2 1845.8M843.2 1853.2L844.2 1845.8L836.8 1846.8L841.9 1848.1ZM829.3 1829.4L842.2 1809.1M842.7 1816.6L842.2 1809.1L835.1 1811.8L840.4 1811.9ZM831.7 1760.5L839.7 1737.9M842 1745.1L839.7 1737.9L833.5 1742.1L838.6 1741ZM832.5 1725.8L839 1702.7M841.7 1709.7L839 1702.7L833 1707.2L838.1 1705.9ZM833.3 1656L838.2 1632.5M841.4 1639.2L838.2 1632.5L832.5 1637.4L837.5 1635.7ZM859.7 1893.7L881.9 1884.8M878.1 1891.2L881.9 1884.8L874.7 1882.8L878.9 1886ZM860.5 1860.4L881.1 1848.1M878.3 1855L881.1 1848.1L873.6 1847.3L878.3 1849.8ZM863.9 1829L877.8 1809.5M878 1817L877.8 1809.5L870.6 1811.7L875.9 1812.1ZM894.8 1893.8L917 1884.7M913.1 1891.1L917 1884.7L909.7 1882.8L913.9 1886ZM895.7 1860.6L916 1847.9M913.4 1854.9L916 1847.9L908.6 1847.2L913.2 1849.6ZM898.6 1828.8L913.1 1809.7M913.1 1817.2L913.1 1809.7L905.9 1811.7L911.1 1812.3ZM929 1890.8L952.9 1887.7M947.5 1892.9L952.9 1887.7L946.3 1884L949.6 1888.1ZM929.8 1858.6L952.1 1849.9M948.2 1856.3L952.1 1849.9L944.9 1847.9L949.1 1851.1ZM933.2 1828.4L948.7 1810.1M948.3 1817.6L948.7 1810.1L941.4 1811.7L946.6 1812.6ZM968.4 1828.5L983.7 1810M983.3 1817.5L983.7 1810L976.4 1811.7L981.6 1812.5ZM972.3 1795.6L979.7 1772.8M982.2 1779.9L979.7 1772.8L973.6 1777.1L978.7 1776ZM1006.9 1795.5L1015.3 1773M1017.4 1780.2L1015.3 1773L1009 1777L1014.1 1776.1Z" fill="#000" fill-opacity=".7" stroke="#06061c" stroke-opacity=".92" stroke-width="1.1" stroke-linejoin="miter"/>
<path d="M299.2 1828.5L320.2 1810M318.6 1818.7L320.2 1810L311.3 1810.5L317.3 1812.5ZM299 1793.3L320.3 1775.1M318.6 1783.9L320.3 1775.1L311.4 1775.5L317.4 1777.6ZM299.8 1759.1L319.6 1739.3M318.5 1748.2L319.6 1739.3L310.7 1740.4L316.9 1742.1ZM334 1793.2L355.5 1775.3M353.6 1784L355.5 1775.3L346.6 1775.5L352.6 1777.7ZM334.8 1759.1L354.7 1739.4M353.6 1748.2L354.7 1739.4L345.8 1740.4L351.9 1742.1ZM336.4 1725.5L353.1 1703M353.3 1711.9L353.1 1703L344.5 1705.3L350.8 1706.1ZM337.5 1691.2L352 1667.2M353.1 1676.1L352 1667.2L343.6 1670.4L350 1670.5ZM369.7 1758.9L389.9 1739.5M388.7 1748.3L389.9 1739.5L381 1740.4L387.1 1742.2ZM371.2 1725.3L388.4 1703.2M388.5 1712.1L388.4 1703.2L379.8 1705.3L386 1706.2ZM372.6 1691.2L387.1 1667.2M388.1 1676.1L387.1 1667.2L378.7 1670.4L385.1 1670.5ZM404.7 1723.8L425.1 1704.7M423.8 1713.5L425.1 1704.7L416.3 1705.4L422.3 1707.3ZM406.7 1690.6L423.1 1667.9M423.4 1676.8L423.1 1667.9L414.5 1670.3L420.8 1671ZM406.3 1655.3L423.5 1633.2M423.5 1642.1L423.5 1633.2L414.9 1635.3L421.1 1636.2ZM441.7 1690.5L458.2 1667.9M458.5 1676.8L458.2 1667.9L449.7 1670.3L456 1671ZM441.1 1655.1L458.8 1633.4M458.6 1642.3L458.8 1633.4L450.1 1635.3L456.4 1636.3ZM476 1619.9L494 1598.5M493.7 1607.4L494 1598.5L485.3 1600.3L491.5 1601.4ZM476.1 1585L494 1563.5M493.7 1572.4L494 1563.5L485.3 1565.3L491.5 1566.4ZM476.3 1550.2L493.7 1528.2M493.7 1537.1L493.7 1528.2L485.1 1530.3L491.3 1531.3ZM511.1 1620L529.1 1598.5M528.8 1607.4L529.1 1598.5L520.4 1600.3L526.6 1601.4ZM511.2 1585L529 1563.4M528.8 1572.3L529 1563.4L520.3 1565.3L526.6 1566.4ZM546.9 1620.5L563.4 1597.9M563.7 1606.8L563.4 1597.9L554.9 1600.3L561.2 1601ZM547.2 1585.7L563.2 1562.7M563.7 1571.6L563.2 1562.7L554.7 1565.3L561 1565.9ZM547.3 1550.8L563 1527.6M563.7 1536.5L563 1527.6L554.5 1530.3L560.9 1530.8ZM582.5 1585.8L598 1562.6M598.7 1571.4L598 1562.6L589.6 1565.3L595.9 1565.8ZM583.2 1551.3L597.3 1527.1M598.5 1535.9L597.3 1527.1L589 1530.4L595.3 1530.4ZM621.9 2077.8L628.8 2050.7M632.4 2058.8L628.8 2050.7L621.7 2056.1L627.8 2054.4ZM621.9 2042.8L628.7 2015.7M632.3 2023.8L628.7 2015.7L621.7 2021.1L627.8 2019.4ZM658.8 2078.2L662 2050.4M666.7 2057.9L662 2050.4L655.7 2056.7L661.6 2054.2ZM657.9 2043L662.8 2015.5M667 2023.3L662.8 2015.5L656.2 2021.4L662.2 2019.3ZM656.9 2007.8L663.9 1980.7M667.5 1988.9L663.9 1980.7L656.8 1986.1L662.9 1984.4ZM693 2113L697.9 2085.5M702.1 2093.4L697.9 2085.5L691.3 2091.4L697.3 2089.3ZM694.1 2078.2L696.8 2050.3M701.6 2057.8L696.8 2050.3L690.7 2056.8L696.4 2054.2ZM693.6 2043.1L697.4 2015.4M701.9 2023.1L697.4 2015.4L691 2021.6L696.8 2019.2ZM692.9 2008L698 1980.5M702.1 1988.4L698 1980.5L691.3 1986.4L697.3 1984.3ZM730 2078.3L731.1 2050.3M736.3 2057.5L731.1 2050.3L725.3 2057.1L730.9 2054.1ZM729.5 2043.2L731.6 2015.3M736.5 2022.7L731.6 2015.3L725.6 2021.9L731.3 2019.1ZM729.2 2008.2L731.9 1980.3M736.7 1987.8L731.9 1980.3L725.7 1986.8L731.5 1984.2ZM795.5 1797.2L805.9 1771.2M808.4 1779.8L805.9 1771.2L798.2 1775.7L804.4 1774.8ZM826.6 1934.8L844.9 1913.7M844.5 1922.6L844.9 1913.7L836.2 1915.4L842.4 1916.6ZM830.3 1797.1L841.2 1771.3M843.5 1779.9L841.2 1771.3L833.4 1775.6L839.7 1774.9ZM835.3 1693.2L836.2 1665.2M841.5 1672.4L836.2 1665.2L830.5 1672L836.1 1669.1ZM866.7 1797.6L875 1770.9M878.1 1779.2L875 1770.9L867.6 1775.9L873.8 1774.5ZM868.6 1763L873.1 1735.4M877.4 1743.2L873.1 1735.4L866.5 1741.4L872.4 1739.2ZM869.4 1728.2L872.2 1700.3M877 1707.8L872.2 1700.3L866 1706.7L871.8 1704.1ZM870.6 1693.2L871 1665.2M876.4 1672.3L871 1665.2L865.4 1672.1L871 1669.1ZM869.9 1658.2L871.8 1630.2M876.8 1637.6L871.8 1630.2L865.8 1636.9L871.5 1634.1ZM901.1 1797.4L910.7 1771.1M913.5 1779.6L910.7 1771.1L903.1 1775.8L909.4 1774.7ZM903.3 1763L908.5 1735.5M912.6 1743.4L908.5 1735.5L901.8 1741.3L907.8 1739.3ZM904.5 1728.2L907.3 1700.3M912.1 1707.8L907.3 1700.3L901.1 1706.7L906.9 1704.1ZM905.8 1693.2L906 1665.2M911.4 1672.3L906 1665.2L900.4 1672.2L906 1669.1ZM905.4 1658.2L906.4 1630.2M911.6 1637.4L906.4 1630.2L900.6 1637L906.3 1634.1ZM936.7 1797.6L945.2 1770.9M948.3 1779.2L945.2 1770.9L937.8 1775.9L944 1774.6ZM938.8 1763.1L943.1 1735.4M947.5 1743.2L943.1 1735.4L936.6 1741.5L942.5 1739.2ZM973 1762.9L979 1735.5M982.9 1743.6L979 1735.5L972.1 1741.2L978.2 1739.3Z" fill="#000" fill-opacity=".7" stroke="#06061c" stroke-opacity=".92" stroke-width="1.2" stroke-linejoin="miter"/>
<path d="M229.7 1691.9L249.3 1666.6M249.7 1676.4L249.3 1666.6L239.8 1668.6L246.8 1669.8ZM229.7 1656.8L249.4 1631.6M249.7 1641.4L249.4 1631.6L239.8 1633.6L246.8 1634.9ZM229.7 1621.8L249.4 1596.6M249.7 1606.4L249.4 1596.6L239.8 1598.6L246.9 1599.9ZM264.6 1726.7L284.6 1701.8M284.8 1711.6L284.6 1701.8L275 1703.7L282.1 1705ZM265.4 1692.3L283.9 1666.2M284.7 1675.9L283.9 1666.2L274.4 1668.6L281.5 1669.5ZM264.8 1656.9L284.4 1631.5M284.8 1641.3L284.4 1631.5L274.8 1633.6L281.9 1634.8ZM264.7 1621.8L284.5 1596.6M284.8 1606.4L284.5 1596.6L274.9 1598.6L281.9 1599.9ZM264.4 1586.5L284.9 1561.9M284.9 1571.7L284.9 1561.9L275.2 1563.6L282.2 1565.1ZM264.3 1551.5L284.9 1526.9M284.9 1536.7L284.9 1526.9L275.2 1528.6L282.2 1530.1ZM299.6 1726.7L319.7 1701.8M319.9 1711.5L319.7 1701.8L310.1 1703.7L317.1 1705ZM300.4 1692.3L318.9 1666.1M319.7 1675.9L318.9 1666.1L309.4 1668.6L316.5 1669.5ZM300.1 1657L319.3 1631.4M319.8 1641.2L319.3 1631.4L309.7 1633.6L316.8 1634.7ZM299.7 1621.7L319.7 1596.7M319.9 1606.5L319.7 1596.7L310.1 1598.6L317.1 1599.9ZM299.4 1586.5L319.9 1561.9M320 1571.7L319.9 1561.9L310.3 1563.6L317.3 1565.1ZM299.4 1551.5L320 1526.9M320 1536.7L320 1526.9L310.3 1528.6L317.3 1530.1ZM335.1 1657L354.4 1631.5M354.9 1641.2L354.4 1631.5L344.9 1633.6L351.9 1634.7ZM334.9 1621.8L354.6 1596.6M354.9 1606.4L354.6 1596.6L345 1598.6L352.1 1599.9ZM334.6 1586.5L354.9 1561.9M355 1571.7L354.9 1561.9L345.3 1563.6L352.3 1565ZM334.5 1551.5L355 1526.9M355 1536.7L355 1526.9L345.4 1528.6L352.4 1530.1ZM370.1 1656.9L389.5 1631.5M390 1641.3L389.5 1631.5L380 1633.6L387 1634.8ZM370 1621.8L389.7 1596.6M390 1606.4L389.7 1596.6L380.1 1598.6L387.1 1599.9ZM405 1621.8L424.8 1596.6M425.1 1606.4L424.8 1596.6L415.2 1598.6L422.2 1599.9ZM405 1586.8L424.8 1561.6M425.1 1571.4L424.8 1561.6L415.2 1563.6L422.2 1564.9ZM440.1 1621.8L459.9 1596.6M460.2 1606.4L459.9 1596.6L450.3 1598.6L457.3 1599.9ZM440.1 1586.8L459.8 1561.6M460.2 1571.4L459.8 1561.6L450.3 1563.6L457.3 1564.9Z" fill="#000" fill-opacity=".7" stroke="#06061c" stroke-opacity=".92" stroke-width="1.3" stroke-linejoin="miter"/>
<rect x="99" y="1403" width="994.3" height="1040.7" fill="none" stroke="#000" stroke-width="2.6"/>
<path d="M222 1403v-11.5M222 2443.7v11.5M362.3 1403v-11.5M362.3 2443.7v11.5M502.6 1403v-11.5M502.6 2443.7v11.5M642.9 1403v-11.5M642.9 2443.7v11.5M783.1 1403v-11.5M783.1 2443.7v11.5M923.4 1403v-11.5M923.4 2443.7v11.5M1063.7 1403v-11.5M1063.7 2443.7v11.5M99 2361.8h-11.5M1093.3 2361.8h11.5M99 2221.8h-11.5M1093.3 2221.8h11.5M99 2081.8h-11.5M1093.3 2081.8h11.5M99 1941.8h-11.5M1093.3 1941.8h11.5M99 1801.7h-11.5M1093.3 1801.7h11.5M99 1661.7h-11.5M1093.3 1661.7h11.5M99 1521.7h-11.5M1093.3 1521.7h11.5" stroke="#000" stroke-width="2.2" fill="none"/>
<text class="tk" x="222" y="1384.5" text-anchor="middle">114°E</text>
<text class="tk" x="222" y="2481.7" text-anchor="middle">114°E</text>
<text class="tk" x="362.3" y="1384.5" text-anchor="middle">115°E</text>
<text class="tk" x="362.3" y="2481.7" text-anchor="middle">115°E</text>
<text class="tk" x="502.6" y="1384.5" text-anchor="middle">116°E</text>
<text class="tk" x="502.6" y="2481.7" text-anchor="middle">116°E</text>
<text class="tk" x="642.9" y="1384.5" text-anchor="middle">117°E</text>
<text class="tk" x="642.9" y="2481.7" text-anchor="middle">117°E</text>
<text class="tk" x="783.1" y="1384.5" text-anchor="middle">118°E</text>
<text class="tk" x="783.1" y="2481.7" text-anchor="middle">118°E</text>
<text class="tk" x="923.4" y="1384.5" text-anchor="middle">119°E</text>
<text class="tk" x="923.4" y="2481.7" text-anchor="middle">119°E</text>
<text class="tk" x="1063.7" y="1384.5" text-anchor="middle">120°E</text>
<text class="tk" x="1063.7" y="2481.7" text-anchor="middle">120°E</text>
<text class="tk" x="86" y="2371.3" text-anchor="end">36°N</text>
<text class="tk" x="1105.8" y="2371.3">36°N</text>
<text class="tk" x="86" y="2231.3" text-anchor="end">37°N</text>
<text class="tk" x="1105.8" y="2231.3">37°N</text>
<text class="tk" x="86" y="2091.3" text-anchor="end">38°N</text>
<text class="tk" x="1105.8" y="2091.3">38°N</text>
<text class="tk" x="86" y="1951.2" text-anchor="end">39°N</text>
<text class="tk" x="1105.8" y="1951.2">39°N</text>
<text class="tk" x="86" y="1811.2" text-anchor="end">40°N</text>
<text class="tk" x="1105.8" y="1811.2">40°N</text>
<text class="tk" x="86" y="1671.2" text-anchor="end">41°N</text>
<text class="tk" x="1105.8" y="1671.2">41°N</text>
<text class="tk" x="86" y="1531.2" text-anchor="end">42°N</text>
<text class="tk" x="1105.8" y="1531.2">42°N</text>
<text class="n" x="997.3" y="1462.3" text-anchor="middle">N</text>
<path d="M997.3 1473.4L965.3 1582.2L997.3 1540.2Z" fill="#000"/>
<path d="M997.6 1479.4L1027.3 1578.7L997.6 1540.2Z" fill="#fff" stroke="#000" stroke-width="2.4" stroke-linejoin="miter"/>
<rect x="136" y="2399.3" width="325.3" height="11.6" fill="#fff" stroke="#000" stroke-width="1.5"/>
<rect x="136" y="2399.3" width="20.3" height="11.6" fill="#000"/>
<rect x="176.7" y="2399.3" width="20.3" height="11.6" fill="#000"/>
<rect x="217.3" y="2399.3" width="81.3" height="11.6" fill="#000"/>
<rect x="380" y="2399.3" width="81.3" height="11.6" fill="#000"/>
<text class="sb" x="136" y="2385.3" text-anchor="middle">0</text>
<text class="sb" x="176.7" y="2385.3" text-anchor="middle">20</text>
<text class="sb" x="217.3" y="2385.3" text-anchor="middle">40</text>
<text class="sb" x="298.6" y="2385.3" text-anchor="middle">80</text>
<text class="sb" x="380" y="2385.3" text-anchor="middle">120</text>
<text class="sb" x="461.3" y="2385.3" text-anchor="middle">160</text>
<text class="sb" x="467.8" y="2410.4">Miles</text>
<text class="lh" x="817.5" y="2040.3" textLength="202.5" lengthAdjust="spacingAndGlyphs">Wind Speed(m/s)</text>
<text class="lg" x="876.7" y="2088.6" textLength="120.6" lengthAdjust="spacingAndGlyphs">0.02 - 0.57</text>
<path d="M837 2088.6v-19.5M834 2073.6l3 -4.5l3 4.5" fill="none" stroke="#000" stroke-width="1.2"/>
<text class="lg" x="876.7" y="2136.9" textLength="120.6" lengthAdjust="spacingAndGlyphs">0.57 - 1.08</text>
<path d="M837 2138.9v-23.6M832.7 2121.3l4.3 -6l4.3 6" fill="none" stroke="#000" stroke-width="1.5"/>
<text class="lg" x="876.7" y="2184.2" textLength="120.6" lengthAdjust="spacingAndGlyphs">1.08 - 1.68</text>
<path d="M837 2186.7v-25.7M831.5 2168.5l5.5 -7.5l5.5 7.5" fill="none" stroke="#000" stroke-width="1.7"/>
<text class="lg" x="876.7" y="2232.4" textLength="109.6" lengthAdjust="spacingAndGlyphs">1.68- 2.64</text>
<path d="M837 2236.4v-29.8M830.2 2215.6l6.8 -9l6.8 9" fill="none" stroke="#000" stroke-width="1.9"/>
<text class="lg" x="876.7" y="2280.7" textLength="120.6" lengthAdjust="spacingAndGlyphs">2.64 - 4.25</text>
<path d="M837 2288.7v-35M828.8 2264.2l8.2 -10.5l8.2 10.5" fill="none" stroke="#000" stroke-width="2.1"/>
<text class="lh" x="804.5" y="2323.5" textLength="263.9" lengthAdjust="spacingAndGlyphs">Relative Humidity(%)</text>
<rect x="800.3" y="2362.7" width="51.7" height="57.8" fill="url(#lgd)"/>
<rect x="800.3" y="2391.3" width="51.7" height="1.6" fill="#e8ffff"/>
<text x="866.5" y="2371.7" style="font:29px 'Liberation Serif',serif" textLength="146.8" lengthAdjust="spacingAndGlyphs">High : 90.60</text>
<text x="867.5" y="2431.4" style="font:29px 'Liberation Serif',serif" textLength="138.5" lengthAdjust="spacingAndGlyphs">Low : 26.50</text>
<text class="cap" y="2611.5"><tspan x="277.4" textLength="79.6" lengthAdjust="spacingAndGlyphs">(c)</tspan> <tspan x="381.4" textLength="265.6" lengthAdjust="spacingAndGlyphs">October</tspan> <tspan x="671.2" textLength="88.5" lengthAdjust="spacingAndGlyphs">20,</tspan> <tspan x="786.3" textLength="152.7" lengthAdjust="spacingAndGlyphs">2019</tspan></text>
</g>
<g id="panel-d">
<clipPath id="cpd"><path d="M1463.8 1505.1L1504.1 1501.1L1510.6 1507.4L1514.1 1520.7L1526.2 1527.3L1524.2 1542.8L1517.1 1555.8L1526.2 1562.8L1526.2 1573.9L1548.4 1575.9L1572.5 1573.9L1579.2 1564.8L1596.7 1555.8L1616.8 1544.8L1646 1531.7L1661.6 1527.7L1667.2 1536.3L1673.9 1551.8L1686.3 1551.8L1690.3 1542.8L1703.9 1533.7L1715.1 1522.7L1726.3 1521.7L1735.1 1527.3L1748.7 1528.4L1757.4 1529.7L1772.9 1527.3L1786.4 1520.7L1795 1519.7L1795 1502.6L1783.9 1494L1797.5 1491.6L1799.8 1471.5L1804.1 1464.1L1817.6 1457.5L1835.3 1454.1L1868.5 1456.5L1869.9 1445.2L1884.3 1439.4L1919.9 1436.4L1933.4 1443L1940 1454.1L1951.1 1463L1960.1 1480.6L1955.6 1487.6L1964.6 1498.6L1975.2 1513.7L1986.3 1511.7L1996.4 1518.7L1997.4 1533.7L2001.9 1540.8L1995.4 1551.8L1988.3 1553.8L1977.3 1564.8L1997.4 1584.9L1996.4 1598.4L2004.2 1616L2010.9 1617L2042.1 1613L2064.3 1614L2068.9 1610.6L2080 1618L2100.1 1620.5L2126.7 1618L2129 1625.1L2120 1634.1L2108.8 1642.8L2100.1 1651.6L2086.6 1654.2L2088.8 1660.2L2096.7 1662.8L2091 1669.2L2082 1673.8L2077.7 1685L2080 1696.1L2093 1702.3L2106.6 1711.4L2117.8 1720.4L2133.3 1728.4L2170.6 1726.4L2176.6 1734.4L2176.6 1745.5L2183.3 1758.5L2189.7 1772L2200.8 1776.6L2203.3 1789.6L2212.2 1798.7L2214.5 1807.7L2205.6 1807.7L2187.7 1811.7L2172.2 1816.4L2167.5 1829.8L2156.5 1831.8L2145.4 1840.8L2138.8 1858.6L2134.3 1871.9L2136.3 1882.9L2125.3 1894L2114.2 1900.7L2100.9 1911.8L2085.3 1920.8L2069.7 1925.1L2049.7 1923.1L2036.3 1929.6L2031.6 1938.5L2038.5 1945.2L2029.6 1954L2022.9 1952.9L2014 1947.2L2002.8 1943L1991.8 1940.7L1982.8 1931.8L1976.1 1923L1969.2 1916.1L1958.1 1910.7L1943.6 1919.1L1932.5 1932.7L1934.7 1943.9L1941.4 1950.2L1934.7 1957.2L1918.9 1963.8L1907.8 1970.2L1916.8 1974.9L1916.8 1986L1905.8 1988.3L1903.6 2006L1910.2 2014.9L1918.9 2025.9L1930.2 2030.5L1945.8 2028.1L1943.6 2037.1L1932.5 2045.5L1921.4 2059.3L1910.2 2070.4L1894.7 2074.6L1888 2085.6L1881.2 2096.7L1872.3 2103.7L1845.4 2103.7L1796.6 2103.7L1787.7 2105.7L1778.9 2116.8L1765.4 2127.8L1754.2 2136.8L1738.6 2147.9L1732 2153.6L1723.1 2145.9L1716.5 2143.6L1712 2152.5L1705.3 2156.9L1709.7 2163.6L1696.4 2167.9L1678.5 2173.7L1667.2 2179L1669.7 2185.8L1662.9 2194.7L1651.9 2210.1L1640.7 2225.7L1629.5 2243.2L1620.2 2249.8L1602.4 2261L1586.6 2272.1L1575.5 2287.3L1573.5 2296.4L1580.2 2307.4L1591.3 2318.5L1600.2 2327.5L1598 2338.5L1586.6 2347.6L1575.5 2347.6L1566.8 2338.5L1555.4 2336.5L1540.1 2345.3L1533.3 2350.6L1522.2 2353.1L1513.1 2343L1497.8 2343L1479.9 2343L1466.6 2336.5L1450.7 2329.5L1433.2 2325.3L1415.5 2323.1L1399.7 2318.5L1386.3 2312L1364.1 2309.4L1353 2305.4L1337.4 2296.4L1328.5 2287.3L1330.7 2280.9L1319.6 2269.8L1317.3 2261L1334.9 2256.2L1346.3 2249.8L1348.5 2241L1359.7 2234.2L1361.9 2225.1L1359.7 2207.7L1366.1 2196.5L1377.2 2183L1384.2 2169.9L1395.3 2154.4L1406.4 2138.8L1404.2 2129.8L1393.1 2118.8L1388.3 2105.5L1384.2 2089.7L1377.2 2078.6L1370.8 2067.3L1359.6 2058.4L1344 2051.5L1332.9 2045.1L1326.2 2031.5L1330.6 2020.4L1330.6 2009.4L1334.9 2000.4L1344 1989.3L1355 1982.9L1366.1 1974.1L1370.8 1962.9L1359.6 1956.2L1361.8 1945.2L1377.2 1934.1L1390.8 1925.1L1399.6 1925.1L1410.8 1934.1L1426.4 1931.8L1442 1927.1L1444.2 1916.1L1457.5 1914.1L1453.1 1907L1455.3 1896L1459.8 1882.9L1466.5 1869.7L1466.5 1859.7L1452 1853.8L1450.7 1836.4L1450.7 1820.7L1439.6 1825.2L1426.4 1820.7L1417.5 1813.1L1401.9 1811.7L1395.3 1803.1L1379.6 1798.7L1386.3 1793.1L1395.3 1789.6L1401.9 1776.6L1413 1776.6L1426.4 1770.6L1444.2 1767.5L1459.8 1760.9L1464.3 1754.2L1448.7 1748.5L1435.3 1745.5L1430.9 1734.4L1421.9 1716.4L1408.1 1698.3L1399.3 1685.3L1388.3 1667.2L1374.7 1654.2L1367.1 1648.1L1374.7 1640.6L1390.3 1629.1L1380.2 1619.5L1383.2 1609.5L1374.7 1602L1397 1588.4L1421.5 1588.4L1425.5 1582.9L1423.5 1564.8L1420.5 1551.8L1439.6 1528.7L1456.7 1520.7Z"/></clipPath>
<g clip-path="url(#cpd)"><g filter="url(#ramp)">
<g filter="url(#gb)">
<rect x="1286.8" y="1415.9" width="71.2" height="71" fill="rgb(38,38,38)"/>
<rect x="1357" y="1415.9" width="211.5" height="71" fill="rgb(32,32,32)"/>
<rect x="1567.5" y="1415.9" width="71.2" height="71" fill="rgb(17,17,17)"/>
<rect x="1637.7" y="1415.9" width="281.7" height="71" fill="rgb(10,10,10)"/>
<rect x="1918.4" y="1415.9" width="71.2" height="71" fill="rgb(16,16,16)"/>
<rect x="1988.6" y="1415.9" width="71.2" height="71" fill="rgb(21,21,21)"/>
<rect x="2058.8" y="1415.9" width="141.3" height="71" fill="rgb(26,26,26)"/>
<rect x="2199.1" y="1415.9" width="71.2" height="71" fill="rgb(18,18,18)"/>
<rect x="1286.8" y="1485.9" width="71.2" height="71" fill="rgb(45,45,45)"/>
<rect x="1357" y="1485.9" width="71.2" height="71" fill="rgb(38,38,38)"/>
<rect x="1427.2" y="1485.9" width="71.2" height="71" fill="rgb(32,32,32)"/>
<rect x="1497.4" y="1485.9" width="71.2" height="71" fill="rgb(29,29,29)"/>
<rect x="1567.5" y="1485.9" width="211.5" height="71" fill="rgb(10,10,10)"/>
<rect x="1778.1" y="1485.9" width="141.4" height="71" fill="rgb(16,16,16)"/>
<rect x="1918.4" y="1485.9" width="211.5" height="71" fill="rgb(26,26,26)"/>
<rect x="2128.9" y="1485.9" width="71.2" height="71" fill="rgb(18,18,18)"/>
<rect x="2199.1" y="1485.9" width="71.2" height="71" fill="rgb(10,10,10)"/>
<rect x="1286.8" y="1555.9" width="141.4" height="71" fill="rgb(45,45,45)"/>
<rect x="1427.2" y="1555.9" width="71.2" height="71" fill="rgb(38,38,38)"/>
<rect x="1497.4" y="1555.9" width="71.2" height="71" fill="rgb(26,26,26)"/>
<rect x="1567.5" y="1555.9" width="141.4" height="71" fill="rgb(10,10,10)"/>
<rect x="1707.9" y="1555.9" width="71.2" height="71" fill="rgb(32,32,32)"/>
<rect x="1778.1" y="1555.9" width="71.2" height="71" fill="rgb(35,35,35)"/>
<rect x="1848.2" y="1555.9" width="141.4" height="71" fill="rgb(32,32,32)"/>
<rect x="1988.6" y="1555.9" width="71.2" height="71" fill="rgb(24,24,24)"/>
<rect x="2058.8" y="1555.9" width="211.5" height="71" fill="rgb(10,10,10)"/>
<rect x="1286.8" y="1626" width="211.5" height="71" fill="rgb(48,48,48)"/>
<rect x="1497.4" y="1626" width="71.2" height="71" fill="rgb(45,45,45)"/>
<rect x="1567.5" y="1626" width="71.2" height="71" fill="rgb(32,32,32)"/>
<rect x="1637.7" y="1626" width="71.2" height="71" fill="rgb(38,38,38)"/>
<rect x="1707.9" y="1626" width="71.2" height="71" fill="rgb(48,48,48)"/>
<rect x="1778.1" y="1626" width="71.2" height="71" fill="rgb(45,45,45)"/>
<rect x="1848.2" y="1626" width="141.4" height="71" fill="rgb(48,48,48)"/>
<rect x="1988.6" y="1626" width="71.2" height="71" fill="rgb(16,16,16)"/>
<rect x="2058.8" y="1626" width="211.5" height="71" fill="rgb(10,10,10)"/>
<rect x="1286.8" y="1696" width="211.5" height="71" fill="rgb(48,48,48)"/>
<rect x="1497.4" y="1696" width="71.2" height="71" fill="rgb(57,57,57)"/>
<rect x="1567.5" y="1696" width="71.2" height="71" fill="rgb(51,51,51)"/>
<rect x="1637.7" y="1696" width="71.2" height="71" fill="rgb(57,57,57)"/>
<rect x="1707.9" y="1696" width="71.2" height="71" fill="rgb(26,26,26)"/>
<rect x="1778.1" y="1696" width="71.2" height="71" fill="rgb(61,61,61)"/>
<rect x="1848.2" y="1696" width="71.2" height="71" fill="rgb(26,26,26)"/>
<rect x="1918.4" y="1696" width="71.2" height="71" fill="rgb(32,32,32)"/>
<rect x="1988.6" y="1696" width="71.2" height="71" fill="rgb(16,16,16)"/>
<rect x="2058.8" y="1696" width="141.3" height="71" fill="rgb(10,10,10)"/>
<rect x="2199.1" y="1696" width="71.2" height="71" fill="rgb(13,13,13)"/>
<rect x="1286.8" y="1766" width="141.4" height="71" fill="rgb(48,48,48)"/>
<rect x="1427.2" y="1766" width="71.2" height="71" fill="rgb(57,57,57)"/>
<rect x="1497.4" y="1766" width="141.4" height="71" fill="rgb(70,70,70)"/>
<rect x="1637.7" y="1766" width="141.4" height="71" fill="rgb(48,48,48)"/>
<rect x="1778.1" y="1766" width="71.2" height="71" fill="rgb(38,38,38)"/>
<rect x="1848.2" y="1766" width="71.2" height="71" fill="rgb(10,10,10)"/>
<rect x="1918.4" y="1766" width="211.5" height="71" fill="rgb(0,0,0)"/>
<rect x="2128.9" y="1766" width="71.2" height="71" fill="rgb(6,6,6)"/>
<rect x="2199.1" y="1766" width="71.2" height="71" fill="rgb(16,16,16)"/>
<rect x="1286.8" y="1836.1" width="71.2" height="71" fill="rgb(207,207,207)"/>
<rect x="1357" y="1836.1" width="71.2" height="71" fill="rgb(138,138,138)"/>
<rect x="1427.2" y="1836.1" width="71.2" height="71" fill="rgb(143,143,143)"/>
<rect x="1497.4" y="1836.1" width="71.2" height="71" fill="rgb(159,159,159)"/>
<rect x="1567.5" y="1836.1" width="71.2" height="71" fill="rgb(64,64,64)"/>
<rect x="1637.7" y="1836.1" width="71.2" height="71" fill="rgb(10,10,10)"/>
<rect x="1707.9" y="1836.1" width="71.2" height="71" fill="rgb(41,41,41)"/>
<rect x="1778.1" y="1836.1" width="71.2" height="71" fill="rgb(16,16,16)"/>
<rect x="1848.2" y="1836.1" width="71.2" height="71" fill="rgb(10,10,10)"/>
<rect x="1918.4" y="1836.1" width="71.2" height="71" fill="rgb(6,6,6)"/>
<rect x="1988.6" y="1836.1" width="71.2" height="71" fill="rgb(10,10,10)"/>
<rect x="2058.8" y="1836.1" width="71.2" height="71" fill="rgb(16,16,16)"/>
<rect x="2128.9" y="1836.1" width="71.2" height="71" fill="rgb(32,32,32)"/>
<rect x="2199.1" y="1836.1" width="71.2" height="71" fill="rgb(24,24,24)"/>
<rect x="1286.8" y="1906.1" width="71.2" height="71" fill="rgb(207,207,207)"/>
<rect x="1357" y="1906.1" width="71.2" height="71" fill="rgb(223,223,223)"/>
<rect x="1427.2" y="1906.1" width="71.2" height="71" fill="rgb(191,191,191)"/>
<rect x="1497.4" y="1906.1" width="71.2" height="71" fill="rgb(137,137,137)"/>
<rect x="1567.5" y="1906.1" width="71.2" height="71" fill="rgb(26,26,26)"/>
<rect x="1637.7" y="1906.1" width="71.2" height="71" fill="rgb(19,19,19)"/>
<rect x="1707.9" y="1906.1" width="71.2" height="71" fill="rgb(35,35,35)"/>
<rect x="1778.1" y="1906.1" width="71.2" height="71" fill="rgb(48,48,48)"/>
<rect x="1848.2" y="1906.1" width="71.2" height="71" fill="rgb(38,38,38)"/>
<rect x="1918.4" y="1906.1" width="71.2" height="71" fill="rgb(64,64,64)"/>
<rect x="1988.6" y="1906.1" width="71.2" height="71" fill="rgb(112,112,112)"/>
<rect x="2058.8" y="1906.1" width="71.2" height="71" fill="rgb(64,64,64)"/>
<rect x="2128.9" y="1906.1" width="141.4" height="71" fill="rgb(32,32,32)"/>
<rect x="1286.8" y="1976.1" width="141.4" height="71" fill="rgb(207,207,207)"/>
<rect x="1427.2" y="1976.1" width="71.2" height="71" fill="rgb(191,191,191)"/>
<rect x="1497.4" y="1976.1" width="71.2" height="71" fill="rgb(143,143,143)"/>
<rect x="1567.5" y="1976.1" width="71.2" height="71" fill="rgb(96,96,96)"/>
<rect x="1637.7" y="1976.1" width="71.2" height="71" fill="rgb(64,64,64)"/>
<rect x="1707.9" y="1976.1" width="71.2" height="71" fill="rgb(80,80,80)"/>
<rect x="1778.1" y="1976.1" width="71.2" height="71" fill="rgb(175,175,175)"/>
<rect x="1848.2" y="1976.1" width="71.2" height="71" fill="rgb(223,223,223)"/>
<rect x="1918.4" y="1976.1" width="71.2" height="71" fill="rgb(239,239,239)"/>
<rect x="1988.6" y="1976.1" width="71.2" height="71" fill="rgb(175,175,175)"/>
<rect x="2058.8" y="1976.1" width="71.2" height="71" fill="rgb(112,112,112)"/>
<rect x="2128.9" y="1976.1" width="71.2" height="71" fill="rgb(72,72,72)"/>
<rect x="2199.1" y="1976.1" width="71.2" height="71" fill="rgb(32,32,32)"/>
<rect x="1286.8" y="2046.2" width="211.5" height="71" fill="rgb(207,207,207)"/>
<rect x="1497.4" y="2046.2" width="71.2" height="71" fill="rgb(143,143,143)"/>
<rect x="1567.5" y="2046.2" width="71.2" height="71" fill="rgb(112,112,112)"/>
<rect x="1637.7" y="2046.2" width="141.4" height="71" fill="rgb(80,80,80)"/>
<rect x="1778.1" y="2046.2" width="71.2" height="71" fill="rgb(175,175,175)"/>
<rect x="1848.2" y="2046.2" width="71.2" height="71" fill="rgb(223,223,223)"/>
<rect x="1918.4" y="2046.2" width="71.2" height="71" fill="rgb(231,231,231)"/>
<rect x="1988.6" y="2046.2" width="71.2" height="71" fill="rgb(239,239,239)"/>
<rect x="2058.8" y="2046.2" width="71.2" height="71" fill="rgb(175,175,175)"/>
<rect x="2128.9" y="2046.2" width="71.2" height="71" fill="rgb(112,112,112)"/>
<rect x="2199.1" y="2046.2" width="71.2" height="71" fill="rgb(72,72,72)"/>
<rect x="1286.8" y="2116.2" width="71.2" height="71" fill="rgb(239,239,239)"/>
<rect x="1357" y="2116.2" width="141.4" height="71" fill="rgb(223,223,223)"/>
<rect x="1497.4" y="2116.2" width="71.2" height="71" fill="rgb(159,159,159)"/>
<rect x="1567.5" y="2116.2" width="71.2" height="71" fill="rgb(128,128,128)"/>
<rect x="1637.7" y="2116.2" width="71.2" height="71" fill="rgb(96,96,96)"/>
<rect x="1707.9" y="2116.2" width="71.2" height="71" fill="rgb(80,80,80)"/>
<rect x="1778.1" y="2116.2" width="71.2" height="71" fill="rgb(128,128,128)"/>
<rect x="1848.2" y="2116.2" width="141.4" height="71" fill="rgb(223,223,223)"/>
<rect x="1988.6" y="2116.2" width="71.2" height="71" fill="rgb(231,231,231)"/>
<rect x="2058.8" y="2116.2" width="71.2" height="71" fill="rgb(239,239,239)"/>
<rect x="2128.9" y="2116.2" width="71.2" height="71" fill="rgb(175,175,175)"/>
<rect x="2199.1" y="2116.2" width="71.2" height="71" fill="rgb(112,112,112)"/>
<rect x="1286.8" y="2186.2" width="71.2" height="71" fill="rgb(255,255,255)"/>
<rect x="1357" y="2186.2" width="71.2" height="71" fill="rgb(239,239,239)"/>
<rect x="1427.2" y="2186.2" width="71.2" height="71" fill="rgb(207,207,207)"/>
<rect x="1497.4" y="2186.2" width="71.2" height="71" fill="rgb(175,175,175)"/>
<rect x="1567.5" y="2186.2" width="71.2" height="71" fill="rgb(128,128,128)"/>
<rect x="1637.7" y="2186.2" width="71.2" height="71" fill="rgb(112,112,112)"/>
<rect x="1707.9" y="2186.2" width="71.2" height="71" fill="rgb(96,96,96)"/>
<rect x="1778.1" y="2186.2" width="71.2" height="71" fill="rgb(80,80,80)"/>
<rect x="1848.2" y="2186.2" width="71.2" height="71" fill="rgb(151,151,151)"/>
<rect x="1918.4" y="2186.2" width="141.3" height="71" fill="rgb(223,223,223)"/>
<rect x="2058.8" y="2186.2" width="71.2" height="71" fill="rgb(231,231,231)"/>
<rect x="2128.9" y="2186.2" width="71.2" height="71" fill="rgb(239,239,239)"/>
<rect x="2199.1" y="2186.2" width="71.2" height="71" fill="rgb(175,175,175)"/>
<rect x="1286.8" y="2256.2" width="71.2" height="71" fill="rgb(255,255,255)"/>
<rect x="1357" y="2256.2" width="71.2" height="71" fill="rgb(239,239,239)"/>
<rect x="1427.2" y="2256.2" width="71.2" height="71" fill="rgb(207,207,207)"/>
<rect x="1497.4" y="2256.2" width="71.2" height="71" fill="rgb(191,191,191)"/>
<rect x="1567.5" y="2256.2" width="71.2" height="71" fill="rgb(159,159,159)"/>
<rect x="1637.7" y="2256.2" width="71.2" height="71" fill="rgb(135,135,135)"/>
<rect x="1707.9" y="2256.2" width="71.2" height="71" fill="rgb(112,112,112)"/>
<rect x="1778.1" y="2256.2" width="71.2" height="71" fill="rgb(96,96,96)"/>
<rect x="1848.2" y="2256.2" width="71.2" height="71" fill="rgb(80,80,80)"/>
<rect x="1918.4" y="2256.2" width="71.2" height="71" fill="rgb(151,151,151)"/>
<rect x="1988.6" y="2256.2" width="141.4" height="71" fill="rgb(223,223,223)"/>
<rect x="2128.9" y="2256.2" width="71.2" height="71" fill="rgb(231,231,231)"/>
<rect x="2199.1" y="2256.2" width="71.2" height="71" fill="rgb(239,239,239)"/>
<rect x="1286.8" y="2326.3" width="71.2" height="71" fill="rgb(255,255,255)"/>
<rect x="1357" y="2326.3" width="71.2" height="71" fill="rgb(223,223,223)"/>
<rect x="1427.2" y="2326.3" width="71.2" height="71" fill="rgb(207,207,207)"/>
<rect x="1497.4" y="2326.3" width="71.2" height="71" fill="rgb(191,191,191)"/>
<rect x="1567.5" y="2326.3" width="141.4" height="71" fill="rgb(143,143,143)"/>
<rect x="1707.9" y="2326.3" width="71.2" height="71" fill="rgb(128,128,128)"/>
<rect x="1778.1" y="2326.3" width="71.2" height="71" fill="rgb(112,112,112)"/>
<rect x="1848.2" y="2326.3" width="71.2" height="71" fill="rgb(96,96,96)"/>
<rect x="1918.4" y="2326.3" width="71.2" height="71" fill="rgb(80,80,80)"/>
<rect x="1988.6" y="2326.3" width="71.2" height="71" fill="rgb(151,151,151)"/>
<rect x="2058.8" y="2326.3" width="141.3" height="71" fill="rgb(223,223,223)"/>
<rect x="2199.1" y="2326.3" width="71.2" height="71" fill="rgb(231,231,231)"/>
</g>
<ellipse cx="1353.3" cy="2256.8" rx="70.2" ry="87.5" fill="url(#g20)" opacity="0.95"/>
<ellipse cx="1918.9" cy="2039.6" rx="78.9" ry="61.3" fill="url(#g20)" opacity="0.95"/>
<ellipse cx="1497.9" cy="1899.6" rx="38.6" ry="52.5" fill="url(#g16)" opacity="0.8"/>
<ellipse cx="2024.2" cy="1941.6" rx="35.1" ry="26.3" fill="url(#g10)" opacity="0.9"/>
<ellipse cx="2021.4" cy="1836.6" rx="122.8" ry="70" fill="url(#g0)" opacity="0.8"/>
</g></g>
<path d="M1463.8 1505.1L1504.1 1501.1L1510.6 1507.4L1514.1 1520.7L1526.2 1527.3L1524.2 1542.8L1517.1 1555.8L1526.2 1562.8L1526.2 1573.9L1548.4 1575.9L1572.5 1573.9L1579.2 1564.8L1596.7 1555.8L1616.8 1544.8L1646 1531.7L1661.6 1527.7L1667.2 1536.3L1673.9 1551.8L1686.3 1551.8L1690.3 1542.8L1703.9 1533.7L1715.1 1522.7L1726.3 1521.7L1735.1 1527.3L1748.7 1528.4L1757.4 1529.7L1772.9 1527.3L1786.4 1520.7L1795 1519.7L1795 1502.6L1783.9 1494L1797.5 1491.6L1799.8 1471.5L1804.1 1464.1L1817.6 1457.5L1835.3 1454.1L1868.5 1456.5L1869.9 1445.2L1884.3 1439.4L1919.9 1436.4L1933.4 1443L1940 1454.1L1951.1 1463L1960.1 1480.6L1955.6 1487.6L1964.6 1498.6L1975.2 1513.7L1986.3 1511.7L1996.4 1518.7L1997.4 1533.7L2001.9 1540.8L1995.4 1551.8L1988.3 1553.8L1977.3 1564.8L1997.4 1584.9L1996.4 1598.4L2004.2 1616L2010.9 1617L2042.1 1613L2064.3 1614L2068.9 1610.6L2080 1618L2100.1 1620.5L2126.7 1618L2129 1625.1L2120 1634.1L2108.8 1642.8L2100.1 1651.6L2086.6 1654.2L2088.8 1660.2L2096.7 1662.8L2091 1669.2L2082 1673.8L2077.7 1685L2080 1696.1L2093 1702.3L2106.6 1711.4L2117.8 1720.4L2133.3 1728.4L2170.6 1726.4L2176.6 1734.4L2176.6 1745.5L2183.3 1758.5L2189.7 1772L2200.8 1776.6L2203.3 1789.6L2212.2 1798.7L2214.5 1807.7L2205.6 1807.7L2187.7 1811.7L2172.2 1816.4L2167.5 1829.8L2156.5 1831.8L2145.4 1840.8L2138.8 1858.6L2134.3 1871.9L2136.3 1882.9L2125.3 1894L2114.2 1900.7L2100.9 1911.8L2085.3 1920.8L2069.7 1925.1L2049.7 1923.1L2036.3 1929.6L2031.6 1938.5L2038.5 1945.2L2029.6 1954L2022.9 1952.9L2014 1947.2L2002.8 1943L1991.8 1940.7L1982.8 1931.8L1976.1 1923L1969.2 1916.1L1958.1 1910.7L1943.6 1919.1L1932.5 1932.7L1934.7 1943.9L1941.4 1950.2L1934.7 1957.2L1918.9 1963.8L1907.8 1970.2L1916.8 1974.9L1916.8 1986L1905.8 1988.3L1903.6 2006L1910.2 2014.9L1918.9 2025.9L1930.2 2030.5L1945.8 2028.1L1943.6 2037.1L1932.5 2045.5L1921.4 2059.3L1910.2 2070.4L1894.7 2074.6L1888 2085.6L1881.2 2096.7L1872.3 2103.7L1845.4 2103.7L1796.6 2103.7L1787.7 2105.7L1778.9 2116.8L1765.4 2127.8L1754.2 2136.8L1738.6 2147.9L1732 2153.6L1723.1 2145.9L1716.5 2143.6L1712 2152.5L1705.3 2156.9L1709.7 2163.6L1696.4 2167.9L1678.5 2173.7L1667.2 2179L1669.7 2185.8L1662.9 2194.7L1651.9 2210.1L1640.7 2225.7L1629.5 2243.2L1620.2 2249.8L1602.4 2261L1586.6 2272.1L1575.5 2287.3L1573.5 2296.4L1580.2 2307.4L1591.3 2318.5L1600.2 2327.5L1598 2338.5L1586.6 2347.6L1575.5 2347.6L1566.8 2338.5L1555.4 2336.5L1540.1 2345.3L1533.3 2350.6L1522.2 2353.1L1513.1 2343L1497.8 2343L1479.9 2343L1466.6 2336.5L1450.7 2329.5L1433.2 2325.3L1415.5 2323.1L1399.7 2318.5L1386.3 2312L1364.1 2309.4L1353 2305.4L1337.4 2296.4L1328.5 2287.3L1330.7 2280.9L1319.6 2269.8L1317.3 2261L1334.9 2256.2L1346.3 2249.8L1348.5 2241L1359.7 2234.2L1361.9 2225.1L1359.7 2207.7L1366.1 2196.5L1377.2 2183L1384.2 2169.9L1395.3 2154.4L1406.4 2138.8L1404.2 2129.8L1393.1 2118.8L1388.3 2105.5L1384.2 2089.7L1377.2 2078.6L1370.8 2067.3L1359.6 2058.4L1344 2051.5L1332.9 2045.1L1326.2 2031.5L1330.6 2020.4L1330.6 2009.4L1334.9 2000.4L1344 1989.3L1355 1982.9L1366.1 1974.1L1370.8 1962.9L1359.6 1956.2L1361.8 1945.2L1377.2 1934.1L1390.8 1925.1L1399.6 1925.1L1410.8 1934.1L1426.4 1931.8L1442 1927.1L1444.2 1916.1L1457.5 1914.1L1453.1 1907L1455.3 1896L1459.8 1882.9L1466.5 1869.7L1466.5 1859.7L1452 1853.8L1450.7 1836.4L1450.7 1820.7L1439.6 1825.2L1426.4 1820.7L1417.5 1813.1L1401.9 1811.7L1395.3 1803.1L1379.6 1798.7L1386.3 1793.1L1395.3 1789.6L1401.9 1776.6L1413 1776.6L1426.4 1770.6L1444.2 1767.5L1459.8 1760.9L1464.3 1754.2L1448.7 1748.5L1435.3 1745.5L1430.9 1734.4L1421.9 1716.4L1408.1 1698.3L1399.3 1685.3L1388.3 1667.2L1374.7 1654.2L1367.1 1648.1L1374.7 1640.6L1390.3 1629.1L1380.2 1619.5L1383.2 1609.5L1374.7 1602L1397 1588.4L1421.5 1588.4L1425.5 1582.9L1423.5 1564.8L1420.5 1551.8L1439.6 1528.7L1456.7 1520.7Z" fill="none" stroke="#5a4a4a" stroke-width="1" stroke-opacity=".75" stroke-linejoin="round"/>
<path d="M1761.3 1655.1L1768 1664L1772.4 1670.6L1781.2 1677.3L1792.3 1686.1L1798.9 1692.7L1805.6 1701.6L1814.4 1706L1836.5 1706L1858.7 1707.1L1876.4 1708.2L1885.2 1710.4L1869.7 1714.9L1869.7 1719.3L1856.4 1723.7L1847.6 1725.9L1845.4 1734.8L1847.6 1743.6L1849.8 1754.7L1856.4 1761.3L1865.3 1768L1869.7 1772.4L1865.3 1779L1856.4 1781.2L1845.4 1787.9L1836.5 1792.3L1825.5 1792.3L1810 1796.7L1796.7 1794.5L1785.7 1796.7L1781.2 1803.4L1781.2 1814.4L1787.9 1821.1L1798.9 1825.5L1803.4 1832.1L1801.1 1838.8L1805.6 1845.4L1798.9 1849.8L1787.9 1856.5L1772.4 1856.5L1759.1 1855.4L1752.5 1858.7L1745.8 1865.3L1737 1869.7L1728.1 1871.9L1723.7 1876.4L1714.9 1874.2L1708.2 1867.5L1706 1860.9L1692.7 1859.8L1670.6 1859.8L1657.3 1863.1L1652.9 1867.5L1644.1 1869.7L1635.2 1865.3L1626.4 1858.7L1617.5 1856.5L1604.2 1854.3L1599.8 1845.4L1595.4 1834.3L1599.8 1829.9L1604.2 1821.1L1597.6 1812.2L1593.2 1805.6L1595.4 1798.9L1604.2 1792.3L1615.3 1787.9L1626.4 1783.5L1639.6 1781.2L1648.5 1779L1655.1 1772.4L1664 1765.8L1666.2 1759.1L1659.6 1752.5L1652.9 1743.6L1644.1 1739.2L1637.4 1732.6L1639.6 1723.7L1648.5 1721.5L1659.6 1714.9L1675 1717.1L1686.1 1712.7L1697.2 1703.8L1706 1697.2L1719.3 1692.7L1728.1 1690.5L1737 1688.3L1732.6 1679.5L1723.7 1675L1728.1 1668.4L1741.4 1664L1754.7 1661.8L1761.3 1655.1" fill="none" stroke="#c8463c" stroke-width="1.1" stroke-opacity=".75" stroke-linejoin="round"/>
<path d="M1869.7 1772.4L1880.8 1770.2L1891.8 1772.4L1900.7 1779L1909.5 1785.7L1920.6 1792.3L1922.8 1801.2L1914 1803.4L1896.3 1803.4L1887.4 1805.6L1885.2 1814.4L1889.6 1825.5L1891.8 1836.6L1898.5 1845.4L1905.1 1854.3L1911.8 1863.1L1920.6 1865.3L1940.5 1863.1L1940.5 1874.2L1936.1 1885.2L1933.9 1894.1L1944.9 1900.7L1960 1905.1L1958.2 1910.8" fill="none" stroke="#c8463c" stroke-width="1.1" stroke-opacity=".75" stroke-linejoin="round"/>
<path d="M1836.5 1792.3L1834.3 1803.4L1836.5 1814.4L1836.5 1825.5L1836.5 1836.6L1834.3 1854.3L1821 1855.4L1805.6 1845.4" fill="none" stroke="#c8463c" stroke-width="1.1" stroke-opacity=".75" stroke-linejoin="round"/>
<path d="M1787.9 1856.5L1783.4 1865.3L1787.9 1876.4L1790.1 1887.4L1794.5 1900.7L1798.8 1906L1796.6 1917.1L1783.2 1928.2L1776.6 1943.8L1774.3 1961.5L1778.8 1970.4L1796.6 1977.1L1818.9 1983.7L1823.3 1990.4L1827.8 1999.3L1845.6 1997.1L1850.1 2001.5L1863.4 2003.7L1879 1995.9L1901.3 1994.8L1908 2005.9" fill="none" stroke="#c8463c" stroke-width="1.1" stroke-opacity=".75" stroke-linejoin="round"/>
<path d="M1660.4 1754.3L1651.1 1743.8M1655.9 1744.9L1651.1 1743.8L1651.7 1748.6L1652.6 1745.4ZM1656.8 1720.9L1654.7 1707.1M1658.1 1710.6L1654.7 1707.1L1652.5 1711.5L1655 1709.3ZM1691.2 1721L1690.5 1707M1693.5 1710.9L1690.5 1707L1687.9 1711.1L1690.6 1709.2Z" fill="#000" fill-opacity=".7" stroke="#06061c" stroke-opacity=".92" stroke-width="0.9" stroke-linejoin="miter"/>
<path d="M1349 2033.5L1331 2024.8M1337 2023.7L1331 2024.8L1333.9 2030.2L1333.4 2026ZM1384.5 2271L1365.6 2277.5M1369.2 2272.5L1365.6 2277.5L1371.5 2279.3L1368.2 2276.6ZM1384.7 2236.5L1365.4 2242M1369.3 2237.2L1365.4 2242L1371.2 2244.1L1368.1 2241.2ZM1385.1 2204.1L1365.1 2204.4M1370 2200.7L1365.1 2204.4L1370.1 2207.9L1367.8 2204.3ZM1383.8 2069L1366.3 2059.4M1372.4 2058.6L1366.3 2059.4L1368.9 2064.9L1368.7 2060.7ZM1384.3 2032.9L1365.8 2025.4M1371.8 2023.9L1365.8 2025.4L1369.1 2030.6L1368.3 2026.4ZM1384.4 1997.7L1365.7 1990.5M1371.7 1989L1365.7 1990.5L1369.1 1995.7L1368.3 1991.5ZM1382 1966.3L1368.1 1951.9M1374.2 1953L1368.1 1951.9L1369 1958L1370 1953.9ZM1419.3 2270.3L1400.9 2278.2M1404.1 2272.9L1400.9 2278.2L1407 2279.5L1403.5 2277.1ZM1420.1 2240L1400.2 2238.5M1405.4 2235.3L1400.2 2238.5L1404.9 2242.5L1402.9 2238.7ZM1419.9 2206.4L1400.4 2202.1M1406 2199.6L1400.4 2202.1L1404.5 2206.7L1403.1 2202.7ZM1419.8 2171.8L1400.5 2166.6M1406.3 2164.4L1400.5 2166.6L1404.4 2171.4L1403.1 2167.3ZM1419.5 2130.7L1400.8 2137.7M1404.2 2132.6L1400.8 2137.7L1406.7 2139.3L1403.3 2136.7ZM1418.9 2094.3L1401.4 2104M1404 2098.4L1401.4 2104L1407.5 2104.7L1403.8 2102.7ZM1419.9 2061.9L1400.4 2066.5M1404.5 2061.8L1400.4 2066.5L1406.1 2068.8L1403.1 2065.8ZM1420.1 2030.4L1400.2 2027.9M1405.6 2025L1400.2 2027.9L1404.7 2032.1L1402.9 2028.3ZM1417.9 2000.5L1402.4 1987.8M1408.6 1988.2L1402.4 1987.8L1404 1993.7L1404.6 1989.5ZM1454.3 2235L1436.2 2243.5M1439.2 2238.1L1436.2 2243.5L1442.2 2244.6L1438.7 2242.3ZM1455.2 2203.6L1435.3 2204.9M1440 2201L1435.3 2204.9L1440.5 2208.1L1438 2204.7ZM1454.7 2172.3L1435.7 2166.1M1441.6 2164.2L1435.7 2166.1L1439.4 2171.1L1438.3 2167ZM1455 2132.3L1435.4 2136.1M1439.6 2131.6L1435.4 2136.1L1441 2138.7L1438.1 2135.6ZM1454 2094.3L1436.5 2104M1439.1 2098.5L1436.5 2104L1442.6 2104.7L1438.9 2102.7ZM1454.6 2060.8L1435.8 2067.5M1439.3 2062.4L1435.8 2067.5L1441.7 2069.2L1438.4 2066.6ZM1455.2 2029.3L1435.2 2028.9M1440.3 2025.4L1435.2 2028.9L1440.2 2032.6L1438 2029ZM1454.7 1997.3L1435.8 1990.9M1441.7 1989.1L1435.8 1990.9L1439.3 1995.9L1438.4 1991.8ZM1444.1 1794L1446.4 1774.1M1449.4 1779.5L1446.4 1774.1L1442.2 1778.6L1446.1 1776.8ZM1488.6 2163.6L1472.1 2174.9M1474.2 2169.1L1472.1 2174.9L1478.2 2175L1474.3 2173.3ZM1489.8 2026L1470.8 2032.3M1474.4 2027.3L1470.8 2032.3L1476.7 2034.1L1473.4 2031.4ZM1489.5 1998.1L1471.2 1990.1M1477.2 1988.8L1471.2 1990.1L1474.3 1995.4L1473.7 1991.2ZM1479.9 1794L1480.8 1774M1484.1 1779.2L1480.8 1774L1477 1778.9L1480.7 1776.8ZM1522.3 2162L1508.5 2176.5M1509.4 2170.4L1508.5 2176.5L1514.6 2175.3L1510.4 2174.5ZM1524.6 2025.1L1506.2 2033.1M1509.4 2027.8L1506.2 2033.1L1512.3 2034.4L1508.8 2032ZM1525.3 1992.8L1505.5 1995.5M1510 1991.2L1505.5 1995.5L1510.9 1998.4L1508.2 1995.1ZM1517.3 1793.8L1513.5 1774.2M1518 1778.4L1513.5 1774.2L1510.9 1779.8L1514 1776.9ZM1519.3 1758.2L1511.5 1739.8M1516.8 1743L1511.5 1739.8L1510.1 1745.8L1512.6 1742.3ZM1519.1 1723.3L1511.8 1704.7M1516.9 1708L1511.8 1704.7L1510.2 1710.6L1512.8 1707.2ZM1560.5 1993.7L1540.5 1994.5M1545.4 1990.7L1540.5 1994.5L1545.6 1997.9L1543.2 1994.4ZM1558.8 1964.7L1542.2 1953.5M1548.4 1953.3L1542.2 1953.5L1544.3 1959.3L1544.5 1955ZM1553.4 1793.6L1547.6 1774.4M1552.5 1778.2L1547.6 1774.4L1545.6 1780.3L1548.4 1777.1ZM1555.1 1757.9L1545.9 1740.1M1551.4 1742.9L1545.9 1740.1L1545 1746.2L1547.2 1742.6ZM1554.7 1723.1L1546.3 1704.9M1551.7 1707.9L1546.3 1704.9L1545.1 1711L1547.5 1707.4ZM1594.5 1963.7L1576.7 1954.5M1582.8 1953.6L1576.7 1954.5L1579.5 1960L1579.1 1955.8ZM1589.3 1933.4L1581.9 1914.8M1587.1 1918.1L1581.9 1914.8L1580.4 1920.8L1582.9 1917.4ZM1593.9 1789.6L1577.3 1778.5M1583.4 1778.3L1577.3 1778.5L1579.4 1784.2L1579.5 1780ZM1593.4 1755.3L1577.8 1742.7M1583.9 1743.1L1577.8 1742.7L1579.4 1748.7L1579.9 1744.5ZM1591.7 1721.9L1579.5 1706M1585.4 1707.8L1579.5 1706L1579.7 1712.2L1581.2 1708.2ZM1629.7 1989.8L1611.7 1998.5M1614.6 1993.1L1611.7 1998.5L1617.7 1999.5L1614.1 1997.3ZM1630.6 1958.4L1610.7 1959.9M1615.4 1955.9L1610.7 1959.9L1615.9 1963.1L1613.4 1959.6ZM1627.1 1931.7L1614.2 1916.5M1620.2 1917.9L1614.2 1916.5L1614.7 1922.6L1616 1918.6ZM1628.8 1789.8L1612.5 1778.2M1618.7 1778.2L1612.5 1778.2L1614.5 1784L1614.8 1779.8ZM1628.7 1754.9L1612.6 1743.1M1618.8 1743.2L1612.6 1743.1L1614.5 1749L1614.8 1744.7ZM1626.5 1722.1L1614.8 1705.9M1620.6 1707.8L1614.8 1705.9L1614.8 1712.1L1616.4 1708.1ZM1664.4 1954.1L1647.1 1964.1M1649.6 1958.5L1647.1 1964.1L1653.2 1964.7L1649.5 1962.8ZM1665.5 1926.5L1646 1921.7M1651.8 1919.4L1646 1921.7L1650 1926.4L1648.7 1922.4ZM1659.4 1898.4L1652.1 1879.8M1657.3 1883.1L1652.1 1879.8L1650.6 1885.8L1653.1 1882.3ZM1660.6 1827.8L1650.9 1810.3M1656.5 1812.9L1650.9 1810.3L1650.2 1816.4L1652.3 1812.7ZM1665.6 1785.6L1645.9 1782.5M1651.4 1779.7L1645.9 1782.5L1650.3 1786.8L1648.6 1782.9ZM1700.8 1924.6L1680.9 1923.5M1686 1920.2L1680.9 1923.5L1685.7 1927.4L1683.6 1923.7ZM1695.5 1897.9L1686.2 1880.2M1691.7 1883L1686.2 1880.2L1685.3 1886.3L1687.5 1882.7ZM1696.1 1827.6L1685.6 1810.5M1691.3 1812.9L1685.6 1810.5L1685.2 1816.7L1687 1812.9ZM1696 1792.6L1685.7 1775.5M1691.4 1777.9L1685.7 1775.5L1685.2 1781.6L1687.1 1777.8ZM1694 1758.5L1687.7 1739.5M1692.7 1743.1L1687.7 1739.5L1685.9 1745.4L1688.6 1742.1ZM1735.1 1920L1716.8 1928.2M1719.9 1922.8L1716.8 1928.2L1722.8 1929.4L1719.3 1927ZM1734.6 1894.1L1717.3 1884M1723.4 1883.4L1717.3 1884L1719.8 1889.7L1719.7 1885.4ZM1732.4 1861.6L1719.4 1846.5M1725.4 1847.9L1719.4 1846.5L1719.9 1852.6L1721.2 1848.6ZM1733.5 1825.5L1718.3 1812.6M1724.5 1813.1L1718.3 1812.6L1719.8 1818.5L1720.4 1814.3ZM1731 1792.7L1720.9 1775.4M1726.5 1777.9L1720.9 1775.4L1720.3 1781.5L1722.3 1777.8ZM1724.1 1758.8L1727.7 1739.2M1730.4 1744.7L1727.7 1739.2L1723.3 1743.4L1727.2 1741.9ZM1722.9 1723.5L1728.9 1704.4M1730.9 1710.3L1728.9 1704.4L1724 1708.1L1728.1 1707.1ZM1770.9 1887.7L1751.1 1890.5M1755.6 1886.2L1751.1 1890.5L1756.6 1893.3L1753.8 1890.1ZM1771 1854.9L1751.1 1853.2M1756.3 1850.1L1751.1 1853.2L1755.7 1857.2L1753.8 1853.5ZM1769.4 1824.4L1752.6 1813.7M1758.7 1813.3L1752.6 1813.7L1754.9 1819.4L1754.9 1815.1ZM1763.3 1793.8L1758.7 1774.3M1763.4 1778.3L1758.7 1774.3L1756.4 1780L1759.4 1777ZM1762.3 1758.9L1759.8 1739.1M1764 1743.6L1759.8 1739.1L1756.8 1744.5L1760.1 1741.8ZM1760.5 1724L1761.5 1704M1764.9 1709.2L1761.5 1704L1757.7 1708.8L1761.4 1706.8ZM1759.3 1688.8L1762.7 1669.1M1765.4 1674.7L1762.7 1669.1L1758.3 1673.4L1762.3 1671.8ZM1759.5 1653.8L1762.5 1634.1M1765.3 1639.6L1762.5 1634.1L1758.2 1638.5L1762.1 1636.8ZM1805 1884.5L1787.2 1893.7M1790 1888.2L1787.2 1893.7L1793.3 1894.6L1789.7 1892.4ZM1805.6 1850.9L1786.6 1857.2M1790.2 1852.2L1786.6 1857.2L1792.5 1859.1L1789.2 1856.4ZM1805 1823.6L1787.2 1814.5M1793.3 1813.6L1787.2 1814.5L1790 1820L1789.6 1815.8ZM1805.9 1785.9L1786.3 1782.1M1791.9 1779.5L1786.3 1782.1L1790.5 1786.6L1789 1782.7ZM1800 1758.2L1792.2 1739.8M1797.5 1743L1792.2 1739.8L1790.8 1745.8L1793.3 1742.3ZM1797.3 1723.9L1794.9 1704.1M1799.1 1708.6L1794.9 1704.1L1791.9 1709.4L1795.3 1706.8ZM1838.3 1847L1824.1 1861.1M1825.1 1855L1824.1 1861.1L1830.2 1860.1L1826 1859.1ZM1838.8 1812.6L1823.5 1825.5M1825.1 1819.5L1823.5 1825.5L1829.7 1825L1825.7 1823.7ZM1841 1782.2L1821.4 1785.9M1825.6 1781.4L1821.4 1785.9L1826.9 1788.5L1824.1 1785.4ZM1841.2 1748.8L1821.2 1749.2M1826.1 1745.5L1821.2 1749.2L1826.3 1752.7L1823.9 1749.2ZM1841.1 1715.1L1821.3 1712.9M1826.6 1709.9L1821.3 1712.9L1825.8 1717L1824 1713.2ZM1834.4 1688.5L1828 1669.5M1833 1673.1L1828 1669.5L1826.2 1675.4L1828.9 1672.1ZM1833.2 1653.8L1829.2 1634.2M1833.7 1638.3L1829.2 1634.2L1826.7 1639.8L1829.8 1636.8ZM1875.9 1821.7L1856.6 1816.4M1862.4 1814.3L1856.6 1816.4L1860.5 1821.2L1859.3 1817.1ZM1876 1786.3L1856.6 1781.7M1862.3 1779.4L1856.6 1781.7L1860.6 1786.4L1859.2 1782.3ZM1876.3 1748.9L1856.3 1749.1M1861.2 1745.5L1856.3 1749.1L1861.3 1752.7L1859 1749.1ZM1876.3 1714L1856.3 1714M1861.3 1710.4L1856.3 1714L1861.3 1717.6L1859 1714ZM1875.9 1681.9L1856.7 1676.1M1862.5 1674.1L1856.7 1676.1L1860.5 1681L1859.3 1676.9ZM1868.2 1653.8L1864.3 1634.1M1868.8 1638.4L1864.3 1634.1L1861.8 1639.8L1864.9 1636.8ZM1911.4 1818.8L1891.4 1819.2M1896.3 1815.5L1891.4 1819.2L1896.4 1822.7L1894.1 1819.2ZM1910.2 1788.7L1892.5 1779.3M1898.7 1778.5L1892.5 1779.3L1895.3 1784.8L1895 1780.6ZM1909.1 1755.3L1893.6 1742.7M1899.7 1743.1L1893.6 1742.7L1895.2 1748.7L1895.7 1744.4ZM1909.1 1720.3L1893.6 1707.7M1899.8 1708L1893.6 1707.7L1895.2 1713.6L1895.8 1709.4ZM1909.4 1685L1893.4 1673M1899.5 1673.1L1893.4 1673L1895.2 1678.9L1895.6 1674.6ZM1906.2 1652.7L1896.5 1635.2M1902.1 1637.8L1896.5 1635.2L1895.8 1641.3L1897.9 1637.6ZM1946.3 1817.3L1926.6 1820.7M1930.9 1816.3L1926.6 1820.7L1932.1 1823.4L1929.3 1820.3ZM1944.4 1790.1L1928.5 1778M1934.7 1778.1L1928.5 1778L1930.3 1783.9L1930.7 1779.6ZM1942.7 1756.8L1930.2 1741.2M1936.1 1742.9L1930.2 1741.2L1930.5 1747.4L1931.9 1743.4ZM1942.9 1721.6L1930 1706.3M1936 1707.8L1930 1706.3L1930.5 1712.5L1931.8 1708.4ZM1944.7 1684.6L1928.2 1673.3M1934.4 1673.2L1928.2 1673.3L1930.3 1679.1L1930.5 1674.9ZM1941.4 1652.6L1931.5 1635.3M1937.1 1637.8L1931.5 1635.3L1930.8 1641.4L1932.9 1637.7ZM1980.5 1779.5L1962.6 1788.6M1965.5 1783.1L1962.6 1788.6L1968.7 1789.5L1965.1 1787.3ZM1979.1 1755.6L1964 1742.4M1970.2 1743L1964 1742.4L1965.4 1748.4L1966.1 1744.2ZM1976.5 1722.7L1966.6 1705.3M1972.2 1707.9L1966.6 1705.3L1965.9 1711.5L1967.9 1707.7ZM1977.8 1686.8L1965.3 1671.1M1971.3 1672.8L1965.3 1671.1L1965.6 1677.3L1967 1673.3ZM1975 1653.3L1968.1 1634.6M1973.2 1638L1968.1 1634.6L1966.4 1640.5L1969 1637.2ZM1969.8 1618.8L1973.2 1599.1M1975.9 1604.6L1973.2 1599.1L1968.8 1603.4L1972.8 1601.8ZM1968.7 1583.5L1974.4 1564.3M1976.4 1570.2L1974.4 1564.3L1969.5 1568.1L1973.6 1567ZM2015.2 1778.9L1998 1789.1M2000.5 1783.5L1998 1789.1L2004.2 1789.7L2000.4 1787.7ZM2016.5 1750.5L1996.7 1747.5M2002.2 1744.7L1996.7 1747.5L2001.2 1751.8L1999.5 1747.9ZM2014.1 1720.6L1999.1 1707.4M2005.2 1708L1999.1 1707.4L2000.5 1713.4L2001.2 1709.2ZM2012.8 1686.8L2000.5 1671.1M2006.4 1672.8L2000.5 1671.1L2000.7 1677.3L2002.2 1673.3ZM2009.5 1653.6L2003.8 1634.4M2008.7 1638.1L2003.8 1634.4L2001.8 1640.2L2004.6 1637ZM2051 1745.3L2032.4 1752.7M2035.7 1747.5L2032.4 1752.7L2038.4 1754.2L2035 1751.7ZM2051.7 1714.3L2031.7 1713.7M2036.8 1710.2L2031.7 1713.7L2036.6 1717.4L2034.5 1713.8ZM2049.1 1685.8L2034.4 1672.2M2040.5 1672.9L2034.4 1672.2L2035.6 1678.2L2036.4 1674.1ZM2086.7 1715.6L2066.9 1712.4M2072.5 1709.6L2066.9 1712.4L2071.3 1716.7L2069.7 1712.8ZM2082.9 1686.9L2070.7 1671.1M2076.6 1672.8L2070.7 1671.1L2070.9 1677.2L2072.4 1673.2Z" fill="#000" fill-opacity=".7" stroke="#06061c" stroke-opacity=".92" stroke-width="1.0" stroke-linejoin="miter"/>
<path d="M1351.8 2272.4L1328.1 2276.1M1333.3 2270.7L1328.1 2276.1L1334.7 2279.6L1331.4 2275.6ZM1420.1 2302.6L1400.2 2315.9M1402.7 2308.9L1400.2 2315.9L1407.7 2316.4L1402.9 2314.1ZM1414.5 1970.3L1405.8 1947.9M1412.1 1951.9L1405.8 1947.9L1403.8 1955.2L1407 1951ZM1405 1794.9L1415.3 1773.2M1416.8 1780.5L1415.3 1773.2L1408.6 1776.7L1413.9 1776.2ZM1453.7 2300.7L1436.8 2317.8M1437.8 2310.4L1436.8 2317.8L1444.2 2316.7L1439.1 2315.5ZM1452.8 2264.9L1437.7 2283.6M1438 2276.1L1437.7 2283.6L1444.9 2281.8L1439.8 2281ZM1450.4 1969.9L1440.1 1948.3M1446.7 1951.8L1440.1 1948.3L1438.6 1955.6L1441.5 1951.3ZM1437.7 1828.4L1452.7 1809.7M1452.5 1817.2L1452.7 1809.7L1445.5 1811.5L1450.7 1812.3ZM1444.7 1726L1445.7 1702M1450 1708.2L1445.7 1702L1441 1707.8L1445.6 1705.3ZM1485.5 2298.5L1475.1 2320.1M1473.7 2312.7L1475.1 2320.1L1481.8 2316.6L1476.5 2317.1ZM1486.9 2264.2L1473.7 2284.3M1473.3 2276.8L1473.7 2284.3L1480.8 2281.7L1475.5 2281.5ZM1489.6 2231.6L1471.1 2246.9M1472.8 2239.6L1471.1 2246.9L1478.5 2246.5L1473.6 2244.8ZM1490.1 2197.3L1470.5 2211.2M1472.8 2204L1470.5 2211.2L1478 2211.4L1473.2 2209.3ZM1489.2 2126.1L1471.4 2142.3M1472.9 2134.9L1471.4 2142.3L1478.9 2141.6L1473.9 2140ZM1488.2 2090.2L1472.4 2108.2M1473 2100.7L1472.4 2108.2L1479.7 2106.7L1474.6 2105.7ZM1490.5 2057.8L1470.2 2070.6M1472.8 2063.6L1470.2 2070.6L1477.6 2071.2L1473 2068.8ZM1486 1969.7L1474.6 1948.6M1481.4 1951.7L1474.6 1948.6L1473.5 1956L1476.2 1951.5ZM1480.9 1936.1L1479.8 1912.1M1484.5 1917.9L1479.8 1912.1L1475.6 1918.3L1479.9 1915.4ZM1480.2 1866.1L1480.5 1842.1M1484.9 1848.1L1480.5 1842.1L1475.9 1848L1480.4 1845.4ZM1475.8 1830.1L1484.9 1807.9M1486.8 1815.2L1484.9 1807.9L1478.4 1811.8L1483.6 1811ZM1480.5 1761L1480.1 1737M1484.7 1742.9L1480.1 1737L1475.7 1743.1L1480.2 1740.3ZM1480.4 1726L1480.3 1702M1484.8 1708L1480.3 1702L1475.8 1708L1480.3 1705.3ZM1479.1 1690.9L1481.5 1667M1485.4 1673.5L1481.5 1667L1476.4 1672.6L1481.2 1670.3ZM1477.5 1655.6L1483.1 1632.3M1486.1 1639.2L1483.1 1632.3L1477.3 1637.1L1482.3 1635.5ZM1523.2 2125.1L1507.6 2143.3M1508.1 2135.8L1507.6 2143.3L1514.9 2141.7L1509.8 2140.8ZM1523.4 2090.2L1507.4 2108.2M1508.1 2100.7L1507.4 2108.2L1514.8 2106.6L1509.6 2105.7ZM1525.2 2057.3L1505.6 2071M1507.9 2063.9L1505.6 2071L1513.1 2071.3L1508.3 2069.1ZM1521.4 1969.5L1509.4 1948.7M1516.3 1951.7L1509.4 1948.7L1508.5 1956.2L1511 1951.6ZM1516.8 1936L1514 1912.2M1519.2 1917.6L1514 1912.2L1510.2 1918.7L1514.4 1915.5ZM1514.7 1866L1516.1 1842.1M1520.3 1848.3L1516.1 1842.1L1511.3 1847.8L1515.9 1845.4ZM1509.8 1829.7L1521 1808.4M1522.2 1815.8L1521 1808.4L1514.2 1811.6L1519.5 1811.3ZM1514.4 1690.9L1516.4 1667M1520.4 1673.4L1516.4 1667L1511.4 1672.6L1516.1 1670.3ZM1511.1 1655.2L1519.7 1632.8M1521.8 1640L1519.7 1632.8L1513.4 1636.7L1518.5 1635.8ZM1554.6 2157.9L1546.3 2180.5M1544.2 2173.3L1546.3 2180.5L1552.6 2176.4L1547.5 2177.4ZM1555.6 2123.4L1545.3 2145M1543.9 2137.7L1545.3 2145L1552 2141.5L1546.8 2142.1ZM1555.8 2088.4L1545.2 2109.9M1543.8 2102.6L1545.2 2109.9L1551.9 2106.5L1546.6 2107ZM1559.1 2055.8L1541.8 2072.5M1543.1 2065.1L1541.8 2072.5L1549.3 2071.6L1544.2 2070.2ZM1560.5 2022.6L1540.5 2035.7M1543 2028.7L1540.5 2035.7L1547.9 2036.2L1543.2 2033.9ZM1552.7 1935.9L1548.3 1912.3M1553.8 1917.4L1548.3 1912.3L1545 1919L1548.9 1915.5ZM1550.4 1866.1L1550.5 1842.1M1555 1848.1L1550.5 1842.1L1546 1848L1550.5 1845.4ZM1547.7 1830.7L1553.3 1807.4M1556.3 1814.3L1553.3 1807.4L1547.5 1812.2L1552.5 1810.6ZM1548.9 1690.9L1552 1667.1M1555.7 1673.6L1552 1667.1L1546.8 1672.4L1551.6 1670.3ZM1589.8 2158L1581.4 2180.4M1579.3 2173.2L1581.4 2180.4L1587.7 2176.4L1582.5 2177.4ZM1590.8 2123.4L1580.4 2145M1578.9 2137.7L1580.4 2145L1587 2141.5L1581.8 2142ZM1591.6 2088.8L1579.6 2109.6M1578.7 2102.1L1579.6 2109.6L1586.5 2106.6L1581.2 2106.7ZM1594.1 2055.7L1577.1 2072.6M1578.2 2065.2L1577.1 2072.6L1584.5 2071.6L1579.4 2070.3ZM1595.2 2021.9L1576 2036.4M1578.1 2029.2L1576 2036.4L1583.5 2036.3L1578.6 2034.4ZM1596.5 1989.1L1574.7 1999.1M1578.3 1992.5L1574.7 1999.1L1582 2000.7L1577.7 1997.8ZM1586.5 1901L1584.6 1877.1M1589.6 1882.7L1584.6 1877.1L1580.6 1883.4L1584.9 1880.4ZM1585.8 1866.1L1585.4 1842.1M1590 1848L1585.4 1842.1L1581 1848.1L1585.4 1845.4ZM1585 1831L1586.2 1807.1M1590.4 1813.3L1586.2 1807.1L1581.4 1812.8L1586 1810.4ZM1583.6 1690.8L1587.6 1667.1M1591 1673.8L1587.6 1667.1L1582.2 1672.3L1587.1 1670.4ZM1582.5 1655.6L1588.7 1632.4M1591.5 1639.3L1588.7 1632.4L1582.8 1637L1587.8 1635.6ZM1624.9 2228L1616.5 2250.5M1614.3 2243.3L1616.5 2250.5L1622.8 2246.4L1617.6 2247.4ZM1625.2 2193.1L1616.1 2215.3M1614.2 2208.1L1616.1 2215.3L1622.5 2211.5L1617.3 2212.3ZM1625.1 2158L1616.3 2180.4M1614.3 2173.1L1616.3 2180.4L1622.7 2176.4L1617.5 2177.3ZM1626.9 2124L1614.4 2144.4M1613.7 2137L1614.4 2144.4L1621.4 2141.7L1616.1 2141.6ZM1627.6 2089.4L1613.7 2109M1613.5 2101.5L1613.7 2109L1620.9 2106.7L1615.6 2106.3ZM1629.1 2055.6L1612.2 2072.7M1613.2 2065.2L1612.2 2072.7L1619.6 2071.6L1614.5 2070.3ZM1629.7 2021.2L1611.6 2037.1M1613.2 2029.7L1611.6 2037.1L1619.1 2036.5L1614.1 2034.9ZM1621.9 1901L1619.4 1877.1M1624.5 1882.6L1619.4 1877.1L1615.6 1883.6L1619.8 1880.4ZM1620.8 1866.1L1620.6 1842.1M1625.1 1848L1620.6 1842.1L1616.1 1848.1L1620.6 1845.4ZM1620.8 1831L1620.5 1807M1625.1 1813L1620.5 1807L1616.1 1813.1L1620.5 1810.3ZM1614.9 1689.5L1626.4 1668.4M1627.5 1675.9L1626.4 1668.4L1619.6 1671.6L1624.8 1671.3ZM1615.5 1654.8L1625.8 1633.1M1627.3 1640.5L1625.8 1633.1L1619.2 1636.6L1624.4 1636.1ZM1661.8 2158.8L1649.8 2179.6M1648.9 2172.2L1649.8 2179.6L1656.6 2176.7L1651.4 2176.7ZM1662.4 2124.2L1649.1 2144.2M1648.7 2136.7L1649.1 2144.2L1656.2 2141.7L1650.9 2141.4ZM1663.1 2089.7L1648.4 2108.6M1648.5 2101.1L1648.4 2108.6L1655.6 2106.7L1650.4 2106ZM1664.3 2055.7L1647.3 2072.6M1648.3 2065.2L1647.3 2072.6L1654.7 2071.6L1649.6 2070.3ZM1664.4 2020.8L1647.1 2037.5M1648.3 2030.1L1647.1 2037.5L1654.6 2036.5L1649.5 2035.2ZM1664.7 1986.2L1646.8 2002.1M1648.3 1994.7L1646.8 2002.1L1654.2 2001.5L1649.2 1999.9ZM1659.8 1865.4L1651.7 1842.8M1658 1846.9L1651.7 1842.8L1649.5 1849.9L1652.8 1845.9ZM1650.6 1689.8L1660.9 1668.1M1662.4 1675.5L1660.9 1668.1L1654.3 1671.6L1659.5 1671.1ZM1650.5 1654.7L1661 1633.2M1662.4 1640.5L1661 1633.2L1654.3 1636.6L1659.6 1636.1ZM1699.1 2125.4L1682.6 2142.9M1683.5 2135.5L1682.6 2142.9L1690 2141.6L1684.9 2140.5ZM1699.3 2090.7L1682.3 2107.6M1683.4 2100.2L1682.3 2107.6L1689.8 2106.6L1684.7 2105.3ZM1699.9 2056.3L1681.7 2072M1683.4 2064.7L1681.7 2072L1689.2 2071.5L1684.2 2069.8ZM1700.1 2021.5L1681.6 2036.8M1683.4 2029.5L1681.6 2036.8L1689.1 2036.4L1684.1 2034.7ZM1700.1 1986.5L1681.6 2001.8M1683.4 1994.5L1681.6 2001.8L1689.1 2001.4L1684.1 1999.7ZM1700.7 1952.3L1681 1965.9M1683.4 1958.8L1681 1965.9L1688.4 1966.2L1683.7 1964ZM1695.7 1865L1685.9 1843.1M1692.5 1846.7L1685.9 1843.1L1684.3 1850.4L1687.3 1846.1ZM1685 1689.5L1696.7 1668.5M1697.7 1675.9L1696.7 1668.5L1689.8 1671.5L1695.1 1671.4ZM1685.5 1654.7L1696.2 1633.2M1697.6 1640.6L1696.2 1633.2L1689.5 1636.6L1694.7 1636.2ZM1734.7 2126L1717.2 2142.4M1718.5 2135L1717.2 2142.4L1724.6 2141.6L1719.6 2140.1ZM1734.9 2091.3L1716.9 2107.1M1718.5 2099.8L1716.9 2107.1L1724.4 2106.5L1719.4 2104.9ZM1735.2 2056.5L1716.7 2071.8M1718.4 2064.5L1716.7 2071.8L1724.2 2071.5L1719.2 2069.7ZM1735.2 2021.6L1716.6 2036.7M1718.4 2029.4L1716.6 2036.7L1724.1 2036.4L1719.2 2034.6ZM1735.1 1986.4L1716.7 2001.8M1718.4 1994.5L1716.7 2001.8L1724.2 2001.4L1719.3 1999.7ZM1734.7 1950.9L1717.2 1967.3M1718.5 1959.9L1717.2 1967.3L1724.6 1966.5L1719.6 1965ZM1721.5 1690.1L1730.3 1667.8M1732.3 1675L1730.3 1667.8L1723.9 1671.7L1729.1 1670.9ZM1722 1655.3L1729.9 1632.6M1732.2 1639.8L1729.9 1632.6L1723.7 1636.8L1728.8 1635.7ZM1770.9 2092.3L1751.2 2106M1753.5 2098.9L1751.2 2106L1758.7 2106.3L1753.9 2104.2ZM1771.6 2058.6L1750.4 2069.8M1753.6 2063L1750.4 2069.8L1757.8 2070.9L1753.3 2068.2ZM1771.9 2024L1750.2 2034.3M1753.7 2027.6L1750.2 2034.3L1757.5 2035.8L1753.2 2032.9ZM1771.2 1987.8L1750.8 2000.4M1753.6 1993.4L1750.8 2000.4L1758.3 2001.1L1753.6 1998.7ZM1770.2 1951.4L1751.8 1966.8M1753.5 1959.5L1751.8 1966.8L1759.3 1966.4L1754.3 1964.7ZM1771.8 1918.9L1750.2 1929.3M1753.7 1922.6L1750.2 1929.3L1757.6 1930.7L1753.2 1927.9ZM1806.6 2093.4L1785.6 2105M1788.7 2098.1L1785.6 2105L1793 2106L1788.5 2103.4ZM1807 2059.1L1785.2 2069.2M1788.8 2062.6L1785.2 2069.2L1792.5 2070.8L1788.2 2067.8ZM1807.3 2024.8L1784.9 2033.5M1788.9 2027.1L1784.9 2033.5L1792.1 2035.5L1788 2032.3ZM1807.4 1990L1784.8 1998.3M1788.9 1992L1784.8 1998.3L1792 2000.4L1787.9 1997.1ZM1806.9 1953.8L1785.3 1964.4M1788.7 1957.7L1785.3 1964.4L1792.7 1965.8L1788.3 1963ZM1806.5 1918.1L1785.7 1930M1788.7 1923.2L1785.7 1930L1793.1 1931L1788.6 1928.4ZM1796.4 1691L1795.8 1667M1800.5 1672.9L1795.8 1667L1791.5 1673.1L1795.9 1670.3ZM1796.7 1655.9L1795.6 1632M1800.3 1637.8L1795.6 1632L1791.3 1638.2L1795.7 1635.3ZM1795.3 1620.9L1796.9 1597M1801 1603.3L1796.9 1597L1792 1602.7L1796.7 1600.3ZM1842.7 2095.9L1819.7 2102.5M1824.2 2096.5L1819.7 2102.5L1826.7 2105.2L1822.8 2101.6ZM1842.9 2061.4L1819.5 2066.9M1824.3 2061.2L1819.5 2066.9L1826.4 2069.9L1822.7 2066.2ZM1843 1956.7L1819.4 1961.5M1824.4 1955.9L1819.4 1961.5L1826.2 1964.7L1822.7 1960.8ZM1843 1922L1819.4 1926.2M1824.5 1920.7L1819.4 1926.2L1826.1 1929.6L1822.6 1925.6ZM1842.6 1885.5L1819.7 1892.7M1824.1 1886.6L1819.7 1892.7L1826.8 1895.2L1822.9 1891.7ZM1831.6 1620.9L1830.8 1596.9M1835.5 1602.8L1830.8 1596.9L1826.5 1603.1L1830.9 1600.2ZM1828.8 1550.7L1833.6 1527.2M1836.8 1533.9L1833.6 1527.2L1828 1532.1L1833 1530.4ZM1877.8 2096L1854.7 2102.4M1859.3 2096.4L1854.7 2102.4L1861.7 2105.1L1857.9 2101.5ZM1878 2061.5L1854.6 2066.8M1859.4 2061.1L1854.6 2066.8L1861.4 2069.9L1857.8 2066.1ZM1878.3 1853.4L1854.3 1854.7M1860 1849.9L1854.3 1854.7L1860.5 1858.9L1857.6 1854.5ZM1866.6 1620.9L1866 1596.9M1870.6 1602.8L1866 1596.9L1861.6 1603.1L1866 1600.2ZM1865.9 1585.9L1866.7 1561.9M1871 1568.1L1866.7 1561.9L1862 1567.8L1866.6 1565.2ZM1863.2 1550.5L1869.4 1527.3M1872.2 1534.3L1869.4 1527.3L1863.5 1532L1868.5 1530.5ZM1912.8 2060.7L1889.9 2067.7M1894.3 2061.6L1889.9 2067.7L1896.9 2070.2L1893 2066.7ZM1913.2 1887.2L1889.5 1891M1894.7 1885.6L1889.5 1891L1896.2 1894.5L1892.8 1890.5ZM1913.2 1852.1L1889.5 1856M1894.7 1850.6L1889.5 1856L1896.2 1859.5L1892.8 1855.5ZM1901.3 1620.9L1901.4 1596.9M1905.9 1603L1901.4 1596.9L1896.9 1602.9L1901.4 1600.2ZM1899.1 1585.7L1903.6 1562.1M1906.9 1568.9L1903.6 1562.1L1898.1 1567.2L1903 1565.4ZM1895.9 1549.6L1906.8 1528.2M1908.1 1535.6L1906.8 1528.2L1900.1 1531.5L1905.3 1531.2ZM1948.3 1886.9L1924.7 1891.3M1929.7 1885.7L1924.7 1891.3L1931.4 1894.6L1927.9 1890.7ZM1948.1 1851L1924.9 1857.1M1929.5 1851.2L1924.9 1857.1L1931.8 1859.9L1928 1856.3ZM1935.4 1620.9L1937.6 1597M1941.5 1603.4L1937.6 1597L1932.5 1602.6L1937.3 1600.3ZM1934 1585.7L1938.9 1562.2M1942.1 1569L1938.9 1562.2L1933.3 1567.1L1938.3 1565.4ZM1930.5 1549.3L1942.4 1528.5M1943.3 1536L1942.4 1528.5L1935.5 1531.5L1940.8 1531.4ZM1982.8 1884.9L1960.3 1893.2M1964.4 1886.9L1960.3 1893.2L1967.5 1895.4L1963.4 1892.1ZM1982.1 1848.3L1961 1859.8M1964.1 1853L1961 1859.8L1968.5 1860.9L1963.9 1858.3ZM1981.6 1812.4L1961.5 1825.7M1964.1 1818.6L1961.5 1825.7L1969 1826.1L1964.3 1823.8ZM1963.9 1548.2L1979.2 1529.6M1978.8 1537.1L1979.2 1529.6L1971.9 1531.4L1977.1 1532.2ZM2017.9 1920L1995.4 1928.2M1999.4 1921.9L1995.4 1928.2L2002.6 1930.4L1998.5 1927.1ZM2017.7 1884.3L1995.6 1893.8M1999.3 1887.3L1995.6 1893.8L2002.9 1895.6L1998.6 1892.5ZM2017 1847.9L1996.3 1860.2M1999.2 1853.2L1996.3 1860.2L2003.8 1861L1999.1 1858.5ZM2016.6 1812.3L1996.7 1825.8M1999.1 1818.7L1996.7 1825.8L2004.2 1826.1L1999.4 1823.9ZM2052.6 1883.9L2030.9 1894.2M2034.4 1887.6L2030.9 1894.2L2038.2 1895.7L2033.9 1892.8ZM2051 1846.5L2032.4 1861.7M2034.2 1854.4L2032.4 1861.7L2039.9 1861.3L2035 1859.6ZM2050.9 1811.4L2032.5 1826.7M2034.2 1819.4L2032.5 1826.7L2040 1826.3L2035 1824.6ZM2050.4 1775.8L2033 1792.3M2034.3 1784.9L2033 1792.3L2040.5 1791.4L2035.4 1790ZM2041.9 1656L2041.6 1632M2046.1 1637.9L2041.6 1632L2037.1 1638L2041.6 1635.3ZM2087.5 1883.6L2066.1 1894.5M2069.4 1887.8L2066.1 1894.5L2073.5 1895.8L2069.1 1893ZM2086.3 1846.7L2067.3 1861.4M2069.3 1854.2L2067.3 1861.4L2074.8 1861.3L2069.9 1859.4ZM2086.1 1811.5L2067.5 1826.6M2069.3 1819.3L2067.5 1826.6L2075 1826.3L2070 1824.5ZM2086.7 1777.2L2066.9 1790.9M2069.3 1783.7L2066.9 1790.9L2074.4 1791.1L2069.7 1789ZM2088.2 1745.3L2065.4 1752.7M2069.7 1746.6L2065.4 1752.7L2072.5 1755.1L2068.5 1751.7ZM2077.4 1655.9L2076.2 1632M2081 1637.7L2076.2 1632L2072 1638.2L2076.4 1635.3ZM2122.6 1883.6L2101.2 1894.5M2104.5 1887.8L2101.2 1894.5L2108.6 1895.8L2104.1 1893ZM2121.4 1846.7L2102.4 1861.4M2104.4 1854.2L2102.4 1861.4L2109.9 1861.3L2105 1859.4ZM2121.3 1811.5L2102.5 1826.6M2104.4 1819.3L2102.5 1826.6L2110 1826.3L2105.1 1824.5ZM2122 1777.5L2101.8 1790.6M2104.4 1783.5L2101.8 1790.6L2109.3 1791.1L2104.6 1788.8ZM2123.5 1746.1L2100.2 1751.9M2105 1746.1L2100.2 1751.9L2107.1 1754.8L2103.4 1751.1ZM2156.9 1812.3L2137.1 1825.8M2139.5 1818.7L2137.1 1825.8L2144.6 1826.1L2139.8 1824ZM2157.8 1778.9L2136.1 1789.2M2139.6 1782.5L2136.1 1789.2L2143.5 1790.7L2139.1 1787.7ZM2158.8 1747L2135.1 1751M2140.3 1745.6L2135.1 1751L2141.8 1754.4L2138.4 1750.5ZM2192.7 1778.4L2171.5 1789.7M2174.7 1782.9L2171.5 1789.7L2178.9 1790.8L2174.4 1788.1Z" fill="#000" fill-opacity=".7" stroke="#06061c" stroke-opacity=".92" stroke-width="1.1" stroke-linejoin="miter"/>
<path d="M1406.6 1692.5L1413.7 1665.4M1417.2 1673.6L1413.7 1665.4L1406.6 1670.8L1412.7 1669.2ZM1405.2 1657.1L1415.1 1630.9M1417.8 1639.3L1415.1 1630.9L1407.5 1635.5L1413.7 1634.5ZM1404.3 1621.7L1416 1596.2M1418.1 1604.9L1416 1596.2L1408.1 1600.3L1414.4 1599.7ZM1441.7 1692.5L1448.8 1665.4M1452.3 1673.6L1448.8 1665.4L1441.7 1670.8L1447.8 1669.2ZM1440.2 1657L1450.3 1630.9M1452.9 1639.4L1450.3 1630.9L1442.6 1635.4L1448.9 1634.5ZM1439.3 1621.6L1451.1 1596.2M1453.2 1604.9L1451.1 1596.2L1443.2 1600.3L1449.5 1599.7ZM1438.4 1586.2L1452 1561.7M1453.4 1570.5L1452 1561.7L1443.8 1565.1L1450.2 1565.1ZM1438.2 1551L1452.2 1526.8M1453.5 1535.6L1452.2 1526.8L1444 1530.1L1450.3 1530.1ZM1480.4 1903.1L1480.3 1875.1M1485.8 1882.1L1480.3 1875.1L1474.8 1882.1L1480.3 1878.9ZM1474.4 1621.6L1486.2 1596.2M1488.3 1604.9L1486.2 1596.2L1478.3 1600.3L1484.6 1599.7ZM1473.4 1586.1L1487.2 1561.7M1488.6 1570.5L1487.2 1561.7L1479 1565.1L1485.3 1565.1ZM1473.3 1551L1487.3 1526.8M1488.6 1535.6L1487.3 1526.8L1479 1530.1L1485.4 1530.1ZM1518.6 2295.6L1512.2 2322.9M1508.5 2314.9L1512.2 2322.9L1519.2 2317.3L1513.1 2319.2ZM1519.4 2260.8L1511.4 2287.7M1508.1 2279.4L1511.4 2287.7L1518.7 2282.5L1512.5 2284ZM1520.8 2226.3L1510 2252.2M1507.6 2243.6L1510 2252.2L1517.8 2247.8L1511.5 2248.6ZM1521.9 2191.8L1508.9 2216.6M1507.3 2207.9L1508.9 2216.6L1517 2213L1510.7 2213.2ZM1515.7 1903.1L1515.1 1875.1M1520.7 1881.9L1515.1 1875.1L1509.7 1882.2L1515.2 1878.9ZM1507.6 1620.6L1523.2 1597.3M1523.9 1606.2L1523.2 1597.3L1514.7 1600.1L1521.1 1600.5ZM1508.4 1586.1L1522.4 1561.8M1523.7 1570.6L1522.4 1561.8L1514.1 1565.1L1520.5 1565.1ZM1508.5 1551.1L1522.4 1526.8M1523.7 1535.6L1522.4 1526.8L1514.1 1530.1L1520.4 1530.1ZM1553.5 2295.6L1547.5 2322.9M1543.6 2314.9L1547.5 2322.9L1554.3 2317.3L1548.3 2319.2ZM1554.2 2260.8L1546.8 2287.8M1543.3 2279.6L1546.8 2287.8L1554 2282.5L1547.8 2284.1ZM1555 2226L1546 2252.5M1543 2244.1L1546 2252.5L1553.5 2247.6L1547.2 2248.9ZM1555.5 2191.1L1545.5 2217.3M1542.9 2208.8L1545.5 2217.3L1553.1 2212.7L1546.9 2213.7ZM1550.7 1903.1L1550.3 1875.1M1555.9 1882L1550.3 1875.1L1544.9 1882.2L1550.4 1878.9ZM1544.6 1656.6L1556.4 1631.3M1558.4 1639.9L1556.4 1631.3L1548.5 1635.3L1554.8 1634.8ZM1542.7 1620.5L1558.3 1597.3M1559 1606.2L1558.3 1597.3L1549.9 1600.1L1556.2 1600.5ZM1589.3 2225.8L1581.8 2252.7M1578.4 2244.5L1581.8 2252.7L1589 2247.5L1582.8 2249ZM1589.5 2190.8L1581.7 2217.7M1578.3 2209.4L1581.7 2217.7L1588.9 2212.5L1582.7 2214ZM1648.6 1551L1662.9 1526.9M1664.1 1535.7L1662.9 1526.9L1654.6 1530.1L1660.9 1530.2ZM1719.6 1621.4L1732.3 1596.5M1734 1605.2L1732.3 1596.5L1724.2 1600.2L1730.5 1599.9ZM1719 1586.1L1732.9 1561.8M1734.2 1570.6L1732.9 1561.8L1724.6 1565.1L1731 1565.1ZM1719.5 1551.4L1732.3 1526.5M1734 1535.2L1732.3 1526.5L1724.2 1530.2L1730.6 1529.9ZM1755.6 1621.9L1766.4 1596M1768.8 1604.6L1766.4 1596L1758.6 1600.4L1764.9 1599.6ZM1754.3 1586.2L1767.8 1561.7M1769.2 1570.5L1767.8 1561.7L1759.6 1565.1L1765.9 1565ZM1755.7 1551.9L1766.3 1526M1768.8 1534.5L1766.3 1526L1758.6 1530.3L1764.9 1529.5ZM1794.7 1587.9L1797.5 1560M1802.3 1567.5L1797.5 1560L1791.3 1566.4L1797.1 1563.8ZM1794.2 1552.8L1798.1 1525M1802.5 1532.7L1798.1 1525L1791.6 1531.2L1797.5 1528.9ZM1845.1 2027.2L1817.3 2031.1M1823.5 2024.7L1817.3 2031.1L1825 2035.6L1821.1 2030.6ZM1845.1 1992.2L1817.3 1996.1M1823.5 1989.7L1817.3 1996.1L1825 2000.5L1821.1 1995.5ZM1830.1 1587.9L1832.3 1560M1837.2 1567.4L1832.3 1560L1826.2 1566.5L1832 1563.8ZM1825.9 1516.8L1836.5 1490.9M1838.9 1499.5L1836.5 1490.9L1828.8 1495.3L1835 1494.5ZM1825.3 1481.6L1837.1 1456.2M1839.1 1464.8L1837.1 1456.2L1829.1 1460.2L1835.5 1459.7ZM1880.2 2027.9L1852.3 2030.4M1858.8 2024.3L1852.3 2030.4L1859.8 2035.2L1856.2 2030.1ZM1880.3 1994L1852.3 1994.3M1859.2 1988.7L1852.3 1994.3L1859.3 1999.7L1856.1 1994.2ZM1880.3 1958.8L1852.3 1959.4M1859.2 1953.8L1852.3 1959.4L1859.4 1964.8L1856.1 1959.3ZM1880.3 1923.6L1852.3 1924.5M1859.1 1918.8L1852.3 1924.5L1859.5 1929.8L1856.1 1924.4ZM1880.3 1888.3L1852.3 1889.9M1859 1884L1852.3 1889.9L1859.6 1895L1856.1 1889.7ZM1861 1516.9L1871.6 1490.9M1874 1499.5L1871.6 1490.9L1863.8 1495.3L1870.1 1494.5ZM1860.3 1481.6L1872.2 1456.2M1874.2 1464.9L1872.2 1456.2L1864.3 1460.2L1870.6 1459.7ZM1915.2 2026.9L1887.5 2031.3M1893.6 2024.8L1887.5 2031.3L1895.3 2035.7L1891.3 2030.7ZM1915.4 1994L1887.4 1994.2M1894.3 1988.7L1887.4 1994.2L1894.4 1999.7L1891.2 1994.2ZM1915.4 1959L1887.4 1959.2M1894.3 1953.7L1887.4 1959.2L1894.4 1964.7L1891.2 1959.2ZM1915.3 1922.9L1887.4 1925.2M1893.9 1919.2L1887.4 1925.2L1894.8 1930.2L1891.3 1924.9ZM1893.4 1515.4L1909.4 1492.4M1909.9 1501.3L1909.4 1492.4L1900.9 1495L1907.2 1495.6ZM1892.1 1479.3L1910.7 1458.4M1910.1 1467.3L1910.7 1458.4L1901.9 1460L1908.1 1461.3ZM1950.4 1922.8L1922.5 1925.4M1929 1919.3L1922.5 1925.4L1930 1930.2L1926.4 1925ZM1927.1 1514.3L1945.8 1493.5M1945.2 1502.4L1945.8 1493.5L1937.1 1495L1943.3 1496.4ZM1926.3 1478.5L1946.6 1459.2M1945.3 1468L1946.6 1459.2L1937.7 1460.1L1943.8 1461.9Z" fill="#000" fill-opacity=".7" stroke="#06061c" stroke-opacity=".92" stroke-width="1.2" stroke-linejoin="miter"/>
<path d="M1576.8 1622.3L1594.4 1595.6M1595.5 1605.3L1594.4 1595.6L1585 1598.4L1592.1 1599ZM1576.6 1587.1L1594.6 1560.7M1595.6 1570.5L1594.6 1560.7L1585.2 1563.4L1592.3 1564.1ZM1611.8 1622.2L1629.6 1595.6M1630.6 1605.4L1629.6 1595.6L1620.2 1598.4L1627.3 1599.1ZM1611.6 1587.1L1629.7 1560.7M1630.7 1570.5L1629.7 1560.7L1620.3 1563.4L1627.4 1564.1ZM1646.8 1622.2L1664.7 1595.7M1665.7 1605.4L1664.7 1595.7L1655.3 1598.4L1662.4 1599.1ZM1646.7 1587.1L1664.8 1560.7M1665.8 1570.5L1664.8 1560.7L1655.4 1563.4L1662.5 1564.1ZM1682 1622.3L1699.7 1595.6M1700.8 1605.3L1699.7 1595.6L1690.3 1598.4L1697.4 1599ZM1681.9 1587.2L1699.8 1560.7M1700.8 1570.4L1699.8 1560.7L1690.4 1563.4L1697.5 1564.1Z" fill="#000" fill-opacity=".7" stroke="#06061c" stroke-opacity=".92" stroke-width="1.3" stroke-linejoin="miter"/>
<rect x="1270.2" y="1403" width="994.4" height="1041" fill="none" stroke="#000" stroke-width="2.6"/>
<path d="M1392.6 1403v-11.5M1392.6 2444v11.5M1532.9 1403v-11.5M1532.9 2444v11.5M1673.3 1403v-11.5M1673.3 2444v11.5M1813.6 1403v-11.5M1813.6 2444v11.5M1954 1403v-11.5M1954 2444v11.5M2094.3 1403v-11.5M2094.3 2444v11.5M2234.7 1403v-11.5M2234.7 2444v11.5M1270.2 2361.8h-11.5M2264.6 2361.8h11.5M1270.2 2221.7h-11.5M2264.6 2221.7h11.5M1270.2 2081.7h-11.5M2264.6 2081.7h11.5M1270.2 1941.6h-11.5M2264.6 1941.6h11.5M1270.2 1801.5h-11.5M2264.6 1801.5h11.5M1270.2 1661.5h-11.5M2264.6 1661.5h11.5M1270.2 1521.4h-11.5M2264.6 1521.4h11.5" stroke="#000" stroke-width="2.2" fill="none"/>
<text class="tk" x="1392.6" y="1384.5" text-anchor="middle">114°E</text>
<text class="tk" x="1392.6" y="2482" text-anchor="middle">114°E</text>
<text class="tk" x="1532.9" y="1384.5" text-anchor="middle">115°E</text>
<text class="tk" x="1532.9" y="2482" text-anchor="middle">115°E</text>
<text class="tk" x="1673.3" y="1384.5" text-anchor="middle">116°E</text>
<text class="tk" x="1673.3" y="2482" text-anchor="middle">116°E</text>
<text class="tk" x="1813.6" y="1384.5" text-anchor="middle">117°E</text>
<text class="tk" x="1813.6" y="2482" text-anchor="middle">117°E</text>
<text class="tk" x="1954" y="1384.5" text-anchor="middle">118°E</text>
<text class="tk" x="1954" y="2482" text-anchor="middle">118°E</text>
<text class="tk" x="2094.3" y="1384.5" text-anchor="middle">119°E</text>
<text class="tk" x="2094.3" y="2482" text-anchor="middle">119°E</text>
<text class="tk" x="2234.7" y="1384.5" text-anchor="middle">120°E</text>
<text class="tk" x="2234.7" y="2482" text-anchor="middle">120°E</text>
<text class="tk" x="1257.2" y="2371.3" text-anchor="end">36°N</text>
<text class="tk" x="2277.1" y="2371.3">36°N</text>
<text class="tk" x="1257.2" y="2231.2" text-anchor="end">37°N</text>
<text class="tk" x="2277.1" y="2231.2">37°N</text>
<text class="tk" x="1257.2" y="2091.2" text-anchor="end">38°N</text>
<text class="tk" x="2277.1" y="2091.2">38°N</text>
<text class="tk" x="1257.2" y="1951.1" text-anchor="end">39°N</text>
<text class="tk" x="2277.1" y="1951.1">39°N</text>
<text class="tk" x="1257.2" y="1811" text-anchor="end">40°N</text>
<text class="tk" x="2277.1" y="1811">40°N</text>
<text class="tk" x="1257.2" y="1671" text-anchor="end">41°N</text>
<text class="tk" x="2277.1" y="1671">41°N</text>
<text class="tk" x="1257.2" y="1530.9" text-anchor="end">42°N</text>
<text class="tk" x="2277.1" y="1530.9">42°N</text>
<text class="n" x="2168.4" y="1462.3" text-anchor="middle">N</text>
<path d="M2168.4 1473.4L2136.4 1582.2L2168.4 1540.2Z" fill="#000"/>
<path d="M2168.7 1479.4L2198.4 1578.7L2168.7 1540.2Z" fill="#fff" stroke="#000" stroke-width="2.4" stroke-linejoin="miter"/>
<rect x="1307.1" y="2399.3" width="325.9" height="11.6" fill="#fff" stroke="#000" stroke-width="1.5"/>
<rect x="1307.1" y="2399.3" width="20.4" height="11.6" fill="#000"/>
<rect x="1347.8" y="2399.3" width="20.4" height="11.6" fill="#000"/>
<rect x="1388.6" y="2399.3" width="81.5" height="11.6" fill="#000"/>
<rect x="1551.5" y="2399.3" width="81.5" height="11.6" fill="#000"/>
<text class="sb" x="1307.1" y="2385.3" text-anchor="middle">0</text>
<text class="sb" x="1347.8" y="2385.3" text-anchor="middle">20</text>
<text class="sb" x="1388.6" y="2385.3" text-anchor="middle">40</text>
<text class="sb" x="1470" y="2385.3" text-anchor="middle">80</text>
<text class="sb" x="1551.5" y="2385.3" text-anchor="middle">120</text>
<text class="sb" x="1633" y="2385.3" text-anchor="middle">160</text>
<text class="sb" x="1639.5" y="2410.4">Miles</text>
<text class="lh" x="1988.8" y="2040.3" textLength="202.4" lengthAdjust="spacingAndGlyphs">Wind Speed(m/s)</text>
<text class="lg" x="2047.4" y="2088.6" textLength="121.2" lengthAdjust="spacingAndGlyphs">0.00 - 0.92</text>
<path d="M2008.4 2088.6v-19.5M2005.4 2073.6l3 -4.5l3 4.5" fill="none" stroke="#000" stroke-width="1.2"/>
<text class="lg" x="2047.4" y="2136.9" textLength="121.2" lengthAdjust="spacingAndGlyphs">0.92 - 1.70</text>
<path d="M2008.4 2138.9v-23.6M2004.1 2121.3l4.3 -6l4.3 6" fill="none" stroke="#000" stroke-width="1.5"/>
<text class="lg" x="2047.4" y="2184.2" textLength="121.2" lengthAdjust="spacingAndGlyphs">1.70 - 2.57</text>
<path d="M2008.4 2186.7v-25.7M2002.9 2168.5l5.5 -7.5l5.5 7.5" fill="none" stroke="#000" stroke-width="1.7"/>
<text class="lg" x="2047.4" y="2232.4" textLength="121.2" lengthAdjust="spacingAndGlyphs">2.57 - 3.81</text>
<path d="M2008.4 2236.4v-29.8M2001.6 2215.6l6.8 -9l6.8 9" fill="none" stroke="#000" stroke-width="1.9"/>
<text class="lg" x="2047.4" y="2280.7" textLength="121.2" lengthAdjust="spacingAndGlyphs">3.81 - 5.83</text>
<path d="M2008.4 2288.7v-35M2000.2 2264.2l8.2 -10.5l8.2 10.5" fill="none" stroke="#000" stroke-width="2.1"/>
<text class="lh" x="1975.2" y="2323.5" textLength="264.4" lengthAdjust="spacingAndGlyphs">Relative Humidity(%)</text>
<rect x="1970.8" y="2362.7" width="52.7" height="57.8" fill="url(#lgd)"/>
<rect x="1970.8" y="2391.3" width="52.7" height="1.6" fill="#e8ffff"/>
<text x="2037.5" y="2371.7" style="font:29px 'Liberation Serif',serif" textLength="147.3" lengthAdjust="spacingAndGlyphs">High : 69.94</text>
<text x="2038.5" y="2431.4" style="font:29px 'Liberation Serif',serif" textLength="138.4" lengthAdjust="spacingAndGlyphs">Low : 19.78</text>
<text class="cap" y="2616.5"><tspan x="1431.3" textLength="86.3" lengthAdjust="spacingAndGlyphs">(d)</tspan> <tspan x="1539.7" textLength="264.6" lengthAdjust="spacingAndGlyphs">October</tspan> <tspan x="1829.5" textLength="90.5" lengthAdjust="spacingAndGlyphs">21,</tspan> <tspan x="1944.6" textLength="150.4" lengthAdjust="spacingAndGlyphs">2019</tspan></text>
</g>
</svg></body></html>
